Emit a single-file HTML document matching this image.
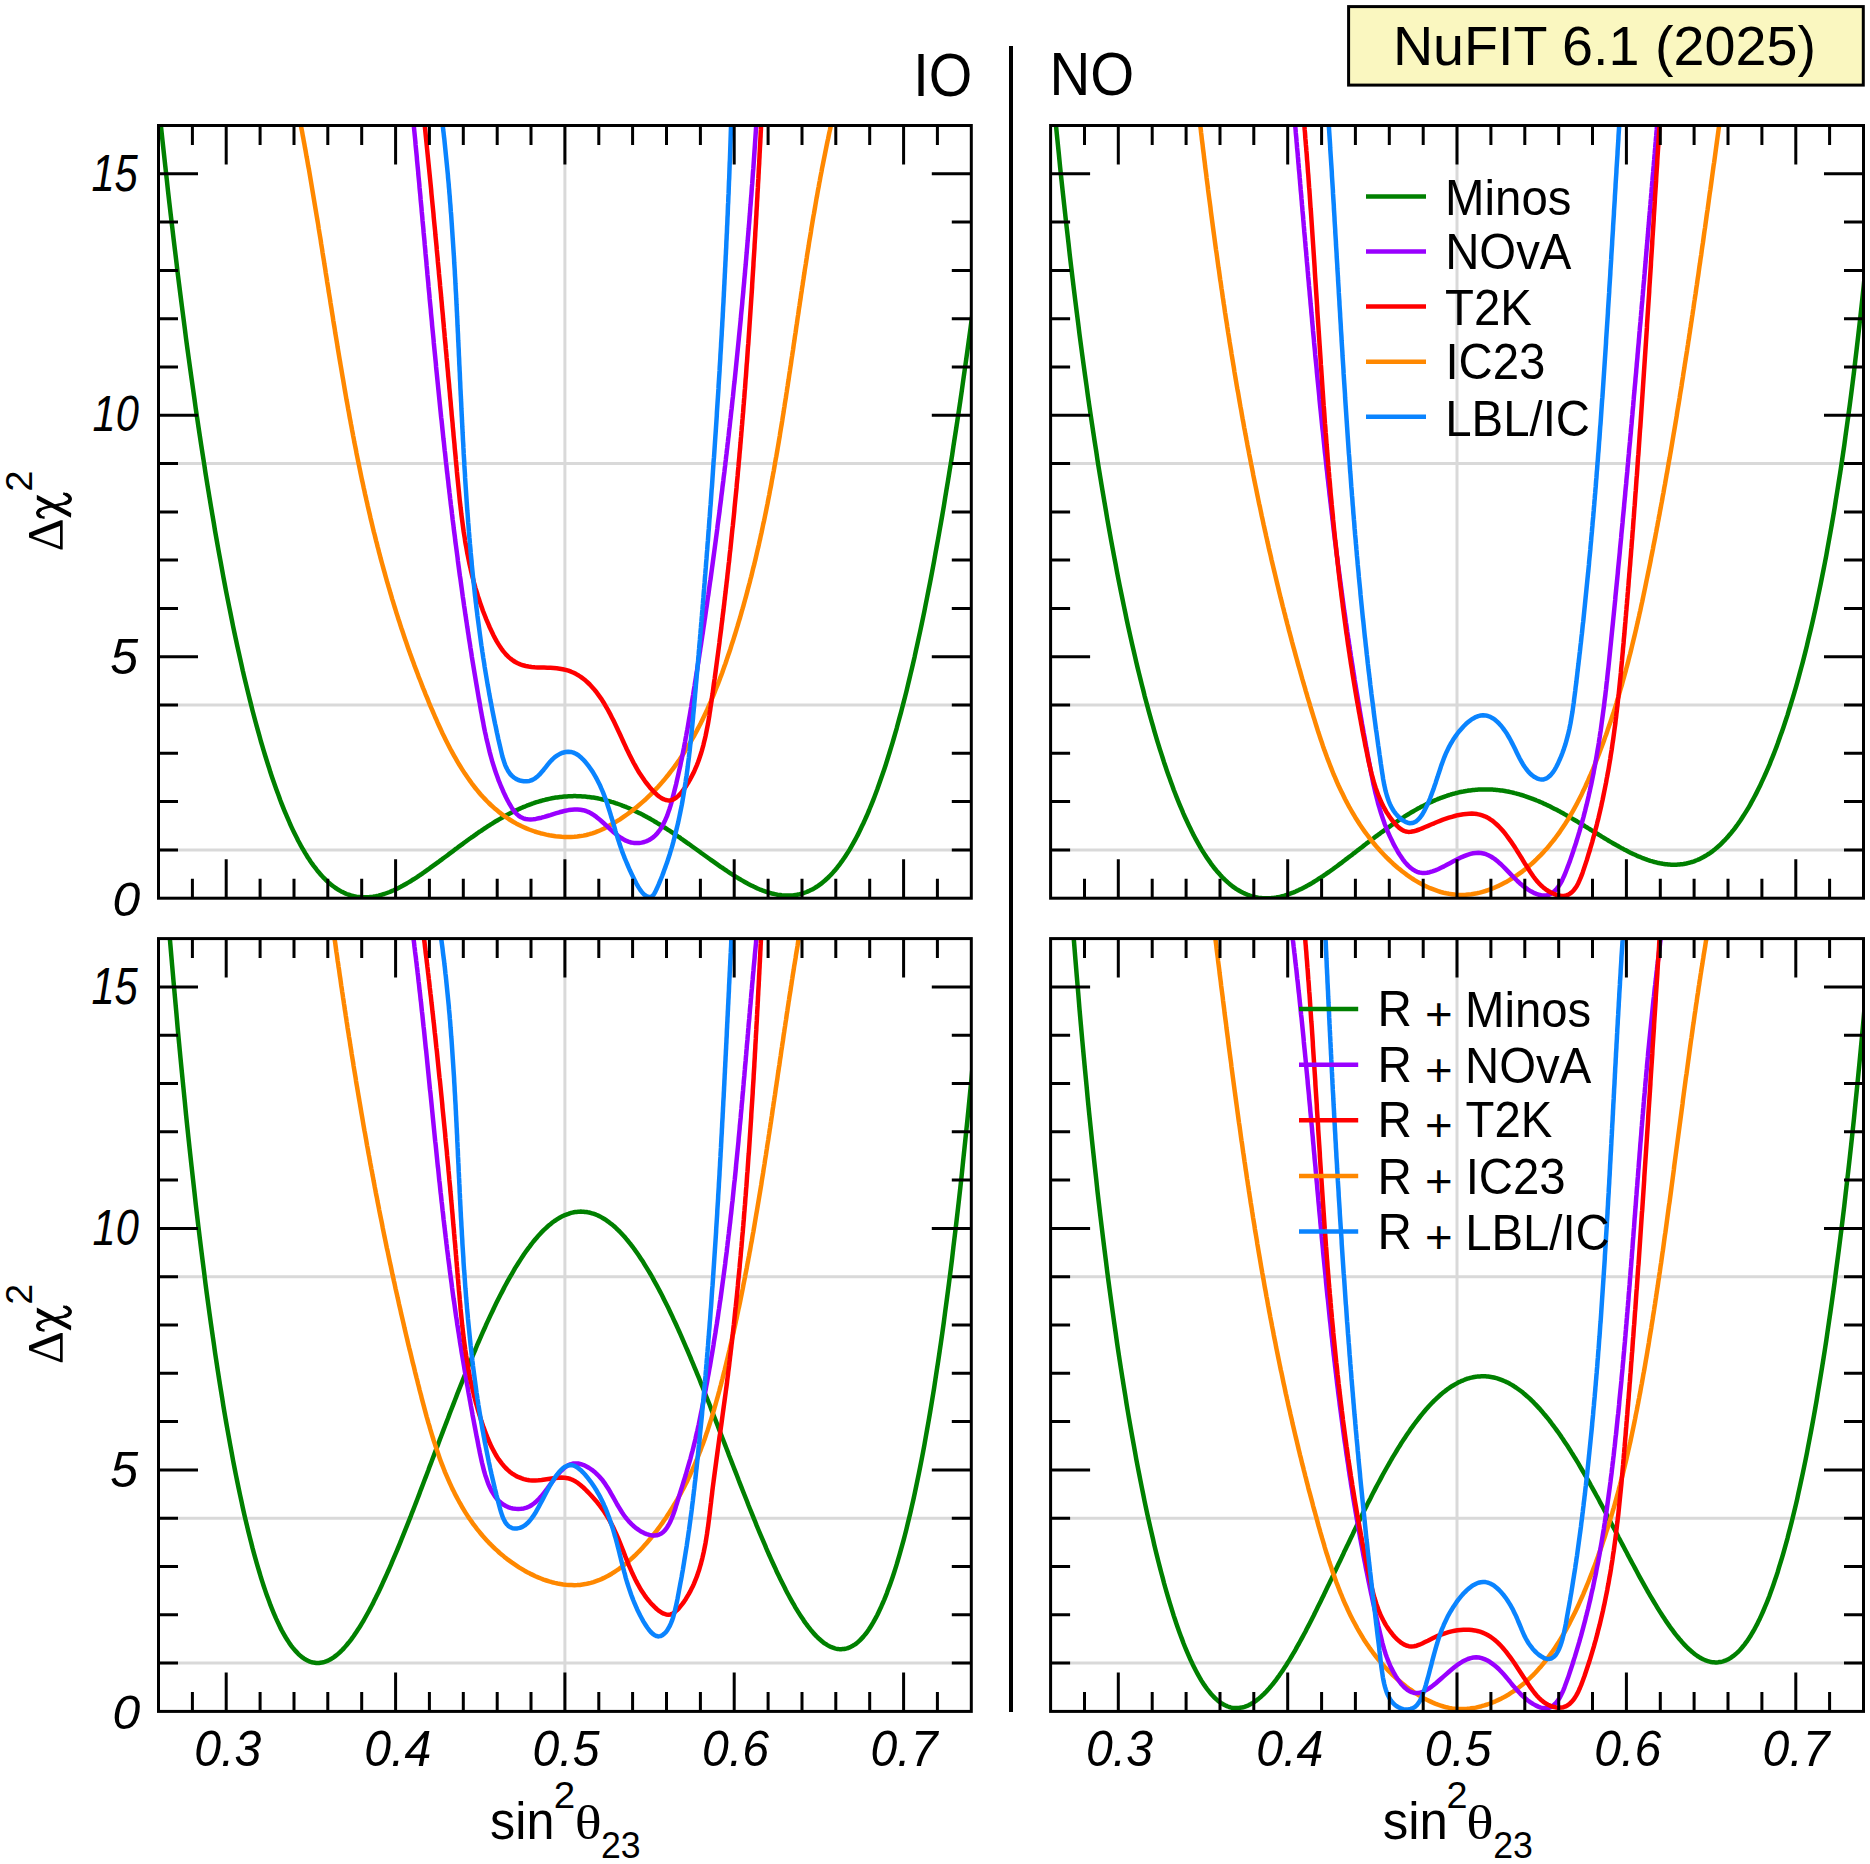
<!DOCTYPE html><html><head><meta charset="utf-8"><style>html,body{margin:0;padding:0;background:#fff;width:1870px;height:1864px;overflow:hidden}svg{display:block}</style></head><body>
<svg xmlns="http://www.w3.org/2000/svg" width="1870" height="1864" viewBox="0 0 1870 1864">
<rect width="1870" height="1864" fill="#fff"/>
<clipPath id="cTL"><rect x="158.5" y="125.5" width="812.8" height="772.7"/></clipPath>
<path d="M158.5 849.9H971.3 M158.5 705.0H971.3 M158.5 463.6H971.3 M564.9 125.5V898.2" stroke="#d9d9d9" stroke-width="3" fill="none"/>
<clipPath id="cBL"><rect x="158.5" y="938.6" width="812.8" height="772.8000000000001"/></clipPath>
<path d="M158.5 1663.1H971.3 M158.5 1518.2H971.3 M158.5 1276.7H971.3 M564.9 938.6V1711.4" stroke="#d9d9d9" stroke-width="3" fill="none"/>
<clipPath id="cTR"><rect x="1050.6" y="125.5" width="812.9000000000001" height="772.7"/></clipPath>
<path d="M1050.6 849.9H1863.5 M1050.6 705.0H1863.5 M1050.6 463.6H1863.5 M1457.0 125.5V898.2" stroke="#d9d9d9" stroke-width="3" fill="none"/>
<clipPath id="cBR"><rect x="1050.6" y="938.6" width="812.9000000000001" height="772.8000000000001"/></clipPath>
<path d="M1050.6 1663.1H1863.5 M1050.6 1518.2H1863.5 M1050.6 1276.7H1863.5 M1457.0 938.6V1711.4" stroke="#d9d9d9" stroke-width="3" fill="none"/>
<g clip-path="url(#cTL)" fill="none" stroke-width="4.5" stroke-linejoin="round" stroke-linecap="round">
<path d="M154.2 60.4 L155.6 74.2 L157.0 87.9 L158.3 101.4 L159.7 114.7 L161.1 127.8 L162.5 140.8 L163.9 153.6 L165.3 166.2 L166.7 178.7 L168.0 191.0 L169.4 203.2 L170.8 215.2 L172.2 227.1 L173.6 238.9 L175.0 250.4 L176.4 261.9 L177.7 273.2 L179.1 284.4 L180.5 295.4 L181.9 306.3 L183.3 317.0 L184.7 327.7 L186.0 338.2 L187.4 348.6 L188.8 358.8 L190.2 368.9 L191.6 378.9 L193.0 388.8 L194.4 398.6 L195.7 408.2 L197.1 417.7 L198.5 427.1 L199.9 436.4 L201.3 445.6 L202.7 454.6 L204.1 463.5 L205.4 472.4 L206.8 481.1 L208.2 489.7 L209.6 498.2 L211.0 506.6 L212.4 514.8 L213.8 523.0 L215.1 531.1 L216.5 539.0 L217.9 546.9 L219.3 554.6 L220.7 562.2 L222.1 569.8 L223.4 577.2 L224.8 584.5 L226.2 591.8 L227.6 598.9 L229.0 605.9 L230.4 612.8 L231.8 619.7 L233.1 626.4 L234.5 633.0 L235.9 639.5 L237.3 646.0 L238.7 652.3 L240.1 658.6 L241.5 664.7 L242.8 670.8 L244.2 676.7 L245.6 682.6 L247.0 688.3 L248.4 694.0 L249.8 699.6 L251.2 705.1 L252.5 710.5 L253.9 715.8 L255.3 721.0 L256.7 726.1 L258.1 731.2 L259.5 736.1 L260.8 741.0 L262.2 745.7 L263.6 750.4 L265.0 755.0 L266.4 759.5 L267.8 764.0 L269.2 768.3 L270.5 772.6 L271.9 776.7 L273.3 780.8 L274.7 784.8 L276.1 788.7 L277.5 792.6 L278.9 796.3 L280.2 800.0 L281.6 803.6 L283.0 807.1 L284.4 810.6 L285.8 813.9 L287.2 817.2 L288.6 820.4 L289.9 823.5 L291.3 826.6 L292.7 829.6 L294.1 832.5 L295.5 835.3 L296.9 838.0 L298.2 840.7 L299.6 843.3 L301.0 845.9 L302.4 848.3 L303.8 850.7 L305.2 853.1 L306.6 855.3 L307.9 857.5 L309.3 859.6 L310.7 861.7 L312.1 863.7 L313.5 865.6 L314.9 867.4 L316.3 869.2 L317.6 871.0 L319.0 872.6 L320.4 874.2 L321.8 875.8 L323.2 877.3 L324.6 878.7 L326.0 880.1 L327.3 881.4 L328.7 882.6 L330.1 883.8 L331.5 884.9 L332.9 886.0 L334.3 887.0 L335.6 888.0 L337.0 888.9 L338.4 889.8 L339.8 890.6 L341.2 891.4 L342.6 892.1 L344.0 892.8 L345.3 893.4 L346.7 894.0 L348.1 894.5 L349.5 894.9 L350.9 895.4 L352.3 895.8 L353.7 896.1 L355.0 896.4 L356.4 896.7 L357.8 896.9 L359.2 897.0 L360.6 897.2 L362.0 897.3 L363.4 897.3 L364.7 897.3 L366.1 897.3 L367.5 897.3 L368.9 897.2 L370.3 897.0 L371.7 896.9 L373.1 896.7 L374.4 896.4 L375.8 896.2 L377.2 895.9 L378.6 895.6 L380.0 895.2 L381.4 894.8 L382.7 894.4 L384.1 894.0 L385.5 893.5 L386.9 893.0 L388.3 892.5 L389.7 892.0 L391.1 891.4 L392.4 890.8 L393.8 890.2 L395.2 889.5 L396.6 888.9 L398.0 888.2 L399.4 887.5 L400.8 886.8 L402.1 886.1 L403.5 885.3 L404.9 884.5 L406.3 883.7 L407.7 882.9 L409.1 882.1 L410.5 881.3 L411.8 880.4 L413.2 879.5 L414.6 878.7 L416.0 877.8 L417.4 876.9 L418.8 875.9 L420.1 875.0 L421.5 874.1 L422.9 873.1 L424.3 872.2 L425.7 871.2 L427.1 870.2 L428.5 869.2 L429.8 868.2 L431.2 867.2 L432.6 866.2 L434.0 865.2 L435.4 864.2 L436.8 863.2 L438.2 862.2 L439.5 861.1 L440.9 860.1 L442.3 859.1 L443.7 858.0 L445.1 857.0 L446.5 856.0 L447.9 854.9 L449.2 853.9 L450.6 852.9 L452.0 851.8 L453.4 850.8 L454.8 849.7 L456.2 848.7 L457.5 847.7 L458.9 846.6 L460.3 845.6 L461.7 844.6 L463.1 843.6 L464.5 842.5 L465.9 841.5 L467.2 840.5 L468.6 839.5 L470.0 838.5 L471.4 837.5 L472.8 836.6 L474.2 835.6 L475.6 834.6 L476.9 833.6 L478.3 832.7 L479.7 831.7 L481.1 830.8 L482.5 829.8 L483.9 828.9 L485.3 828.0 L486.6 827.1 L488.0 826.2 L489.4 825.3 L490.8 824.4 L492.2 823.6 L493.6 822.7 L494.9 821.8 L496.3 821.0 L497.7 820.2 L499.1 819.4 L500.5 818.6 L501.9 817.8 L503.3 817.0 L504.6 816.2 L506.0 815.5 L507.4 814.7 L508.8 814.0 L510.2 813.3 L511.6 812.6 L513.0 811.9 L514.3 811.2 L515.7 810.5 L517.1 809.9 L518.5 809.2 L519.9 808.6 L521.3 808.0 L522.7 807.4 L524.0 806.8 L525.4 806.3 L526.8 805.7 L528.2 805.2 L529.6 804.6 L531.0 804.1 L532.3 803.6 L533.7 803.2 L535.1 802.7 L536.5 802.2 L537.9 801.8 L539.3 801.4 L540.7 801.0 L542.0 800.6 L543.4 800.2 L544.8 799.9 L546.2 799.5 L547.6 799.2 L549.0 798.9 L550.4 798.6 L551.7 798.3 L553.1 798.1 L554.5 797.8 L555.9 797.6 L557.3 797.4 L558.7 797.2 L560.1 797.0 L561.4 796.9 L562.8 796.7 L564.2 796.6 L565.6 796.5 L567.0 796.4 L568.4 796.3 L569.7 796.2 L571.1 796.2 L572.5 796.2 L573.9 796.1 L575.3 796.1 L576.7 796.2 L578.1 796.2 L579.4 796.2 L580.8 796.3 L582.2 796.4 L583.6 796.5 L585.0 796.6 L586.4 796.7 L587.8 796.9 L589.1 797.0 L590.5 797.2 L591.9 797.4 L593.3 797.6 L594.7 797.8 L596.1 798.1 L597.5 798.3 L598.8 798.6 L600.2 798.9 L601.6 799.2 L603.0 799.5 L604.4 799.9 L605.8 800.2 L607.1 800.6 L608.5 800.9 L609.9 801.3 L611.3 801.8 L612.7 802.2 L614.1 802.6 L615.5 803.1 L616.8 803.5 L618.2 804.0 L619.6 804.5 L621.0 805.0 L622.4 805.6 L623.8 806.1 L625.2 806.7 L626.5 807.2 L627.9 807.8 L629.3 808.4 L630.7 809.0 L632.1 809.6 L633.5 810.3 L634.9 810.9 L636.2 811.6 L637.6 812.2 L639.0 812.9 L640.4 813.6 L641.8 814.3 L643.2 815.0 L644.5 815.8 L645.9 816.5 L647.3 817.3 L648.7 818.0 L650.1 818.8 L651.5 819.6 L652.9 820.4 L654.2 821.2 L655.6 822.0 L657.0 822.9 L658.4 823.7 L659.8 824.5 L661.2 825.4 L662.6 826.3 L663.9 827.1 L665.3 828.0 L666.7 828.9 L668.1 829.8 L669.5 830.7 L670.9 831.6 L672.3 832.5 L673.6 833.5 L675.0 834.4 L676.4 835.3 L677.8 836.3 L679.2 837.2 L680.6 838.2 L681.9 839.2 L683.3 840.1 L684.7 841.1 L686.1 842.1 L687.5 843.1 L688.9 844.0 L690.3 845.0 L691.6 846.0 L693.0 847.0 L694.4 848.0 L695.8 849.0 L697.2 850.0 L698.6 851.0 L700.0 852.0 L701.3 853.0 L702.7 854.0 L704.1 855.0 L705.5 856.0 L706.9 857.0 L708.3 858.0 L709.7 859.0 L711.0 860.0 L712.4 860.9 L713.8 861.9 L715.2 862.9 L716.6 863.9 L718.0 864.9 L719.3 865.8 L720.7 866.8 L722.1 867.7 L723.5 868.7 L724.9 869.6 L726.3 870.5 L727.7 871.5 L729.0 872.4 L730.4 873.3 L731.8 874.2 L733.2 875.1 L734.6 875.9 L736.0 876.8 L737.4 877.7 L738.7 878.5 L740.1 879.3 L741.5 880.1 L742.9 880.9 L744.3 881.7 L745.7 882.5 L747.1 883.3 L748.4 884.0 L749.8 884.7 L751.2 885.4 L752.6 886.1 L754.0 886.8 L755.4 887.4 L756.7 888.1 L758.1 888.7 L759.5 889.3 L760.9 889.8 L762.3 890.4 L763.7 890.9 L765.1 891.4 L766.4 891.9 L767.8 892.3 L769.2 892.7 L770.6 893.1 L772.0 893.5 L773.4 893.8 L774.8 894.1 L776.1 894.4 L777.5 894.7 L778.9 894.9 L780.3 895.1 L781.7 895.3 L783.1 895.4 L784.5 895.5 L785.8 895.6 L787.2 895.6 L788.6 895.6 L790.0 895.5 L791.4 895.5 L792.8 895.4 L794.2 895.2 L795.5 895.0 L796.9 894.8 L798.3 894.5 L799.7 894.2 L801.1 893.8 L802.5 893.4 L803.8 893.0 L805.2 892.5 L806.6 892.0 L808.0 891.4 L809.4 890.8 L810.8 890.1 L812.2 889.4 L813.5 888.7 L814.9 887.9 L816.3 887.0 L817.7 886.1 L819.1 885.1 L820.5 884.1 L821.9 883.1 L823.2 881.9 L824.6 880.8 L826.0 879.5 L827.4 878.3 L828.8 876.9 L830.2 875.5 L831.6 874.1 L832.9 872.6 L834.3 871.0 L835.7 869.4 L837.1 867.7 L838.5 865.9 L839.9 864.1 L841.2 862.2 L842.6 860.3 L844.0 858.3 L845.4 856.2 L846.8 854.1 L848.2 851.9 L849.6 849.6 L850.9 847.3 L852.3 844.9 L853.7 842.4 L855.1 839.9 L856.5 837.3 L857.9 834.6 L859.3 831.8 L860.6 829.0 L862.0 826.1 L863.4 823.2 L864.8 820.1 L866.2 817.0 L867.6 813.8 L869.0 810.5 L870.3 807.2 L871.7 803.8 L873.1 800.3 L874.5 796.7 L875.9 793.0 L877.3 789.3 L878.6 785.5 L880.0 781.6 L881.4 777.6 L882.8 773.5 L884.2 769.4 L885.6 765.2 L887.0 760.8 L888.3 756.5 L889.7 752.0 L891.1 747.4 L892.5 742.8 L893.9 738.0 L895.3 733.2 L896.7 728.3 L898.0 723.3 L899.4 718.2 L900.8 713.1 L902.2 707.8 L903.6 702.4 L905.0 697.0 L906.4 691.5 L907.7 685.9 L909.1 680.1 L910.5 674.3 L911.9 668.4 L913.3 662.4 L914.7 656.4 L916.0 650.2 L917.4 643.9 L918.8 637.6 L920.2 631.1 L921.6 624.5 L923.0 617.9 L924.4 611.1 L925.7 604.3 L927.1 597.4 L928.5 590.3 L929.9 583.2 L931.3 576.0 L932.7 568.6 L934.1 561.2 L935.4 553.7 L936.8 546.0 L938.2 538.3 L939.6 530.4 L941.0 522.5 L942.4 514.5 L943.8 506.3 L945.1 498.1 L946.5 489.7 L947.9 481.3 L949.3 472.7 L950.7 464.0 L952.1 455.3 L953.4 446.4 L954.8 437.4 L956.2 428.3 L957.6 419.1 L959.0 409.8 L960.4 400.4 L961.8 390.8 L963.1 381.2 L964.5 371.4 L965.9 361.5 L967.3 351.5 L968.7 341.4 L970.1 331.2 L971.5 320.9 L972.8 310.4 L974.2 299.8 L975.6 289.1 L977.0 278.3 L978.4 267.3 L979.8 256.3" stroke="#008000"/>
<path d="M300.6 123.8 L301.1 126.8 L301.7 129.8 L302.3 132.8 L302.8 135.8 L303.4 138.8 L303.9 141.8 L304.5 144.8 L305.0 147.8 L305.6 150.8 L306.1 153.8 L306.6 156.8 L307.2 159.8 L307.7 162.8 L308.2 165.8 L308.8 168.7 L309.3 171.7 L309.8 174.7 L310.3 177.7 L310.8 180.7 L311.3 183.7 L311.8 186.7 L312.3 189.7 L312.8 192.7 L313.3 195.7 L313.8 198.7 L314.3 201.6 L314.8 204.6 L315.3 207.6 L315.8 210.6 L316.3 213.6 L316.8 216.6 L317.3 219.5 L317.8 222.5 L318.3 225.5 L318.7 228.5 L319.2 231.5 L319.7 234.5 L320.2 237.4 L320.7 240.4 L321.1 243.4 L321.6 246.4 L322.1 249.3 L322.5 252.3 L323.0 255.3 L323.5 258.3 L324.0 261.3 L324.4 264.2 L324.9 267.2 L325.4 270.2 L325.8 273.1 L326.3 276.1 L326.8 279.1 L327.2 282.1 L327.7 285.0 L328.2 288.0 L328.6 291.0 L329.1 293.9 L329.6 296.9 L330.1 299.9 L330.5 302.8 L331.0 305.8 L331.5 308.8 L331.9 311.7 L332.4 314.7 L332.9 317.7 L333.3 320.6 L333.8 323.6 L334.3 326.5 L334.8 329.5 L335.2 332.5 L335.7 335.4 L336.2 338.4 L336.7 341.3 L337.2 344.3 L337.6 347.2 L338.1 350.2 L338.6 353.2 L339.1 356.1 L339.6 359.1 L340.1 362.0 L340.6 365.0 L341.1 367.9 L341.6 370.9 L342.1 373.8 L342.6 376.8 L343.1 379.7 L343.6 382.7 L344.1 385.6 L344.6 388.6 L345.1 391.5 L345.6 394.4 L346.1 397.4 L346.6 400.3 L347.2 403.3 L347.7 406.2 L348.2 409.2 L348.8 412.1 L349.3 415.0 L349.8 418.0 L350.4 420.9 L350.9 423.9 L351.5 426.8 L352.0 429.7 L352.6 432.7 L353.1 435.6 L353.7 438.5 L354.2 441.5 L354.8 444.4 L355.4 447.3 L356.0 450.3 L356.5 453.2 L357.1 456.1 L357.7 459.1 L358.3 462.0 L358.9 464.9 L359.5 467.9 L360.1 470.8 L360.7 473.7 L361.3 476.6 L361.9 479.6 L362.6 482.5 L363.2 485.4 L363.8 488.3 L364.5 491.2 L365.1 494.2 L365.8 497.1 L366.4 500.0 L367.1 502.9 L367.7 505.8 L368.4 508.8 L369.1 511.7 L369.8 514.6 L370.4 517.5 L371.1 520.4 L371.8 523.3 L372.5 526.2 L373.2 529.2 L373.9 532.1 L374.7 535.0 L375.4 537.9 L376.1 540.8 L376.9 543.7 L377.6 546.6 L378.4 549.5 L379.1 552.4 L379.9 555.3 L380.6 558.2 L381.4 561.1 L382.2 564.0 L383.0 566.9 L383.8 569.8 L384.6 572.7 L385.4 575.6 L386.2 578.5 L387.0 581.4 L387.9 584.3 L388.7 587.2 L389.6 590.1 L390.4 593.0 L391.3 595.9 L392.1 598.8 L393.0 601.7 L393.9 604.6 L394.8 607.5 L395.7 610.4 L396.6 613.3 L397.5 616.1 L398.4 619.0 L399.4 621.9 L400.3 624.8 L401.2 627.7 L402.2 630.6 L403.2 633.5 L404.1 636.3 L405.1 639.2 L406.1 642.1 L407.1 645.0 L408.1 647.9 L409.1 650.7 L410.1 653.6 L411.2 656.5 L412.2 659.4 L413.3 662.2 L414.3 665.1 L415.4 668.0 L416.5 670.9 L417.6 673.7 L418.6 676.6 L419.8 679.5 L420.9 682.3 L422.0 685.2 L423.1 688.1 L424.3 690.9 L425.4 693.8 L426.6 696.7 L427.8 699.5 L428.9 702.4 L430.1 705.3 L431.3 708.1 L432.6 711.0 L433.8 713.8 L435.0 716.7 L436.3 719.5 L437.5 722.4 L438.8 725.2 L440.1 728.0 L441.4 730.9 L442.7 733.7 L444.1 736.5 L445.4 739.2 L446.8 742.0 L448.2 744.7 L449.6 747.5 L451.0 750.2 L452.5 752.9 L454.0 755.6 L455.5 758.2 L457.0 760.9 L458.5 763.5 L460.1 766.0 L461.7 768.6 L463.3 771.1 L464.9 773.6 L466.6 776.1 L468.3 778.5 L470.0 780.9 L471.7 783.3 L473.5 785.7 L475.3 788.0 L477.1 790.2 L479.0 792.5 L480.9 794.7 L482.8 796.8 L484.8 798.9 L486.8 801.0 L488.8 803.0 L490.9 805.0 L493.0 806.9 L495.1 808.8 L497.3 810.6 L499.5 812.4 L501.7 814.1 L504.0 815.8 L506.4 817.4 L508.7 819.0 L511.1 820.5 L513.6 822.0 L516.1 823.4 L518.6 824.7 L521.2 826.0 L523.8 827.2 L526.4 828.4 L529.1 829.5 L531.9 830.5 L534.7 831.5 L537.5 832.3 L540.4 833.2 L543.4 833.9 L546.3 834.6 L549.4 835.2 L552.4 835.7 L555.5 836.2 L558.6 836.5 L561.7 836.8 L564.8 836.9 L567.9 837.0 L571.0 836.9 L574.2 836.8 L577.3 836.5 L580.3 836.1 L583.4 835.6 L586.4 835.0 L589.4 834.2 L592.3 833.3 L595.2 832.3 L598.1 831.2 L600.9 830.0 L603.7 828.7 L606.4 827.3 L609.1 825.8 L611.8 824.3 L614.4 822.8 L617.0 821.2 L619.6 819.6 L622.1 817.9 L624.6 816.2 L627.0 814.5 L629.5 812.7 L631.8 810.9 L634.2 809.1 L636.5 807.2 L638.8 805.3 L641.0 803.4 L643.3 801.4 L645.5 799.5 L647.6 797.4 L649.7 795.4 L651.8 793.3 L653.9 791.2 L655.9 789.1 L657.9 787.0 L659.9 784.8 L661.8 782.6 L663.8 780.3 L665.6 778.1 L667.5 775.8 L669.3 773.5 L671.1 771.2 L672.9 768.8 L674.7 766.4 L676.4 764.0 L678.1 761.6 L679.8 759.2 L681.4 756.7 L683.1 754.2 L684.7 751.7 L686.2 749.2 L687.8 746.7 L689.3 744.1 L690.8 741.6 L692.3 739.0 L693.8 736.4 L695.2 733.7 L696.6 731.1 L698.0 728.4 L699.4 725.7 L700.8 723.1 L702.1 720.4 L703.4 717.6 L704.7 714.9 L706.0 712.2 L707.3 709.4 L708.5 706.6 L709.7 703.9 L711.0 701.1 L712.1 698.3 L713.3 695.5 L714.5 692.6 L715.6 689.8 L716.7 687.0 L717.9 684.1 L719.0 681.3 L720.0 678.4 L721.1 675.6 L722.2 672.7 L723.2 669.8 L724.2 666.9 L725.3 664.0 L726.3 661.1 L727.2 658.2 L728.2 655.3 L729.2 652.4 L730.2 649.5 L731.1 646.6 L732.0 643.7 L733.0 640.8 L733.9 637.9 L734.8 635.0 L735.7 632.1 L736.6 629.1 L737.5 626.2 L738.3 623.3 L739.2 620.4 L740.1 617.5 L740.9 614.6 L741.7 611.7 L742.6 608.7 L743.4 605.8 L744.2 602.9 L745.0 600.0 L745.8 597.1 L746.6 594.1 L747.4 591.2 L748.1 588.3 L748.9 585.4 L749.7 582.5 L750.4 579.5 L751.2 576.6 L751.9 573.7 L752.6 570.8 L753.3 567.8 L754.1 564.9 L754.8 562.0 L755.5 559.1 L756.2 556.1 L756.8 553.2 L757.5 550.3 L758.2 547.4 L758.9 544.4 L759.5 541.5 L760.2 538.6 L760.8 535.6 L761.5 532.7 L762.1 529.8 L762.7 526.9 L763.3 523.9 L764.0 521.0 L764.6 518.1 L765.2 515.1 L765.8 512.2 L766.4 509.3 L767.0 506.3 L767.6 503.4 L768.1 500.5 L768.7 497.5 L769.3 494.6 L769.8 491.6 L770.4 488.7 L771.0 485.8 L771.5 482.8 L772.0 479.9 L772.6 477.0 L773.1 474.0 L773.7 471.1 L774.2 468.1 L774.7 465.2 L775.2 462.2 L775.7 459.3 L776.3 456.4 L776.8 453.4 L777.3 450.5 L777.8 447.5 L778.3 444.6 L778.8 441.6 L779.3 438.7 L779.8 435.8 L780.2 432.8 L780.7 429.9 L781.2 426.9 L781.7 424.0 L782.2 421.0 L782.6 418.1 L783.1 415.1 L783.6 412.2 L784.0 409.2 L784.5 406.3 L784.9 403.3 L785.4 400.4 L785.9 397.4 L786.3 394.5 L786.8 391.5 L787.2 388.5 L787.7 385.6 L788.1 382.6 L788.6 379.7 L789.0 376.7 L789.4 373.8 L789.9 370.8 L790.3 367.9 L790.8 364.9 L791.2 361.9 L791.6 359.0 L792.1 356.0 L792.5 353.1 L793.0 350.1 L793.4 347.1 L793.8 344.2 L794.3 341.2 L794.7 338.3 L795.1 335.3 L795.6 332.3 L796.0 329.4 L796.4 326.4 L796.9 323.4 L797.3 320.5 L797.7 317.5 L798.2 314.5 L798.6 311.6 L799.0 308.6 L799.5 305.6 L799.9 302.7 L800.4 299.7 L800.8 296.7 L801.2 293.8 L801.7 290.8 L802.1 287.8 L802.6 284.9 L803.0 281.9 L803.5 278.9 L803.9 275.9 L804.4 273.0 L804.8 270.0 L805.3 267.0 L805.8 264.0 L806.2 261.1 L806.7 258.1 L807.1 255.1 L807.6 252.1 L808.1 249.2 L808.6 246.2 L809.0 243.2 L809.5 240.2 L810.0 237.3 L810.5 234.3 L811.0 231.3 L811.4 228.3 L811.9 225.3 L812.4 222.4 L812.9 219.4 L813.4 216.4 L814.0 213.4 L814.5 210.4 L815.0 207.5 L815.5 204.5 L816.0 201.5 L816.5 198.5 L817.1 195.5 L817.6 192.5 L818.1 189.6 L818.7 186.6 L819.2 183.6 L819.8 180.6 L820.3 177.6 L820.9 174.6 L821.5 171.6 L822.0 168.6 L822.6 165.7 L823.2 162.7 L823.8 159.7 L824.4 156.7 L825.0 153.7 L825.6 150.7 L826.2 147.7 L826.8 144.7 L827.4 141.7 L828.1 138.7 L828.7 135.7 L829.3 132.7 L830.0 129.8 L830.6 126.8 L831.3 123.8" stroke="#ff8800"/>
<path d="M413.6 123.9 L413.9 126.9 L414.2 129.9 L414.5 132.9 L414.8 135.9 L415.1 138.9 L415.4 142.0 L415.6 145.0 L415.9 148.0 L416.2 151.0 L416.5 154.0 L416.8 157.0 L417.0 160.1 L417.3 163.1 L417.6 166.1 L417.9 169.1 L418.2 172.1 L418.4 175.1 L418.7 178.1 L419.0 181.1 L419.3 184.1 L419.5 187.2 L419.8 190.2 L420.1 193.2 L420.4 196.2 L420.6 199.2 L420.9 202.2 L421.2 205.2 L421.5 208.2 L421.7 211.2 L422.0 214.2 L422.3 217.2 L422.5 220.2 L422.8 223.2 L423.1 226.2 L423.4 229.2 L423.6 232.2 L423.9 235.2 L424.2 238.2 L424.5 241.2 L424.7 244.2 L425.0 247.2 L425.3 250.2 L425.5 253.2 L425.8 256.2 L426.1 259.2 L426.4 262.2 L426.6 265.2 L426.9 268.2 L427.2 271.2 L427.4 274.2 L427.7 277.2 L428.0 280.2 L428.3 283.2 L428.5 286.2 L428.8 289.2 L429.1 292.2 L429.4 295.2 L429.6 298.2 L429.9 301.2 L430.2 304.2 L430.5 307.2 L430.8 310.1 L431.0 313.1 L431.3 316.1 L431.6 319.1 L431.9 322.1 L432.1 325.1 L432.4 328.1 L432.7 331.1 L433.0 334.1 L433.3 337.1 L433.6 340.1 L433.8 343.0 L434.1 346.0 L434.4 349.0 L434.7 352.0 L435.0 355.0 L435.3 358.0 L435.6 361.0 L435.9 364.0 L436.1 367.0 L436.4 369.9 L436.7 372.9 L437.0 375.9 L437.3 378.9 L437.6 381.9 L437.9 384.9 L438.2 387.9 L438.5 390.8 L438.8 393.8 L439.1 396.8 L439.4 399.8 L439.7 402.8 L440.0 405.8 L440.3 408.8 L440.6 411.7 L440.9 414.7 L441.2 417.7 L441.6 420.7 L441.9 423.7 L442.2 426.7 L442.5 429.7 L442.8 432.6 L443.1 435.6 L443.4 438.6 L443.8 441.6 L444.1 444.6 L444.4 447.6 L444.7 450.5 L445.1 453.5 L445.4 456.5 L445.7 459.5 L446.0 462.5 L446.4 465.5 L446.7 468.5 L447.0 471.4 L447.4 474.4 L447.7 477.4 L448.1 480.4 L448.4 483.4 L448.7 486.4 L449.1 489.3 L449.4 492.3 L449.8 495.3 L450.1 498.3 L450.5 501.3 L450.8 504.3 L451.2 507.2 L451.6 510.2 L451.9 513.2 L452.3 516.2 L452.6 519.2 L453.0 522.2 L453.4 525.1 L453.7 528.1 L454.1 531.1 L454.5 534.1 L454.9 537.1 L455.2 540.1 L455.6 543.1 L456.0 546.0 L456.4 549.0 L456.8 552.0 L457.2 555.0 L457.6 558.0 L457.9 561.0 L458.3 564.0 L458.7 566.9 L459.1 569.9 L459.5 572.9 L459.9 575.9 L460.4 578.9 L460.8 581.9 L461.2 584.9 L461.6 587.8 L462.0 590.8 L462.4 593.8 L462.8 596.8 L463.3 599.8 L463.7 602.8 L464.1 605.8 L464.6 608.8 L465.0 611.7 L465.4 614.7 L465.9 617.7 L466.3 620.7 L466.8 623.7 L467.2 626.7 L467.7 629.7 L468.1 632.7 L468.6 635.7 L469.0 638.7 L469.5 641.6 L470.0 644.6 L470.4 647.6 L470.9 650.6 L471.4 653.6 L471.8 656.6 L472.3 659.6 L472.8 662.6 L473.3 665.6 L473.8 668.6 L474.3 671.6 L474.8 674.6 L475.3 677.6 L475.8 680.6 L476.3 683.6 L476.8 686.5 L477.3 689.5 L477.8 692.5 L478.3 695.5 L478.8 698.5 L479.4 701.5 L479.9 704.5 L480.4 707.5 L480.9 710.5 L481.5 713.5 L482.0 716.5 L482.6 719.5 L483.2 722.5 L483.7 725.5 L484.3 728.5 L484.9 731.4 L485.6 734.4 L486.2 737.4 L486.9 740.4 L487.6 743.3 L488.3 746.3 L489.0 749.2 L489.7 752.1 L490.5 755.1 L491.3 758.0 L492.1 760.9 L493.0 763.8 L493.9 766.7 L494.8 769.5 L495.8 772.4 L496.8 775.2 L497.8 778.1 L498.8 780.9 L500.0 783.7 L501.1 786.5 L502.3 789.2 L503.5 792.0 L504.8 794.7 L506.1 797.5 L507.5 800.2 L508.9 802.8 L510.4 805.4 L511.9 808.0 L513.6 810.3 L515.3 812.5 L517.1 814.4 L519.0 816.0 L521.1 817.3 L523.3 818.3 L525.6 819.0 L528.0 819.3 L530.5 819.4 L533.1 819.2 L535.8 818.9 L538.6 818.3 L541.5 817.7 L544.4 816.9 L547.3 816.0 L550.3 815.1 L553.3 814.1 L556.4 813.2 L559.4 812.3 L562.5 811.5 L565.5 810.7 L568.6 810.1 L571.6 809.7 L574.5 809.5 L577.5 809.4 L580.4 809.7 L583.2 810.2 L586.0 811.0 L588.6 812.1 L591.3 813.5 L593.9 815.1 L596.4 816.9 L598.9 818.9 L601.3 821.0 L603.8 823.2 L606.2 825.4 L608.6 827.6 L611.0 829.9 L613.4 832.0 L615.9 834.1 L618.3 836.0 L620.8 837.8 L623.3 839.3 L625.8 840.7 L628.4 841.7 L631.1 842.5 L633.7 842.9 L636.4 843.1 L639.1 843.0 L641.7 842.6 L644.3 842.0 L646.7 841.1 L649.1 840.0 L651.3 838.6 L653.4 837.1 L655.3 835.3 L657.2 833.4 L658.9 831.2 L660.5 829.0 L662.0 826.5 L663.4 823.9 L664.7 821.3 L666.0 818.4 L667.2 815.6 L668.2 812.6 L669.3 809.5 L670.3 806.4 L671.2 803.3 L672.1 800.1 L672.9 796.9 L673.7 793.7 L674.5 790.5 L675.3 787.4 L676.1 784.2 L676.8 781.1 L677.5 778.0 L678.2 774.9 L678.9 771.8 L679.6 768.7 L680.3 765.7 L680.9 762.6 L681.6 759.6 L682.2 756.5 L682.8 753.5 L683.4 750.5 L684.0 747.5 L684.5 744.6 L685.1 741.6 L685.6 738.6 L686.2 735.6 L686.7 732.7 L687.3 729.7 L687.8 726.8 L688.3 723.9 L688.8 720.9 L689.3 718.0 L689.8 715.1 L690.3 712.1 L690.8 709.2 L691.3 706.3 L691.7 703.4 L692.2 700.4 L692.7 697.5 L693.2 694.6 L693.6 691.6 L694.1 688.7 L694.6 685.8 L695.0 682.8 L695.5 679.9 L696.0 677.0 L696.4 674.0 L696.9 671.1 L697.4 668.2 L697.8 665.2 L698.3 662.3 L698.7 659.3 L699.2 656.4 L699.6 653.4 L700.1 650.5 L700.5 647.5 L701.0 644.6 L701.4 641.6 L701.9 638.7 L702.3 635.7 L702.8 632.8 L703.2 629.8 L703.6 626.9 L704.1 623.9 L704.5 621.0 L705.0 618.0 L705.4 615.0 L705.8 612.1 L706.2 609.1 L706.7 606.1 L707.1 603.2 L707.5 600.2 L707.9 597.2 L708.4 594.3 L708.8 591.3 L709.2 588.3 L709.6 585.4 L710.0 582.4 L710.5 579.4 L710.9 576.5 L711.3 573.5 L711.7 570.5 L712.1 567.5 L712.5 564.6 L712.9 561.6 L713.3 558.6 L713.7 555.6 L714.1 552.7 L714.5 549.7 L714.9 546.7 L715.3 543.7 L715.7 540.7 L716.1 537.7 L716.5 534.8 L716.9 531.8 L717.3 528.8 L717.6 525.8 L718.0 522.8 L718.4 519.8 L718.8 516.8 L719.2 513.9 L719.6 510.9 L719.9 507.9 L720.3 504.9 L720.7 501.9 L721.1 498.9 L721.4 495.9 L721.8 492.9 L722.2 489.9 L722.5 486.9 L722.9 483.9 L723.3 481.0 L723.6 478.0 L724.0 475.0 L724.4 472.0 L724.7 469.0 L725.1 466.0 L725.4 463.0 L725.8 460.0 L726.1 457.0 L726.5 454.0 L726.8 451.0 L727.2 448.0 L727.5 445.0 L727.9 442.0 L728.2 439.0 L728.6 436.0 L728.9 433.0 L729.2 430.0 L729.6 427.0 L729.9 424.0 L730.2 421.0 L730.6 418.0 L730.9 415.0 L731.2 412.0 L731.6 409.0 L731.9 406.0 L732.2 403.0 L732.5 400.0 L732.9 397.0 L733.2 393.9 L733.5 390.9 L733.8 387.9 L734.1 384.9 L734.5 381.9 L734.8 378.9 L735.1 375.9 L735.4 372.9 L735.7 369.9 L736.0 366.9 L736.3 363.9 L736.6 360.9 L736.9 357.9 L737.2 354.9 L737.5 351.9 L737.8 348.9 L738.1 345.9 L738.4 342.9 L738.7 339.9 L739.0 336.8 L739.3 333.8 L739.6 330.8 L739.9 327.8 L740.2 324.8 L740.5 321.8 L740.8 318.8 L741.0 315.8 L741.3 312.8 L741.6 309.8 L741.9 306.8 L742.2 303.8 L742.4 300.8 L742.7 297.8 L743.0 294.8 L743.3 291.8 L743.5 288.8 L743.8 285.8 L744.1 282.8 L744.3 279.8 L744.6 276.8 L744.9 273.8 L745.1 270.8 L745.4 267.8 L745.7 264.8 L745.9 261.8 L746.2 258.8 L746.4 255.8 L746.7 252.8 L746.9 249.8 L747.2 246.8 L747.4 243.8 L747.7 240.8 L747.9 237.8 L748.2 234.8 L748.4 231.8 L748.7 228.8 L748.9 225.8 L749.2 222.8 L749.4 219.8 L749.6 216.8 L749.9 213.8 L750.1 210.8 L750.3 207.8 L750.6 204.8 L750.8 201.8 L751.0 198.8 L751.3 195.8 L751.5 192.8 L751.7 189.9 L751.9 186.9 L752.2 183.9 L752.4 180.9 L752.6 177.9 L752.8 174.9 L753.0 171.9 L753.3 168.9 L753.5 166.0 L753.7 163.0 L753.9 160.0 L754.1 157.0 L754.3 154.0 L754.5 151.0 L754.7 148.1 L754.9 145.1 L755.1 142.1 L755.3 139.1 L755.5 136.1 L755.7 133.2 L755.9 130.2 L756.1 127.2 L756.3 124.2" stroke="#9900ff"/>
<path d="M424.6 124.0 L424.9 127.0 L425.2 130.0 L425.5 133.0 L425.8 136.0 L426.1 139.0 L426.4 142.1 L426.7 145.1 L427.0 148.1 L427.3 151.1 L427.6 154.1 L427.9 157.1 L428.2 160.1 L428.5 163.1 L428.8 166.1 L429.1 169.1 L429.4 172.1 L429.7 175.1 L430.0 178.1 L430.3 181.1 L430.6 184.1 L430.9 187.1 L431.2 190.1 L431.4 193.1 L431.7 196.1 L432.0 199.1 L432.3 202.1 L432.6 205.1 L432.9 208.1 L433.2 211.1 L433.5 214.1 L433.7 217.1 L434.0 220.1 L434.3 223.1 L434.6 226.1 L434.9 229.1 L435.2 232.1 L435.4 235.1 L435.7 238.0 L436.0 241.0 L436.3 244.0 L436.6 247.0 L436.8 250.0 L437.1 253.0 L437.4 256.0 L437.7 259.0 L437.9 262.0 L438.2 265.0 L438.5 268.0 L438.8 270.9 L439.0 273.9 L439.3 276.9 L439.6 279.9 L439.9 282.9 L440.1 285.9 L440.4 288.9 L440.7 291.9 L441.0 294.9 L441.2 297.8 L441.5 300.8 L441.8 303.8 L442.0 306.8 L442.3 309.8 L442.6 312.8 L442.9 315.8 L443.1 318.8 L443.4 321.8 L443.7 324.8 L443.9 327.7 L444.2 330.7 L444.5 333.7 L444.7 336.7 L445.0 339.7 L445.3 342.7 L445.6 345.7 L445.8 348.7 L446.1 351.7 L446.4 354.7 L446.6 357.7 L446.9 360.6 L447.2 363.6 L447.4 366.6 L447.7 369.6 L448.0 372.6 L448.2 375.6 L448.5 378.6 L448.8 381.6 L449.1 384.6 L449.3 387.6 L449.6 390.6 L449.9 393.6 L450.1 396.6 L450.4 399.6 L450.7 402.6 L450.9 405.6 L451.2 408.6 L451.5 411.6 L451.7 414.6 L452.0 417.6 L452.3 420.6 L452.6 423.6 L452.8 426.6 L453.1 429.6 L453.4 432.6 L453.6 435.6 L453.9 438.6 L454.2 441.6 L454.5 444.6 L454.7 447.6 L455.0 450.7 L455.3 453.7 L455.6 456.7 L455.8 459.7 L456.1 462.7 L456.4 465.7 L456.7 468.7 L456.9 471.7 L457.2 474.8 L457.5 477.8 L457.8 480.8 L458.1 483.8 L458.4 486.8 L458.7 489.8 L459.0 492.8 L459.3 495.9 L459.6 498.9 L459.9 501.9 L460.3 504.9 L460.6 507.9 L461.0 510.9 L461.3 513.9 L461.7 516.9 L462.1 519.9 L462.5 522.9 L462.9 525.9 L463.3 528.9 L463.7 531.9 L464.2 534.9 L464.7 537.8 L465.1 540.8 L465.6 543.8 L466.2 546.8 L466.7 549.7 L467.2 552.7 L467.8 555.6 L468.4 558.6 L469.0 561.5 L469.6 564.5 L470.3 567.4 L470.9 570.3 L471.6 573.3 L472.3 576.2 L473.1 579.1 L473.8 582.0 L474.6 584.9 L475.4 587.8 L476.3 590.7 L477.2 593.5 L478.0 596.4 L479.0 599.3 L479.9 602.1 L480.9 605.0 L481.9 607.8 L482.9 610.7 L484.0 613.5 L485.1 616.3 L486.2 619.1 L487.4 621.9 L488.6 624.7 L489.8 627.5 L491.1 630.2 L492.4 633.0 L493.7 635.7 L495.1 638.4 L496.6 641.1 L498.1 643.6 L499.7 646.1 L501.3 648.5 L503.0 650.9 L504.9 653.1 L506.7 655.2 L508.7 657.1 L510.8 658.9 L513.0 660.5 L515.3 662.0 L517.7 663.3 L520.3 664.4 L523.0 665.3 L525.7 666.0 L528.6 666.5 L531.6 666.9 L534.7 667.2 L537.8 667.4 L540.9 667.5 L544.1 667.6 L547.3 667.7 L550.5 667.8 L553.6 668.0 L556.7 668.3 L559.7 668.7 L562.7 669.2 L565.6 669.9 L568.4 670.7 L571.1 671.7 L573.7 672.8 L576.2 674.1 L578.7 675.5 L581.1 677.1 L583.3 678.8 L585.6 680.6 L587.7 682.5 L589.8 684.5 L591.8 686.7 L593.8 688.9 L595.7 691.2 L597.5 693.6 L599.3 696.1 L601.1 698.6 L602.8 701.2 L604.4 703.8 L606.0 706.6 L607.6 709.3 L609.1 712.1 L610.6 714.9 L612.0 717.8 L613.5 720.6 L614.9 723.5 L616.3 726.4 L617.6 729.2 L618.9 732.1 L620.3 735.0 L621.6 737.9 L622.9 740.7 L624.2 743.6 L625.5 746.4 L626.8 749.2 L628.2 752.0 L629.5 754.8 L630.9 757.6 L632.3 760.3 L633.7 763.0 L635.2 765.7 L636.7 768.3 L638.2 771.0 L639.8 773.6 L641.5 776.1 L643.2 778.6 L644.9 781.1 L646.8 783.5 L648.7 785.9 L650.6 788.3 L652.7 790.6 L654.8 792.7 L656.9 794.7 L659.1 796.5 L661.3 798.0 L663.5 799.2 L665.7 800.0 L667.9 800.4 L670.1 800.4 L672.2 799.9 L674.3 798.9 L676.3 797.6 L678.3 795.9 L680.3 793.9 L682.1 791.6 L683.9 789.2 L685.7 786.7 L687.3 784.1 L688.9 781.5 L690.4 778.8 L691.8 776.1 L693.2 773.4 L694.5 770.7 L695.7 767.9 L696.9 765.1 L698.0 762.3 L699.0 759.5 L700.0 756.6 L700.9 753.8 L701.8 750.9 L702.6 748.0 L703.4 745.1 L704.1 742.1 L704.8 739.2 L705.5 736.2 L706.1 733.3 L706.7 730.3 L707.3 727.3 L707.9 724.3 L708.4 721.3 L708.9 718.3 L709.4 715.3 L709.8 712.3 L710.3 709.3 L710.7 706.3 L711.2 703.2 L711.6 700.2 L712.0 697.2 L712.5 694.2 L712.9 691.2 L713.3 688.1 L713.7 685.1 L714.1 682.1 L714.6 679.1 L715.0 676.1 L715.4 673.1 L715.8 670.1 L716.2 667.0 L716.6 664.0 L717.0 661.0 L717.4 658.0 L717.8 655.0 L718.2 652.0 L718.6 649.0 L719.0 646.0 L719.4 643.0 L719.7 640.0 L720.1 637.0 L720.5 633.9 L720.9 630.9 L721.3 627.9 L721.6 624.9 L722.0 621.9 L722.4 618.9 L722.7 615.9 L723.1 612.9 L723.5 609.9 L723.8 606.9 L724.2 603.9 L724.5 600.9 L724.9 597.9 L725.2 594.9 L725.6 591.9 L725.9 588.9 L726.3 585.9 L726.6 582.9 L727.0 579.9 L727.3 576.9 L727.6 573.9 L728.0 570.9 L728.3 567.9 L728.6 564.9 L729.0 562.0 L729.3 559.0 L729.6 556.0 L729.9 553.0 L730.3 550.0 L730.6 547.0 L730.9 544.0 L731.2 541.0 L731.5 538.0 L731.8 535.0 L732.1 532.0 L732.4 529.0 L732.8 526.0 L733.1 523.0 L733.4 520.1 L733.7 517.1 L734.0 514.1 L734.3 511.1 L734.5 508.1 L734.8 505.1 L735.1 502.1 L735.4 499.1 L735.7 496.1 L736.0 493.1 L736.3 490.2 L736.6 487.2 L736.8 484.2 L737.1 481.2 L737.4 478.2 L737.7 475.2 L737.9 472.2 L738.2 469.2 L738.5 466.2 L738.7 463.3 L739.0 460.3 L739.3 457.3 L739.5 454.3 L739.8 451.3 L740.1 448.3 L740.3 445.3 L740.6 442.3 L740.8 439.4 L741.1 436.4 L741.3 433.4 L741.6 430.4 L741.8 427.4 L742.1 424.4 L742.3 421.4 L742.6 418.4 L742.8 415.5 L743.1 412.5 L743.3 409.5 L743.5 406.5 L743.8 403.5 L744.0 400.5 L744.3 397.5 L744.5 394.5 L744.7 391.5 L745.0 388.5 L745.2 385.6 L745.4 382.6 L745.6 379.6 L745.9 376.6 L746.1 373.6 L746.3 370.6 L746.5 367.6 L746.7 364.6 L747.0 361.6 L747.2 358.6 L747.4 355.7 L747.6 352.7 L747.8 349.7 L748.0 346.7 L748.3 343.7 L748.5 340.7 L748.7 337.7 L748.9 334.7 L749.1 331.7 L749.3 328.7 L749.5 325.7 L749.7 322.7 L749.9 319.7 L750.1 316.7 L750.3 313.7 L750.5 310.7 L750.7 307.7 L750.9 304.7 L751.1 301.7 L751.3 298.7 L751.5 295.8 L751.7 292.8 L751.9 289.8 L752.1 286.8 L752.2 283.8 L752.4 280.8 L752.6 277.7 L752.8 274.7 L753.0 271.7 L753.2 268.7 L753.4 265.7 L753.5 262.7 L753.7 259.7 L753.9 256.7 L754.1 253.7 L754.3 250.7 L754.5 247.7 L754.6 244.7 L754.8 241.7 L755.0 238.7 L755.2 235.7 L755.3 232.7 L755.5 229.7 L755.7 226.6 L755.9 223.6 L756.0 220.6 L756.2 217.6 L756.4 214.6 L756.5 211.6 L756.7 208.6 L756.9 205.6 L757.0 202.5 L757.2 199.5 L757.4 196.5 L757.5 193.5 L757.7 190.5 L757.9 187.4 L758.0 184.4 L758.2 181.4 L758.4 178.4 L758.5 175.4 L758.7 172.3 L758.8 169.3 L759.0 166.3 L759.2 163.3 L759.3 160.2 L759.5 157.2 L759.6 154.2 L759.8 151.1 L759.9 148.1 L760.1 145.1 L760.3 142.1 L760.4 139.0 L760.6 136.0 L760.7 133.0 L760.9 129.9 L761.0 126.9 L761.2 123.8" stroke="#ff0000"/>
<path d="M442.5 123.9 L442.9 126.9 L443.2 129.9 L443.6 132.9 L443.9 135.9 L444.3 138.9 L444.6 142.0 L444.9 145.0 L445.2 148.0 L445.5 151.0 L445.8 154.0 L446.1 157.0 L446.4 160.0 L446.7 163.0 L447.0 166.0 L447.3 169.1 L447.6 172.1 L447.9 175.1 L448.1 178.1 L448.4 181.1 L448.7 184.1 L448.9 187.1 L449.2 190.1 L449.4 193.1 L449.7 196.1 L449.9 199.1 L450.1 202.1 L450.4 205.1 L450.6 208.2 L450.8 211.2 L451.1 214.2 L451.3 217.2 L451.5 220.2 L451.7 223.2 L451.9 226.2 L452.1 229.2 L452.3 232.2 L452.5 235.2 L452.7 238.2 L452.9 241.2 L453.1 244.2 L453.3 247.2 L453.5 250.2 L453.7 253.2 L453.9 256.2 L454.1 259.2 L454.2 262.2 L454.4 265.2 L454.6 268.2 L454.8 271.2 L454.9 274.2 L455.1 277.2 L455.3 280.2 L455.4 283.2 L455.6 286.2 L455.7 289.2 L455.9 292.2 L456.1 295.2 L456.2 298.2 L456.4 301.2 L456.5 304.2 L456.7 307.2 L456.8 310.2 L457.0 313.2 L457.1 316.2 L457.3 319.2 L457.4 322.2 L457.5 325.2 L457.7 328.2 L457.8 331.2 L458.0 334.2 L458.1 337.2 L458.2 340.2 L458.4 343.2 L458.5 346.1 L458.7 349.1 L458.8 352.1 L458.9 355.1 L459.1 358.1 L459.2 361.1 L459.3 364.1 L459.5 367.1 L459.6 370.1 L459.8 373.1 L459.9 376.1 L460.0 379.1 L460.2 382.1 L460.3 385.1 L460.4 388.1 L460.6 391.1 L460.7 394.1 L460.9 397.1 L461.0 400.0 L461.2 403.0 L461.3 406.0 L461.4 409.0 L461.6 412.0 L461.7 415.0 L461.9 418.0 L462.0 421.0 L462.2 424.0 L462.3 427.0 L462.5 430.0 L462.6 433.0 L462.8 436.0 L462.9 439.0 L463.1 441.9 L463.3 444.9 L463.4 447.9 L463.6 450.9 L463.7 453.9 L463.9 456.9 L464.1 459.9 L464.3 462.9 L464.4 465.9 L464.6 468.9 L464.8 471.9 L465.0 474.9 L465.1 477.9 L465.3 480.8 L465.5 483.8 L465.7 486.8 L465.9 489.8 L466.1 492.8 L466.3 495.8 L466.5 498.8 L466.7 501.8 L466.9 504.8 L467.1 507.8 L467.3 510.8 L467.6 513.8 L467.8 516.8 L468.0 519.7 L468.2 522.7 L468.5 525.7 L468.7 528.7 L468.9 531.7 L469.2 534.7 L469.4 537.7 L469.7 540.7 L469.9 543.7 L470.2 546.7 L470.5 549.7 L470.7 552.7 L471.0 555.7 L471.3 558.7 L471.6 561.6 L471.8 564.6 L472.1 567.6 L472.4 570.6 L472.7 573.6 L473.0 576.6 L473.3 579.6 L473.6 582.6 L474.0 585.6 L474.3 588.6 L474.6 591.6 L474.9 594.6 L475.3 597.6 L475.6 600.6 L476.0 603.6 L476.3 606.6 L476.7 609.6 L477.1 612.6 L477.4 615.5 L477.8 618.5 L478.2 621.5 L478.6 624.5 L479.0 627.5 L479.4 630.5 L479.8 633.5 L480.2 636.5 L480.6 639.5 L481.0 642.5 L481.4 645.5 L481.9 648.5 L482.3 651.5 L482.8 654.5 L483.2 657.5 L483.7 660.5 L484.2 663.5 L484.6 666.5 L485.1 669.5 L485.6 672.5 L486.1 675.5 L486.6 678.5 L487.1 681.5 L487.6 684.5 L488.2 687.5 L488.7 690.5 L489.2 693.5 L489.8 696.5 L490.3 699.5 L490.9 702.5 L491.5 705.5 L492.0 708.5 L492.6 711.5 L493.2 714.5 L493.8 717.5 L494.4 720.5 L495.0 723.5 L495.7 726.5 L496.3 729.5 L496.9 732.5 L497.6 735.5 L498.2 738.5 L498.9 741.5 L499.6 744.5 L500.3 747.6 L501.0 750.6 L501.7 753.5 L502.4 756.5 L503.3 759.3 L504.2 762.1 L505.1 764.8 L506.2 767.4 L507.5 769.8 L508.8 772.0 L510.3 774.1 L512.0 775.9 L513.9 777.5 L516.0 778.9 L518.3 780.0 L520.9 780.8 L523.7 781.2 L526.6 781.3 L529.5 780.9 L532.2 780.0 L534.7 778.6 L537.1 776.8 L539.4 774.7 L541.5 772.3 L543.7 769.7 L545.8 767.1 L547.9 764.4 L550.1 761.8 L552.4 759.4 L554.8 757.2 L557.4 755.4 L560.0 753.8 L562.8 752.7 L565.5 752.0 L568.2 751.7 L570.9 751.9 L573.4 752.6 L575.9 753.8 L578.4 755.3 L580.7 757.2 L582.9 759.3 L585.1 761.6 L587.1 764.1 L589.1 766.7 L590.9 769.3 L592.7 771.9 L594.3 774.6 L595.9 777.4 L597.4 780.2 L598.8 783.0 L600.2 785.8 L601.4 788.7 L602.7 791.6 L603.8 794.4 L604.9 797.3 L606.0 800.2 L607.0 803.1 L607.9 806.0 L608.8 808.8 L609.7 811.7 L610.6 814.5 L611.4 817.3 L612.3 820.0 L613.1 822.7 L613.9 825.4 L614.7 828.1 L615.4 830.8 L616.2 833.4 L617.1 836.1 L617.9 838.8 L618.8 841.4 L619.6 844.1 L620.6 846.9 L621.5 849.6 L622.5 852.4 L623.6 855.2 L624.7 858.1 L625.9 861.0 L627.2 864.0 L628.5 867.1 L629.9 870.3 L631.4 873.5 L633.0 876.8 L634.7 880.2 L636.4 883.6 L638.3 886.9 L640.2 889.9 L642.2 892.5 L644.3 894.7 L646.4 896.2 L648.6 896.9 L650.6 896.9 L652.4 896.0 L654.0 894.2 L655.3 891.9 L656.5 889.3 L657.7 886.6 L658.9 883.9 L660.0 881.2 L661.1 878.5 L662.2 875.8 L663.2 873.1 L664.2 870.3 L665.2 867.6 L666.2 864.8 L667.2 862.1 L668.1 859.3 L669.0 856.5 L669.9 853.7 L670.7 850.9 L671.6 848.1 L672.4 845.3 L673.2 842.4 L673.9 839.6 L674.7 836.7 L675.4 833.9 L676.1 831.0 L676.8 828.1 L677.5 825.3 L678.2 822.4 L678.8 819.5 L679.4 816.6 L680.0 813.7 L680.6 810.8 L681.2 807.9 L681.8 804.9 L682.3 802.0 L682.8 799.1 L683.3 796.1 L683.8 793.2 L684.3 790.2 L684.8 787.3 L685.2 784.3 L685.7 781.3 L686.1 778.4 L686.6 775.4 L687.0 772.4 L687.4 769.4 L687.8 766.4 L688.1 763.5 L688.5 760.5 L688.9 757.5 L689.2 754.5 L689.6 751.5 L689.9 748.5 L690.2 745.5 L690.6 742.4 L690.9 739.4 L691.2 736.4 L691.5 733.4 L691.8 730.4 L692.1 727.4 L692.4 724.4 L692.7 721.3 L693.0 718.3 L693.2 715.3 L693.5 712.3 L693.8 709.3 L694.1 706.2 L694.3 703.2 L694.6 700.2 L694.9 697.2 L695.1 694.2 L695.4 691.2 L695.7 688.1 L695.9 685.1 L696.2 682.1 L696.5 679.1 L696.7 676.1 L697.0 673.1 L697.3 670.0 L697.5 667.0 L697.8 664.0 L698.1 661.0 L698.3 658.0 L698.6 655.0 L698.8 652.0 L699.1 649.0 L699.3 646.0 L699.6 643.0 L699.9 640.0 L700.1 636.9 L700.4 633.9 L700.6 630.9 L700.9 627.9 L701.1 624.9 L701.4 621.9 L701.6 618.9 L701.9 615.9 L702.1 612.9 L702.4 609.9 L702.6 606.9 L702.9 603.9 L703.1 600.9 L703.4 597.9 L703.6 594.9 L703.8 591.9 L704.1 588.9 L704.3 585.9 L704.6 582.9 L704.8 579.9 L705.0 576.9 L705.3 573.9 L705.5 570.9 L705.8 567.9 L706.0 564.9 L706.2 561.9 L706.5 558.9 L706.7 555.9 L706.9 552.9 L707.2 549.9 L707.4 546.9 L707.6 543.9 L707.9 540.9 L708.1 538.0 L708.3 535.0 L708.5 532.0 L708.8 529.0 L709.0 526.0 L709.2 523.0 L709.4 520.0 L709.7 517.0 L709.9 514.0 L710.1 511.0 L710.3 508.0 L710.6 505.0 L710.8 502.0 L711.0 499.0 L711.2 496.1 L711.4 493.1 L711.6 490.1 L711.9 487.1 L712.1 484.1 L712.3 481.1 L712.5 478.1 L712.7 475.1 L712.9 472.1 L713.1 469.1 L713.3 466.1 L713.5 463.2 L713.7 460.2 L714.0 457.2 L714.2 454.2 L714.4 451.2 L714.6 448.2 L714.8 445.2 L715.0 442.2 L715.2 439.2 L715.4 436.2 L715.6 433.3 L715.8 430.3 L716.0 427.3 L716.2 424.3 L716.4 421.3 L716.6 418.3 L716.8 415.3 L716.9 412.3 L717.1 409.3 L717.3 406.3 L717.5 403.4 L717.7 400.4 L717.9 397.4 L718.1 394.4 L718.3 391.4 L718.5 388.4 L718.6 385.4 L718.8 382.4 L719.0 379.4 L719.2 376.4 L719.4 373.4 L719.6 370.4 L719.7 367.5 L719.9 364.5 L720.1 361.5 L720.3 358.5 L720.4 355.5 L720.6 352.5 L720.8 349.5 L721.0 346.5 L721.1 343.5 L721.3 340.5 L721.5 337.5 L721.7 334.5 L721.8 331.5 L722.0 328.5 L722.2 325.5 L722.3 322.6 L722.5 319.6 L722.7 316.6 L722.8 313.6 L723.0 310.6 L723.1 307.6 L723.3 304.6 L723.5 301.6 L723.6 298.6 L723.8 295.6 L723.9 292.6 L724.1 289.6 L724.2 286.6 L724.4 283.6 L724.5 280.6 L724.7 277.6 L724.8 274.6 L725.0 271.6 L725.1 268.6 L725.3 265.6 L725.4 262.6 L725.6 259.6 L725.7 256.6 L725.9 253.6 L726.0 250.6 L726.2 247.5 L726.3 244.5 L726.4 241.5 L726.6 238.5 L726.7 235.5 L726.9 232.5 L727.0 229.5 L727.1 226.5 L727.3 223.5 L727.4 220.5 L727.5 217.5 L727.7 214.5 L727.8 211.4 L727.9 208.4 L728.0 205.4 L728.2 202.4 L728.3 199.4 L728.4 196.4 L728.6 193.4 L728.7 190.3 L728.8 187.3 L728.9 184.3 L729.0 181.3 L729.2 178.3 L729.3 175.3 L729.4 172.2 L729.5 169.2 L729.6 166.2 L729.7 163.2 L729.9 160.2 L730.0 157.1 L730.1 154.1 L730.2 151.1 L730.3 148.1 L730.4 145.0 L730.5 142.0 L730.6 139.0 L730.7 136.0 L730.8 132.9 L730.9 129.9 L731.0 126.9 L731.1 123.8" stroke="#0a84ff"/>
</g>
<g clip-path="url(#cBL)" fill="none" stroke-width="4.5" stroke-linejoin="round" stroke-linecap="round">
<path d="M165.3 881.8 L166.7 899.3 L168.0 916.4 L169.4 933.3 L170.8 949.8 L172.2 966.1 L173.6 982.1 L175.0 997.8 L176.4 1013.3 L177.7 1028.5 L179.1 1043.4 L180.5 1058.1 L181.9 1072.5 L183.3 1086.6 L184.7 1100.6 L186.0 1114.3 L187.4 1127.7 L188.8 1141.0 L190.2 1154.0 L191.6 1166.7 L193.0 1179.3 L194.4 1191.7 L195.7 1203.8 L197.1 1215.7 L198.5 1227.4 L199.9 1238.9 L201.3 1250.3 L202.7 1261.4 L204.1 1272.3 L205.4 1283.0 L206.8 1293.6 L208.2 1303.9 L209.6 1314.1 L211.0 1324.1 L212.4 1333.9 L213.8 1343.5 L215.1 1353.0 L216.5 1362.2 L217.9 1371.3 L219.3 1380.3 L220.7 1389.1 L222.1 1397.7 L223.4 1406.1 L224.8 1414.4 L226.2 1422.5 L227.6 1430.4 L229.0 1438.2 L230.4 1445.9 L231.8 1453.3 L233.1 1460.7 L234.5 1467.8 L235.9 1474.9 L237.3 1481.8 L238.7 1488.5 L240.1 1495.1 L241.5 1501.5 L242.8 1507.8 L244.2 1514.0 L245.6 1520.0 L247.0 1525.8 L248.4 1531.6 L249.8 1537.2 L251.2 1542.6 L252.5 1547.9 L253.9 1553.1 L255.3 1558.2 L256.7 1563.1 L258.1 1567.9 L259.5 1572.5 L260.8 1577.0 L262.2 1581.4 L263.6 1585.7 L265.0 1589.9 L266.4 1593.9 L267.8 1597.8 L269.2 1601.5 L270.5 1605.2 L271.9 1608.7 L273.3 1612.1 L274.7 1615.4 L276.1 1618.6 L277.5 1621.6 L278.9 1624.5 L280.2 1627.4 L281.6 1630.1 L283.0 1632.6 L284.4 1635.1 L285.8 1637.5 L287.2 1639.7 L288.6 1641.9 L289.9 1643.9 L291.3 1645.8 L292.7 1647.6 L294.1 1649.3 L295.5 1650.9 L296.9 1652.4 L298.2 1653.8 L299.6 1655.1 L301.0 1656.3 L302.4 1657.4 L303.8 1658.4 L305.2 1659.3 L306.6 1660.1 L307.9 1660.8 L309.3 1661.4 L310.7 1661.9 L312.1 1662.3 L313.5 1662.6 L314.9 1662.8 L316.3 1663.0 L317.6 1663.0 L319.0 1663.0 L320.4 1662.8 L321.8 1662.6 L323.2 1662.3 L324.6 1661.9 L326.0 1661.4 L327.3 1660.9 L328.7 1660.2 L330.1 1659.5 L331.5 1658.7 L332.9 1657.8 L334.3 1656.9 L335.6 1655.9 L337.0 1654.8 L338.4 1653.6 L339.8 1652.3 L341.2 1651.0 L342.6 1649.6 L344.0 1648.1 L345.3 1646.6 L346.7 1645.0 L348.1 1643.3 L349.5 1641.6 L350.9 1639.8 L352.3 1637.9 L353.7 1636.0 L355.0 1634.0 L356.4 1631.9 L357.8 1629.8 L359.2 1627.7 L360.6 1625.5 L362.0 1623.2 L363.4 1620.8 L364.7 1618.5 L366.1 1616.0 L367.5 1613.5 L368.9 1611.0 L370.3 1608.4 L371.7 1605.8 L373.1 1603.1 L374.4 1600.3 L375.8 1597.6 L377.2 1594.7 L378.6 1591.9 L380.0 1589.0 L381.4 1586.0 L382.7 1583.1 L384.1 1580.0 L385.5 1577.0 L386.9 1573.9 L388.3 1570.8 L389.7 1567.6 L391.1 1564.4 L392.4 1561.2 L393.8 1557.9 L395.2 1554.6 L396.6 1551.3 L398.0 1548.0 L399.4 1544.6 L400.8 1541.2 L402.1 1537.8 L403.5 1534.4 L404.9 1530.9 L406.3 1527.4 L407.7 1523.9 L409.1 1520.4 L410.5 1516.9 L411.8 1513.3 L413.2 1509.8 L414.6 1506.2 L416.0 1502.6 L417.4 1499.0 L418.8 1495.4 L420.1 1491.7 L421.5 1488.1 L422.9 1484.5 L424.3 1480.8 L425.7 1477.1 L427.1 1473.5 L428.5 1469.8 L429.8 1466.1 L431.2 1462.5 L432.6 1458.8 L434.0 1455.1 L435.4 1451.4 L436.8 1447.8 L438.2 1444.1 L439.5 1440.4 L440.9 1436.7 L442.3 1433.1 L443.7 1429.4 L445.1 1425.8 L446.5 1422.1 L447.9 1418.5 L449.2 1414.9 L450.6 1411.3 L452.0 1407.7 L453.4 1404.1 L454.8 1400.5 L456.2 1396.9 L457.5 1393.4 L458.9 1389.9 L460.3 1386.4 L461.7 1382.9 L463.1 1379.4 L464.5 1375.9 L465.9 1372.5 L467.2 1369.0 L468.6 1365.6 L470.0 1362.3 L471.4 1358.9 L472.8 1355.6 L474.2 1352.3 L475.6 1349.0 L476.9 1345.7 L478.3 1342.5 L479.7 1339.3 L481.1 1336.1 L482.5 1332.9 L483.9 1329.8 L485.3 1326.7 L486.6 1323.6 L488.0 1320.6 L489.4 1317.6 L490.8 1314.6 L492.2 1311.7 L493.6 1308.8 L494.9 1305.9 L496.3 1303.1 L497.7 1300.3 L499.1 1297.5 L500.5 1294.8 L501.9 1292.1 L503.3 1289.4 L504.6 1286.8 L506.0 1284.2 L507.4 1281.7 L508.8 1279.2 L510.2 1276.7 L511.6 1274.3 L513.0 1271.9 L514.3 1269.5 L515.7 1267.2 L517.1 1265.0 L518.5 1262.8 L519.9 1260.6 L521.3 1258.4 L522.7 1256.3 L524.0 1254.3 L525.4 1252.3 L526.8 1250.3 L528.2 1248.4 L529.6 1246.6 L531.0 1244.7 L532.3 1243.0 L533.7 1241.2 L535.1 1239.5 L536.5 1237.9 L537.9 1236.3 L539.3 1234.8 L540.7 1233.3 L542.0 1231.8 L543.4 1230.4 L544.8 1229.1 L546.2 1227.8 L547.6 1226.5 L549.0 1225.3 L550.4 1224.2 L551.7 1223.1 L553.1 1222.0 L554.5 1221.0 L555.9 1220.1 L557.3 1219.2 L558.7 1218.3 L560.1 1217.5 L561.4 1216.8 L562.8 1216.1 L564.2 1215.4 L565.6 1214.8 L567.0 1214.3 L568.4 1213.8 L569.7 1213.3 L571.1 1212.9 L572.5 1212.6 L573.9 1212.3 L575.3 1212.1 L576.7 1211.9 L578.1 1211.8 L579.4 1211.7 L580.8 1211.6 L582.2 1211.7 L583.6 1211.7 L585.0 1211.9 L586.4 1212.0 L587.8 1212.3 L589.1 1212.5 L590.5 1212.9 L591.9 1213.3 L593.3 1213.7 L594.7 1214.2 L596.1 1214.7 L597.5 1215.3 L598.8 1215.9 L600.2 1216.6 L601.6 1217.4 L603.0 1218.2 L604.4 1219.0 L605.8 1219.9 L607.1 1220.8 L608.5 1221.8 L609.9 1222.9 L611.3 1224.0 L612.7 1225.1 L614.1 1226.3 L615.5 1227.5 L616.8 1228.8 L618.2 1230.2 L619.6 1231.5 L621.0 1233.0 L622.4 1234.5 L623.8 1236.0 L625.2 1237.6 L626.5 1239.2 L627.9 1240.8 L629.3 1242.6 L630.7 1244.3 L632.1 1246.1 L633.5 1248.0 L634.9 1249.9 L636.2 1251.8 L637.6 1253.8 L639.0 1255.8 L640.4 1257.9 L641.8 1260.0 L643.2 1262.1 L644.5 1264.3 L645.9 1266.6 L647.3 1268.9 L648.7 1271.2 L650.1 1273.5 L651.5 1275.9 L652.9 1278.4 L654.2 1280.9 L655.6 1283.4 L657.0 1285.9 L658.4 1288.5 L659.8 1291.1 L661.2 1293.8 L662.6 1296.5 L663.9 1299.2 L665.3 1302.0 L666.7 1304.8 L668.1 1307.6 L669.5 1310.5 L670.9 1313.4 L672.3 1316.4 L673.6 1319.3 L675.0 1322.3 L676.4 1325.3 L677.8 1328.4 L679.2 1331.5 L680.6 1334.6 L681.9 1337.7 L683.3 1340.9 L684.7 1344.1 L686.1 1347.3 L687.5 1350.5 L688.9 1353.8 L690.3 1357.1 L691.6 1360.4 L693.0 1363.7 L694.4 1367.1 L695.8 1370.4 L697.2 1373.8 L698.6 1377.2 L700.0 1380.6 L701.3 1384.1 L702.7 1387.5 L704.1 1391.0 L705.5 1394.5 L706.9 1398.0 L708.3 1401.5 L709.7 1405.0 L711.0 1408.6 L712.4 1412.1 L713.8 1415.7 L715.2 1419.3 L716.6 1422.8 L718.0 1426.4 L719.3 1430.0 L720.7 1433.6 L722.1 1437.2 L723.5 1440.8 L724.9 1444.4 L726.3 1448.0 L727.7 1451.6 L729.0 1455.2 L730.4 1458.8 L731.8 1462.4 L733.2 1466.0 L734.6 1469.6 L736.0 1473.1 L737.4 1476.7 L738.7 1480.3 L740.1 1483.9 L741.5 1487.4 L742.9 1491.0 L744.3 1494.5 L745.7 1498.0 L747.1 1501.5 L748.4 1505.0 L749.8 1508.5 L751.2 1511.9 L752.6 1515.4 L754.0 1518.8 L755.4 1522.2 L756.7 1525.6 L758.1 1529.0 L759.5 1532.3 L760.9 1535.6 L762.3 1538.9 L763.7 1542.2 L765.1 1545.4 L766.4 1548.6 L767.8 1551.8 L769.2 1555.0 L770.6 1558.1 L772.0 1561.2 L773.4 1564.2 L774.8 1567.2 L776.1 1570.2 L777.5 1573.2 L778.9 1576.1 L780.3 1578.9 L781.7 1581.8 L783.1 1584.6 L784.5 1587.3 L785.8 1590.0 L787.2 1592.7 L788.6 1595.3 L790.0 1597.8 L791.4 1600.3 L792.8 1602.8 L794.2 1605.2 L795.5 1607.6 L796.9 1609.9 L798.3 1612.2 L799.7 1614.4 L801.1 1616.5 L802.5 1618.6 L803.8 1620.6 L805.2 1622.6 L806.6 1624.5 L808.0 1626.3 L809.4 1628.1 L810.8 1629.9 L812.2 1631.5 L813.5 1633.1 L814.9 1634.6 L816.3 1636.1 L817.7 1637.5 L819.1 1638.8 L820.5 1640.0 L821.9 1641.2 L823.2 1642.3 L824.6 1643.3 L826.0 1644.2 L827.4 1645.1 L828.8 1645.9 L830.2 1646.6 L831.6 1647.2 L832.9 1647.7 L834.3 1648.2 L835.7 1648.6 L837.1 1648.9 L838.5 1649.1 L839.9 1649.2 L841.2 1649.2 L842.6 1649.1 L844.0 1649.0 L845.4 1648.7 L846.8 1648.4 L848.2 1648.0 L849.6 1647.4 L850.9 1646.8 L852.3 1646.1 L853.7 1645.2 L855.1 1644.3 L856.5 1643.3 L857.9 1642.2 L859.3 1640.9 L860.6 1639.6 L862.0 1638.1 L863.4 1636.6 L864.8 1634.9 L866.2 1633.2 L867.6 1631.3 L869.0 1629.3 L870.3 1627.2 L871.7 1625.0 L873.1 1622.7 L874.5 1620.2 L875.9 1617.6 L877.3 1615.0 L878.6 1612.2 L880.0 1609.2 L881.4 1606.2 L882.8 1603.0 L884.2 1599.8 L885.6 1596.3 L887.0 1592.8 L888.3 1589.1 L889.7 1585.4 L891.1 1581.4 L892.5 1577.4 L893.9 1573.2 L895.3 1568.9 L896.7 1564.4 L898.0 1559.8 L899.4 1555.1 L900.8 1550.2 L902.2 1545.2 L903.6 1540.1 L905.0 1534.8 L906.4 1529.3 L907.7 1523.8 L909.1 1518.0 L910.5 1512.2 L911.9 1506.1 L913.3 1500.0 L914.7 1493.6 L916.0 1487.2 L917.4 1480.5 L918.8 1473.7 L920.2 1466.8 L921.6 1459.6 L923.0 1452.4 L924.4 1444.9 L925.7 1437.3 L927.1 1429.5 L928.5 1421.6 L929.9 1413.5 L931.3 1405.2 L932.7 1396.7 L934.1 1388.1 L935.4 1379.3 L936.8 1370.2 L938.2 1361.1 L939.6 1351.7 L941.0 1342.1 L942.4 1332.4 L943.8 1322.4 L945.1 1312.3 L946.5 1301.9 L947.9 1291.4 L949.3 1280.6 L950.7 1269.7 L952.1 1258.5 L953.4 1247.1 L954.8 1235.5 L956.2 1223.7 L957.6 1211.7 L959.0 1199.4 L960.4 1186.9 L961.8 1174.2 L963.1 1161.3 L964.5 1148.1 L965.9 1134.6 L967.3 1120.9 L968.7 1107.0 L970.1 1092.8 L971.5 1078.4 L972.8 1063.6 L974.2 1048.7 L975.6 1033.4 L977.0 1017.8 L978.4 1002.0 L979.8 985.9" stroke="#008000"/>
<path d="M334.3 936.7 L334.7 939.8 L335.2 942.8 L335.6 945.9 L336.0 948.9 L336.4 952.0 L336.9 955.0 L337.3 958.0 L337.7 961.1 L338.2 964.1 L338.6 967.1 L339.1 970.2 L339.5 973.2 L339.9 976.2 L340.4 979.2 L340.8 982.3 L341.2 985.3 L341.7 988.3 L342.1 991.3 L342.6 994.3 L343.0 997.3 L343.5 1000.3 L343.9 1003.3 L344.4 1006.3 L344.8 1009.4 L345.3 1012.3 L345.7 1015.3 L346.2 1018.3 L346.6 1021.3 L347.1 1024.3 L347.5 1027.3 L348.0 1030.3 L348.5 1033.3 L348.9 1036.3 L349.4 1039.2 L349.9 1042.2 L350.3 1045.2 L350.8 1048.2 L351.3 1051.2 L351.7 1054.1 L352.2 1057.1 L352.7 1060.1 L353.2 1063.0 L353.6 1066.0 L354.1 1069.0 L354.6 1071.9 L355.1 1074.9 L355.6 1077.8 L356.0 1080.8 L356.5 1083.8 L357.0 1086.7 L357.5 1089.7 L358.0 1092.6 L358.5 1095.6 L359.0 1098.5 L359.5 1101.5 L360.0 1104.4 L360.5 1107.4 L361.0 1110.3 L361.5 1113.3 L362.0 1116.2 L362.5 1119.2 L363.0 1122.1 L363.5 1125.1 L364.0 1128.0 L364.5 1130.9 L365.1 1133.9 L365.6 1136.8 L366.1 1139.7 L366.6 1142.7 L367.1 1145.6 L367.7 1148.6 L368.2 1151.5 L368.7 1154.4 L369.3 1157.4 L369.8 1160.3 L370.3 1163.2 L370.9 1166.2 L371.4 1169.1 L372.0 1172.0 L372.5 1175.0 L373.1 1177.9 L373.6 1180.8 L374.2 1183.8 L374.7 1186.7 L375.3 1189.6 L375.8 1192.5 L376.4 1195.5 L377.0 1198.4 L377.5 1201.3 L378.1 1204.3 L378.7 1207.2 L379.2 1210.1 L379.8 1213.0 L380.4 1216.0 L381.0 1218.9 L381.6 1221.8 L382.2 1224.8 L382.7 1227.7 L383.3 1230.6 L383.9 1233.6 L384.5 1236.5 L385.1 1239.4 L385.7 1242.3 L386.3 1245.3 L386.9 1248.2 L387.6 1251.1 L388.2 1254.1 L388.8 1257.0 L389.4 1259.9 L390.0 1262.9 L390.7 1265.8 L391.3 1268.7 L391.9 1271.7 L392.5 1274.6 L393.2 1277.5 L393.8 1280.5 L394.5 1283.4 L395.1 1286.4 L395.7 1289.3 L396.4 1292.2 L397.1 1295.2 L397.7 1298.1 L398.4 1301.1 L399.0 1304.0 L399.7 1307.0 L400.4 1309.9 L401.0 1312.9 L401.7 1315.8 L402.4 1318.8 L403.1 1321.7 L403.8 1324.7 L404.4 1327.6 L405.1 1330.6 L405.8 1333.5 L406.5 1336.5 L407.2 1339.4 L407.9 1342.4 L408.6 1345.4 L409.3 1348.3 L410.1 1351.3 L410.8 1354.3 L411.5 1357.2 L412.2 1360.2 L412.9 1363.2 L413.7 1366.1 L414.4 1369.1 L415.1 1372.1 L415.9 1375.1 L416.6 1378.0 L417.4 1381.0 L418.1 1384.0 L418.9 1387.0 L419.6 1390.0 L420.4 1393.0 L421.2 1395.9 L421.9 1398.9 L422.7 1401.9 L423.5 1404.9 L424.3 1407.9 L425.1 1410.9 L425.9 1413.9 L426.7 1416.8 L427.6 1419.8 L428.4 1422.8 L429.3 1425.7 L430.1 1428.7 L431.0 1431.7 L431.9 1434.6 L432.8 1437.5 L433.7 1440.5 L434.7 1443.4 L435.6 1446.3 L436.6 1449.2 L437.6 1452.1 L438.6 1455.0 L439.6 1457.9 L440.6 1460.7 L441.7 1463.6 L442.8 1466.4 L443.9 1469.2 L445.0 1472.1 L446.2 1474.9 L447.4 1477.6 L448.6 1480.4 L449.8 1483.1 L451.1 1485.9 L452.3 1488.6 L453.7 1491.3 L455.0 1493.9 L456.4 1496.6 L457.8 1499.2 L459.2 1501.8 L460.7 1504.4 L462.1 1507.0 L463.7 1509.6 L465.2 1512.1 L466.8 1514.6 L468.4 1517.1 L470.1 1519.5 L471.8 1521.9 L473.5 1524.4 L475.3 1526.7 L477.1 1529.1 L479.0 1531.4 L480.9 1533.7 L482.8 1536.0 L484.8 1538.2 L486.8 1540.4 L488.8 1542.6 L490.9 1544.7 L493.1 1546.8 L495.2 1548.9 L497.5 1550.9 L499.7 1553.0 L502.1 1554.9 L504.4 1556.9 L506.8 1558.8 L509.3 1560.6 L511.7 1562.4 L514.3 1564.2 L516.8 1565.9 L519.4 1567.6 L522.0 1569.1 L524.6 1570.7 L527.3 1572.2 L530.0 1573.6 L532.7 1574.9 L535.4 1576.2 L538.1 1577.4 L540.9 1578.5 L543.6 1579.6 L546.4 1580.5 L549.2 1581.4 L552.0 1582.2 L554.8 1582.9 L557.6 1583.5 L560.4 1584.0 L563.2 1584.5 L566.0 1584.8 L568.8 1585.0 L571.6 1585.1 L574.4 1585.2 L577.1 1585.1 L579.9 1584.9 L582.6 1584.5 L585.4 1584.1 L588.1 1583.5 L590.8 1582.9 L593.5 1582.1 L596.1 1581.2 L598.8 1580.2 L601.4 1579.1 L604.0 1577.9 L606.6 1576.6 L609.1 1575.2 L611.7 1573.7 L614.2 1572.1 L616.6 1570.5 L619.1 1568.8 L621.5 1567.0 L624.0 1565.1 L626.3 1563.2 L628.7 1561.2 L631.0 1559.1 L633.3 1557.0 L635.6 1554.8 L637.9 1552.5 L640.1 1550.3 L642.3 1547.9 L644.4 1545.6 L646.5 1543.2 L648.6 1540.7 L650.7 1538.3 L652.7 1535.7 L654.7 1533.2 L656.7 1530.7 L658.6 1528.1 L660.5 1525.5 L662.4 1522.9 L664.2 1520.3 L666.0 1517.7 L667.7 1515.1 L669.4 1512.5 L671.1 1509.8 L672.7 1507.2 L674.3 1504.5 L675.9 1501.9 L677.5 1499.2 L679.0 1496.5 L680.5 1493.9 L681.9 1491.2 L683.4 1488.5 L684.8 1485.8 L686.1 1483.1 L687.5 1480.4 L688.8 1477.6 L690.1 1474.9 L691.3 1472.2 L692.6 1469.4 L693.8 1466.7 L695.0 1463.9 L696.1 1461.2 L697.3 1458.4 L698.4 1455.6 L699.5 1452.8 L700.6 1450.1 L701.6 1447.3 L702.7 1444.5 L703.7 1441.7 L704.7 1438.9 L705.7 1436.1 L706.6 1433.2 L707.6 1430.4 L708.5 1427.6 L709.4 1424.8 L710.3 1421.9 L711.2 1419.1 L712.1 1416.3 L712.9 1413.4 L713.8 1410.6 L714.6 1407.7 L715.4 1404.8 L716.2 1402.0 L717.0 1399.1 L717.8 1396.3 L718.6 1393.4 L719.4 1390.5 L720.1 1387.6 L720.9 1384.8 L721.6 1381.9 L722.4 1379.0 L723.1 1376.1 L723.8 1373.2 L724.6 1370.3 L725.3 1367.4 L726.0 1364.5 L726.7 1361.6 L727.4 1358.7 L728.1 1355.8 L728.8 1352.9 L729.5 1350.0 L730.1 1347.1 L730.8 1344.2 L731.5 1341.3 L732.1 1338.3 L732.8 1335.4 L733.5 1332.5 L734.1 1329.6 L734.8 1326.6 L735.4 1323.7 L736.0 1320.8 L736.7 1317.9 L737.3 1314.9 L737.9 1312.0 L738.5 1309.0 L739.2 1306.1 L739.8 1303.2 L740.4 1300.2 L741.0 1297.3 L741.6 1294.3 L742.2 1291.4 L742.8 1288.4 L743.3 1285.5 L743.9 1282.5 L744.5 1279.6 L745.1 1276.6 L745.6 1273.7 L746.2 1270.7 L746.8 1267.7 L747.3 1264.8 L747.9 1261.8 L748.4 1258.9 L749.0 1255.9 L749.5 1252.9 L750.1 1250.0 L750.6 1247.0 L751.1 1244.0 L751.7 1241.0 L752.2 1238.1 L752.7 1235.1 L753.3 1232.1 L753.8 1229.1 L754.3 1226.2 L754.8 1223.2 L755.3 1220.2 L755.8 1217.2 L756.3 1214.2 L756.8 1211.3 L757.3 1208.3 L757.8 1205.3 L758.3 1202.3 L758.8 1199.3 L759.3 1196.3 L759.8 1193.4 L760.3 1190.4 L760.8 1187.4 L761.3 1184.4 L761.7 1181.4 L762.2 1178.4 L762.7 1175.4 L763.2 1172.4 L763.6 1169.5 L764.1 1166.5 L764.6 1163.5 L765.0 1160.5 L765.5 1157.5 L766.0 1154.5 L766.4 1151.5 L766.9 1148.5 L767.3 1145.5 L767.8 1142.5 L768.3 1139.5 L768.7 1136.5 L769.2 1133.5 L769.6 1130.6 L770.1 1127.6 L770.5 1124.6 L771.0 1121.6 L771.4 1118.6 L771.9 1115.6 L772.3 1112.6 L772.7 1109.6 L773.2 1106.6 L773.6 1103.6 L774.1 1100.6 L774.5 1097.6 L775.0 1094.6 L775.4 1091.7 L775.8 1088.7 L776.3 1085.7 L776.7 1082.7 L777.2 1079.7 L777.6 1076.7 L778.0 1073.7 L778.5 1070.7 L778.9 1067.7 L779.4 1064.8 L779.8 1061.8 L780.2 1058.8 L780.7 1055.8 L781.1 1052.8 L781.5 1049.8 L782.0 1046.8 L782.4 1043.9 L782.9 1040.9 L783.3 1037.9 L783.7 1034.9 L784.2 1031.9 L784.6 1029.0 L785.1 1026.0 L785.5 1023.0 L786.0 1020.0 L786.4 1017.1 L786.8 1014.1 L787.3 1011.1 L787.7 1008.2 L788.2 1005.2 L788.6 1002.2 L789.1 999.3 L789.5 996.3 L790.0 993.3 L790.5 990.4 L790.9 987.4 L791.4 984.4 L791.8 981.5 L792.3 978.5 L792.7 975.6 L793.2 972.6 L793.7 969.7 L794.1 966.7 L794.6 963.8 L795.1 960.8 L795.6 957.9 L796.0 954.9 L796.5 952.0 L797.0 949.0 L797.5 946.1 L797.9 943.2 L798.4 940.2 L798.9 937.3" stroke="#ff8800"/>
<path d="M413.3 937.4 L413.7 940.3 L414.1 943.3 L414.4 946.2 L414.8 949.1 L415.1 952.0 L415.5 955.0 L415.9 957.9 L416.2 960.8 L416.6 963.8 L416.9 966.7 L417.3 969.7 L417.6 972.6 L418.0 975.6 L418.3 978.6 L418.6 981.5 L419.0 984.5 L419.3 987.5 L419.6 990.4 L420.0 993.4 L420.3 996.4 L420.6 999.4 L421.0 1002.3 L421.3 1005.3 L421.6 1008.3 L421.9 1011.3 L422.3 1014.3 L422.6 1017.3 L422.9 1020.3 L423.2 1023.3 L423.5 1026.3 L423.9 1029.3 L424.2 1032.3 L424.5 1035.3 L424.8 1038.3 L425.1 1041.3 L425.4 1044.3 L425.7 1047.4 L426.1 1050.4 L426.4 1053.4 L426.7 1056.4 L427.0 1059.4 L427.3 1062.5 L427.6 1065.5 L427.9 1068.5 L428.2 1071.5 L428.5 1074.5 L428.8 1077.6 L429.1 1080.6 L429.4 1083.6 L429.7 1086.7 L430.0 1089.7 L430.4 1092.7 L430.7 1095.7 L431.0 1098.8 L431.3 1101.8 L431.6 1104.8 L431.9 1107.9 L432.2 1110.9 L432.5 1113.9 L432.8 1117.0 L433.1 1120.0 L433.4 1123.0 L433.7 1126.1 L434.0 1129.1 L434.3 1132.1 L434.6 1135.1 L434.9 1138.2 L435.2 1141.2 L435.6 1144.2 L435.9 1147.3 L436.2 1150.3 L436.5 1153.3 L436.8 1156.3 L437.1 1159.3 L437.4 1162.4 L437.7 1165.4 L438.1 1168.4 L438.4 1171.4 L438.7 1174.4 L439.0 1177.5 L439.3 1180.5 L439.7 1183.5 L440.0 1186.5 L440.3 1189.5 L440.6 1192.5 L441.0 1195.5 L441.3 1198.5 L441.6 1201.5 L442.0 1204.5 L442.3 1207.5 L442.6 1210.5 L443.0 1213.5 L443.3 1216.5 L443.6 1219.5 L444.0 1222.5 L444.3 1225.4 L444.7 1228.4 L445.0 1231.4 L445.4 1234.4 L445.7 1237.3 L446.1 1240.3 L446.4 1243.3 L446.8 1246.2 L447.1 1249.2 L447.5 1252.1 L447.9 1255.1 L448.2 1258.0 L448.6 1261.0 L449.0 1263.9 L449.4 1266.9 L449.7 1269.8 L450.1 1272.7 L450.5 1275.7 L450.9 1278.6 L451.3 1281.5 L451.7 1284.4 L452.0 1287.3 L452.4 1290.2 L452.8 1293.2 L453.2 1296.1 L453.6 1299.0 L454.1 1301.9 L454.5 1304.8 L454.9 1307.7 L455.3 1310.6 L455.7 1313.5 L456.1 1316.4 L456.6 1319.3 L457.0 1322.2 L457.4 1325.1 L457.9 1328.0 L458.3 1330.9 L458.8 1333.8 L459.2 1336.7 L459.7 1339.6 L460.1 1342.6 L460.6 1345.5 L461.1 1348.4 L461.5 1351.4 L462.0 1354.3 L462.5 1357.2 L463.0 1360.2 L463.5 1363.2 L464.0 1366.1 L464.5 1369.1 L465.0 1372.1 L465.5 1375.0 L466.0 1378.0 L466.5 1381.0 L467.0 1384.0 L467.6 1387.1 L468.1 1390.1 L468.6 1393.1 L469.2 1396.2 L469.7 1399.2 L470.3 1402.3 L470.8 1405.4 L471.4 1408.5 L472.0 1411.6 L472.5 1414.7 L473.1 1417.8 L473.7 1420.9 L474.3 1424.1 L474.9 1427.2 L475.5 1430.4 L476.1 1433.6 L476.7 1436.8 L477.4 1440.0 L478.0 1443.3 L478.6 1446.5 L479.3 1449.8 L479.9 1453.0 L480.6 1456.3 L481.3 1459.5 L482.0 1462.8 L482.8 1465.9 L483.6 1469.1 L484.4 1472.2 L485.3 1475.2 L486.3 1478.1 L487.3 1481.0 L488.3 1483.8 L489.5 1486.5 L490.7 1489.1 L492.0 1491.6 L493.4 1493.9 L494.8 1496.1 L496.4 1498.2 L498.0 1500.1 L499.8 1501.8 L501.7 1503.4 L503.7 1504.8 L505.8 1506.0 L508.0 1507.1 L510.3 1507.9 L512.8 1508.5 L515.5 1508.8 L518.2 1508.9 L521.0 1508.8 L523.8 1508.4 L526.6 1507.6 L529.3 1506.5 L531.8 1505.0 L534.2 1503.2 L536.6 1501.2 L538.8 1499.0 L541.0 1496.6 L543.2 1494.0 L545.2 1491.3 L547.3 1488.6 L549.3 1485.8 L551.3 1483.0 L553.3 1480.3 L555.3 1477.6 L557.3 1475.1 L559.4 1472.7 L561.5 1470.5 L563.6 1468.5 L565.8 1466.8 L568.1 1465.4 L570.4 1464.3 L572.9 1463.6 L575.5 1463.4 L578.1 1463.5 L580.9 1464.2 L583.7 1465.1 L586.5 1466.5 L589.2 1468.0 L591.9 1469.8 L594.3 1471.7 L596.6 1473.8 L598.8 1476.0 L600.8 1478.3 L602.8 1480.6 L604.6 1483.1 L606.3 1485.7 L608.0 1488.3 L609.6 1490.9 L611.1 1493.6 L612.7 1496.3 L614.2 1499.0 L615.7 1501.8 L617.2 1504.5 L618.8 1507.2 L620.4 1509.8 L622.1 1512.5 L623.8 1515.0 L625.6 1517.5 L627.6 1519.9 L629.6 1522.2 L631.8 1524.4 L634.1 1526.5 L636.5 1528.4 L639.0 1530.2 L641.5 1531.8 L644.1 1533.1 L646.7 1534.1 L649.3 1534.9 L651.9 1535.4 L654.4 1535.5 L656.8 1535.3 L659.1 1534.6 L661.3 1533.5 L663.3 1532.0 L665.1 1530.1 L666.8 1527.9 L668.4 1525.3 L669.9 1522.5 L671.3 1519.4 L672.6 1516.2 L673.8 1512.9 L675.0 1509.5 L676.0 1506.1 L677.1 1502.7 L678.1 1499.3 L679.1 1496.1 L680.1 1492.9 L681.1 1489.8 L682.0 1486.8 L682.9 1483.9 L683.8 1481.0 L684.7 1478.1 L685.6 1475.3 L686.4 1472.5 L687.2 1469.7 L688.0 1467.0 L688.8 1464.2 L689.6 1461.5 L690.4 1458.8 L691.1 1456.0 L691.8 1453.3 L692.6 1450.5 L693.3 1447.7 L694.0 1444.9 L694.7 1442.0 L695.4 1439.2 L696.0 1436.3 L696.7 1433.4 L697.4 1430.5 L698.0 1427.6 L698.7 1424.7 L699.3 1421.7 L699.9 1418.8 L700.5 1415.8 L701.1 1412.8 L701.7 1409.9 L702.3 1406.9 L702.9 1403.9 L703.5 1400.9 L704.1 1398.0 L704.6 1395.0 L705.2 1392.0 L705.8 1389.0 L706.3 1386.0 L706.9 1383.1 L707.4 1380.1 L707.9 1377.1 L708.5 1374.1 L709.0 1371.1 L709.5 1368.2 L710.1 1365.2 L710.6 1362.2 L711.1 1359.2 L711.6 1356.2 L712.1 1353.3 L712.6 1350.3 L713.1 1347.3 L713.6 1344.3 L714.0 1341.3 L714.5 1338.3 L715.0 1335.4 L715.5 1332.4 L715.9 1329.4 L716.4 1326.4 L716.9 1323.4 L717.3 1320.4 L717.8 1317.5 L718.2 1314.5 L718.6 1311.5 L719.1 1308.5 L719.5 1305.5 L719.9 1302.5 L720.4 1299.6 L720.8 1296.6 L721.2 1293.6 L721.6 1290.6 L722.0 1287.6 L722.4 1284.6 L722.8 1281.6 L723.2 1278.7 L723.6 1275.7 L724.0 1272.7 L724.4 1269.7 L724.8 1266.7 L725.2 1263.7 L725.5 1260.7 L725.9 1257.7 L726.3 1254.8 L726.7 1251.8 L727.0 1248.8 L727.4 1245.8 L727.7 1242.8 L728.1 1239.8 L728.4 1236.8 L728.8 1233.8 L729.1 1230.9 L729.5 1227.9 L729.8 1224.9 L730.2 1221.9 L730.5 1218.9 L730.8 1215.9 L731.2 1212.9 L731.5 1209.9 L731.8 1206.9 L732.1 1204.0 L732.5 1201.0 L732.8 1198.0 L733.1 1195.0 L733.4 1192.0 L733.7 1189.0 L734.0 1186.0 L734.3 1183.0 L734.7 1180.0 L735.0 1177.0 L735.3 1174.0 L735.6 1171.0 L735.9 1168.1 L736.1 1165.1 L736.4 1162.1 L736.7 1159.1 L737.0 1156.1 L737.3 1153.1 L737.6 1150.1 L737.9 1147.1 L738.2 1144.1 L738.5 1141.1 L738.7 1138.1 L739.0 1135.1 L739.3 1132.1 L739.6 1129.1 L739.8 1126.1 L740.1 1123.2 L740.4 1120.2 L740.7 1117.2 L740.9 1114.2 L741.2 1111.2 L741.5 1108.2 L741.7 1105.2 L742.0 1102.2 L742.3 1099.2 L742.5 1096.2 L742.8 1093.2 L743.1 1090.2 L743.3 1087.2 L743.6 1084.2 L743.8 1081.2 L744.1 1078.2 L744.4 1075.2 L744.6 1072.2 L744.9 1069.2 L745.1 1066.2 L745.4 1063.2 L745.7 1060.2 L745.9 1057.2 L746.2 1054.2 L746.4 1051.2 L746.7 1048.2 L746.9 1045.2 L747.2 1042.2 L747.5 1039.2 L747.7 1036.2 L748.0 1033.2 L748.2 1030.2 L748.5 1027.2 L748.7 1024.2 L749.0 1021.2 L749.3 1018.2 L749.5 1015.2 L749.8 1012.2 L750.0 1009.2 L750.3 1006.2 L750.6 1003.2 L750.8 1000.2 L751.1 997.2 L751.3 994.2 L751.6 991.2 L751.9 988.2 L752.1 985.2 L752.4 982.2 L752.7 979.2 L752.9 976.2 L753.2 973.2 L753.5 970.2 L753.7 967.2 L754.0 964.2 L754.3 961.2 L754.6 958.1 L754.8 955.1 L755.1 952.1 L755.4 949.1 L755.7 946.1 L756.0 943.1 L756.2 940.1 L756.5 937.1" stroke="#9900ff"/>
<path d="M423.8 937.2 L424.2 940.1 L424.6 943.1 L424.9 946.1 L425.3 949.1 L425.6 952.1 L426.0 955.1 L426.4 958.1 L426.7 961.1 L427.1 964.1 L427.4 967.0 L427.8 970.0 L428.1 973.0 L428.5 976.0 L428.8 979.0 L429.2 982.0 L429.5 985.0 L429.8 988.0 L430.2 991.0 L430.5 994.0 L430.9 996.9 L431.2 999.9 L431.5 1002.9 L431.9 1005.9 L432.2 1008.9 L432.5 1011.9 L432.9 1014.9 L433.2 1017.9 L433.5 1020.9 L433.9 1023.8 L434.2 1026.8 L434.5 1029.8 L434.8 1032.8 L435.2 1035.8 L435.5 1038.8 L435.8 1041.8 L436.1 1044.8 L436.4 1047.8 L436.8 1050.8 L437.1 1053.7 L437.4 1056.7 L437.7 1059.7 L438.0 1062.7 L438.3 1065.7 L438.6 1068.7 L438.9 1071.7 L439.2 1074.7 L439.5 1077.7 L439.9 1080.6 L440.2 1083.6 L440.5 1086.6 L440.8 1089.6 L441.1 1092.6 L441.4 1095.6 L441.7 1098.6 L442.0 1101.6 L442.3 1104.6 L442.5 1107.6 L442.8 1110.6 L443.1 1113.5 L443.4 1116.5 L443.7 1119.5 L444.0 1122.5 L444.3 1125.5 L444.6 1128.5 L444.9 1131.5 L445.2 1134.5 L445.4 1137.5 L445.7 1140.5 L446.0 1143.5 L446.3 1146.4 L446.6 1149.4 L446.9 1152.4 L447.1 1155.4 L447.4 1158.4 L447.7 1161.4 L448.0 1164.4 L448.3 1167.4 L448.5 1170.4 L448.8 1173.4 L449.1 1176.4 L449.3 1179.4 L449.6 1182.4 L449.9 1185.3 L450.2 1188.3 L450.4 1191.3 L450.7 1194.3 L451.0 1197.3 L451.2 1200.3 L451.5 1203.3 L451.8 1206.3 L452.0 1209.3 L452.3 1212.3 L452.6 1215.3 L452.8 1218.3 L453.1 1221.3 L453.3 1224.3 L453.6 1227.3 L453.9 1230.3 L454.1 1233.2 L454.4 1236.2 L454.6 1239.2 L454.9 1242.2 L455.2 1245.2 L455.4 1248.2 L455.7 1251.2 L455.9 1254.2 L456.2 1257.2 L456.4 1260.2 L456.7 1263.2 L456.9 1266.2 L457.2 1269.2 L457.4 1272.2 L457.7 1275.2 L457.9 1278.2 L458.2 1281.2 L458.4 1284.2 L458.7 1287.2 L458.9 1290.2 L459.2 1293.2 L459.5 1296.2 L459.7 1299.2 L460.0 1302.2 L460.3 1305.2 L460.5 1308.2 L460.8 1311.2 L461.1 1314.1 L461.4 1317.1 L461.7 1320.1 L462.0 1323.1 L462.3 1326.1 L462.7 1329.1 L463.0 1332.1 L463.4 1335.1 L463.7 1338.1 L464.1 1341.0 L464.5 1344.0 L464.9 1347.0 L465.3 1350.0 L465.8 1353.0 L466.2 1355.9 L466.7 1358.9 L467.2 1361.9 L467.7 1364.9 L468.2 1367.8 L468.7 1370.8 L469.3 1373.8 L469.8 1376.7 L470.4 1379.7 L471.1 1382.6 L471.7 1385.6 L472.4 1388.5 L473.1 1391.5 L473.8 1394.4 L474.5 1397.4 L475.3 1400.3 L476.0 1403.2 L476.9 1406.2 L477.7 1409.1 L478.6 1412.0 L479.5 1415.0 L480.4 1417.9 L481.3 1420.8 L482.3 1423.7 L483.3 1426.6 L484.4 1429.5 L485.4 1432.4 L486.6 1435.3 L487.7 1438.2 L488.9 1441.0 L490.1 1443.8 L491.4 1446.6 L492.8 1449.3 L494.2 1451.9 L495.6 1454.5 L497.1 1457.0 L498.7 1459.4 L500.4 1461.7 L502.1 1463.9 L503.9 1466.0 L505.7 1468.0 L507.7 1469.9 L509.7 1471.7 L511.8 1473.3 L514.0 1474.7 L516.3 1476.1 L518.7 1477.2 L521.2 1478.2 L523.8 1479.1 L526.5 1479.7 L529.3 1480.2 L532.2 1480.4 L535.2 1480.5 L538.4 1480.3 L541.6 1480.0 L544.9 1479.5 L548.3 1479.0 L551.7 1478.5 L555.0 1478.0 L558.3 1477.7 L561.5 1477.6 L564.7 1477.7 L567.6 1478.2 L570.4 1479.0 L573.1 1480.1 L575.6 1481.5 L578.1 1483.2 L580.4 1485.0 L582.7 1486.9 L584.9 1489.0 L587.0 1491.1 L589.1 1493.3 L591.2 1495.5 L593.2 1497.7 L595.2 1500.0 L597.2 1502.3 L599.0 1504.7 L600.9 1507.1 L602.6 1509.5 L604.4 1512.0 L606.0 1514.5 L607.6 1517.1 L609.1 1519.7 L610.6 1522.4 L612.0 1525.1 L613.4 1527.8 L614.7 1530.6 L616.0 1533.4 L617.2 1536.2 L618.4 1539.0 L619.6 1541.9 L620.8 1544.8 L621.9 1547.7 L623.1 1550.6 L624.2 1553.5 L625.3 1556.4 L626.5 1559.3 L627.7 1562.2 L628.8 1565.1 L630.0 1567.9 L631.3 1570.8 L632.5 1573.6 L633.9 1576.4 L635.2 1579.2 L636.6 1581.9 L638.1 1584.7 L639.6 1587.3 L641.1 1590.0 L642.8 1592.6 L644.5 1595.1 L646.3 1597.6 L648.2 1600.0 L650.2 1602.4 L652.3 1604.7 L654.5 1606.9 L656.7 1609.0 L659.1 1610.9 L661.4 1612.5 L663.7 1613.7 L666.1 1614.4 L668.4 1614.7 L670.6 1614.4 L672.8 1613.5 L674.8 1612.1 L676.8 1610.4 L678.8 1608.4 L680.6 1606.2 L682.4 1603.9 L684.1 1601.6 L685.7 1599.2 L687.2 1596.7 L688.7 1594.2 L690.1 1591.7 L691.4 1589.1 L692.7 1586.5 L693.9 1583.8 L695.0 1581.1 L696.1 1578.4 L697.2 1575.6 L698.1 1572.8 L699.1 1570.0 L699.9 1567.1 L700.8 1564.2 L701.5 1561.3 L702.3 1558.3 L703.0 1555.3 L703.7 1552.3 L704.3 1549.3 L704.9 1546.3 L705.5 1543.2 L706.0 1540.1 L706.5 1537.0 L707.0 1533.9 L707.4 1530.8 L707.9 1527.7 L708.3 1524.6 L708.7 1521.5 L709.1 1518.4 L709.5 1515.2 L709.9 1512.1 L710.2 1509.0 L710.6 1505.8 L711.0 1502.7 L711.3 1499.6 L711.7 1496.5 L712.1 1493.4 L712.4 1490.4 L712.8 1487.3 L713.2 1484.2 L713.6 1481.2 L714.0 1478.1 L714.4 1475.1 L714.8 1472.1 L715.2 1469.1 L715.6 1466.1 L716.0 1463.1 L716.4 1460.1 L716.8 1457.1 L717.2 1454.1 L717.6 1451.1 L718.0 1448.2 L718.4 1445.2 L718.8 1442.2 L719.2 1439.3 L719.6 1436.3 L720.1 1433.4 L720.5 1430.4 L720.9 1427.5 L721.3 1424.6 L721.7 1421.6 L722.1 1418.7 L722.5 1415.7 L722.9 1412.8 L723.3 1409.9 L723.7 1406.9 L724.1 1404.0 L724.5 1401.1 L724.9 1398.1 L725.3 1395.2 L725.7 1392.2 L726.1 1389.3 L726.5 1386.4 L726.9 1383.4 L727.2 1380.5 L727.6 1377.5 L728.0 1374.6 L728.3 1371.6 L728.7 1368.7 L729.1 1365.7 L729.4 1362.7 L729.8 1359.8 L730.1 1356.8 L730.5 1353.9 L730.8 1350.9 L731.2 1347.9 L731.5 1345.0 L731.9 1342.0 L732.2 1339.0 L732.5 1336.1 L732.9 1333.1 L733.2 1330.1 L733.5 1327.2 L733.9 1324.2 L734.2 1321.2 L734.5 1318.2 L734.8 1315.3 L735.1 1312.3 L735.4 1309.3 L735.8 1306.3 L736.1 1303.3 L736.4 1300.3 L736.7 1297.4 L737.0 1294.4 L737.3 1291.4 L737.6 1288.4 L737.9 1285.4 L738.1 1282.4 L738.4 1279.4 L738.7 1276.5 L739.0 1273.5 L739.3 1270.5 L739.6 1267.5 L739.8 1264.5 L740.1 1261.5 L740.4 1258.5 L740.7 1255.5 L740.9 1252.5 L741.2 1249.5 L741.5 1246.5 L741.7 1243.5 L742.0 1240.5 L742.2 1237.5 L742.5 1234.5 L742.8 1231.5 L743.0 1228.5 L743.3 1225.5 L743.5 1222.5 L743.8 1219.5 L744.0 1216.5 L744.2 1213.5 L744.5 1210.5 L744.7 1207.5 L745.0 1204.5 L745.2 1201.5 L745.4 1198.4 L745.7 1195.4 L745.9 1192.4 L746.1 1189.4 L746.4 1186.4 L746.6 1183.4 L746.8 1180.4 L747.0 1177.4 L747.2 1174.4 L747.5 1171.4 L747.7 1168.4 L747.9 1165.3 L748.1 1162.3 L748.3 1159.3 L748.5 1156.3 L748.8 1153.3 L749.0 1150.3 L749.2 1147.3 L749.4 1144.3 L749.6 1141.3 L749.8 1138.2 L750.0 1135.2 L750.2 1132.2 L750.4 1129.2 L750.6 1126.2 L750.8 1123.2 L751.0 1120.2 L751.2 1117.2 L751.3 1114.1 L751.5 1111.1 L751.7 1108.1 L751.9 1105.1 L752.1 1102.1 L752.3 1099.1 L752.5 1096.1 L752.7 1093.1 L752.8 1090.1 L753.0 1087.1 L753.2 1084.0 L753.4 1081.0 L753.6 1078.0 L753.7 1075.0 L753.9 1072.0 L754.1 1069.0 L754.3 1066.0 L754.4 1063.0 L754.6 1060.0 L754.8 1057.0 L754.9 1054.0 L755.1 1051.0 L755.3 1048.0 L755.4 1044.9 L755.6 1041.9 L755.8 1038.9 L755.9 1035.9 L756.1 1032.9 L756.3 1029.9 L756.4 1026.9 L756.6 1023.9 L756.8 1020.9 L756.9 1017.9 L757.1 1014.9 L757.2 1011.9 L757.4 1008.9 L757.6 1005.9 L757.7 1003.0 L757.9 1000.0 L758.0 997.0 L758.2 994.0 L758.3 991.0 L758.5 988.0 L758.7 985.0 L758.8 982.0 L759.0 979.0 L759.1 976.0 L759.3 973.0 L759.4 970.1 L759.6 967.1 L759.7 964.1 L759.9 961.1 L760.0 958.1 L760.2 955.1 L760.3 952.2 L760.5 949.2 L760.6 946.2 L760.8 943.2 L760.9 940.3 L761.1 937.3" stroke="#ff0000"/>
<path d="M441.0 937.1 L441.4 940.1 L441.8 943.1 L442.2 946.1 L442.6 949.1 L442.9 952.1 L443.3 955.1 L443.7 958.1 L444.1 961.1 L444.4 964.1 L444.8 967.1 L445.1 970.2 L445.4 973.2 L445.8 976.2 L446.1 979.2 L446.4 982.2 L446.7 985.2 L447.0 988.2 L447.3 991.2 L447.6 994.2 L447.9 997.2 L448.2 1000.2 L448.5 1003.2 L448.8 1006.2 L449.0 1009.2 L449.3 1012.2 L449.6 1015.2 L449.8 1018.2 L450.1 1021.2 L450.3 1024.2 L450.5 1027.3 L450.8 1030.3 L451.0 1033.3 L451.2 1036.3 L451.5 1039.3 L451.7 1042.3 L451.9 1045.3 L452.1 1048.3 L452.3 1051.3 L452.5 1054.3 L452.7 1057.3 L452.9 1060.3 L453.1 1063.3 L453.3 1066.3 L453.5 1069.3 L453.7 1072.3 L453.9 1075.3 L454.1 1078.3 L454.2 1081.3 L454.4 1084.3 L454.6 1087.3 L454.7 1090.3 L454.9 1093.3 L455.1 1096.3 L455.2 1099.3 L455.4 1102.3 L455.6 1105.3 L455.7 1108.3 L455.9 1111.3 L456.0 1114.3 L456.2 1117.3 L456.3 1120.3 L456.5 1123.3 L456.6 1126.3 L456.8 1129.3 L456.9 1132.3 L457.1 1135.3 L457.2 1138.4 L457.3 1141.4 L457.5 1144.4 L457.6 1147.4 L457.8 1150.4 L457.9 1153.4 L458.0 1156.4 L458.2 1159.4 L458.3 1162.4 L458.5 1165.4 L458.6 1168.4 L458.7 1171.4 L458.9 1174.4 L459.0 1177.4 L459.2 1180.4 L459.3 1183.4 L459.5 1186.4 L459.6 1189.4 L459.7 1192.4 L459.9 1195.4 L460.0 1198.4 L460.2 1201.4 L460.3 1204.3 L460.5 1207.3 L460.6 1210.3 L460.8 1213.3 L460.9 1216.3 L461.1 1219.3 L461.3 1222.3 L461.4 1225.3 L461.6 1228.3 L461.8 1231.3 L461.9 1234.3 L462.1 1237.3 L462.3 1240.3 L462.4 1243.3 L462.6 1246.3 L462.8 1249.3 L463.0 1252.3 L463.2 1255.3 L463.4 1258.3 L463.5 1261.3 L463.7 1264.3 L463.9 1267.3 L464.1 1270.3 L464.4 1273.3 L464.6 1276.3 L464.8 1279.3 L465.0 1282.3 L465.2 1285.3 L465.4 1288.3 L465.7 1291.3 L465.9 1294.3 L466.1 1297.3 L466.4 1300.3 L466.6 1303.3 L466.9 1306.3 L467.1 1309.3 L467.4 1312.2 L467.7 1315.2 L467.9 1318.2 L468.2 1321.2 L468.5 1324.2 L468.8 1327.2 L469.1 1330.2 L469.4 1333.2 L469.7 1336.2 L470.0 1339.2 L470.3 1342.2 L470.6 1345.2 L471.0 1348.2 L471.3 1351.2 L471.6 1354.2 L472.0 1357.2 L472.3 1360.2 L472.7 1363.2 L473.0 1366.1 L473.4 1369.1 L473.8 1372.1 L474.2 1375.1 L474.6 1378.1 L475.0 1381.1 L475.4 1384.1 L475.8 1387.1 L476.2 1390.1 L476.6 1393.1 L477.1 1396.1 L477.5 1399.1 L478.0 1402.1 L478.4 1405.1 L478.9 1408.0 L479.4 1411.0 L479.9 1414.0 L480.4 1417.0 L480.9 1420.0 L481.4 1423.0 L481.9 1426.0 L482.4 1429.0 L483.0 1432.0 L483.5 1435.0 L484.1 1438.0 L484.6 1441.0 L485.2 1443.9 L485.8 1446.9 L486.4 1449.9 L487.0 1452.9 L487.6 1455.9 L488.2 1458.9 L488.8 1461.9 L489.5 1464.9 L490.1 1467.9 L490.8 1470.9 L491.4 1473.8 L492.1 1476.8 L492.8 1479.8 L493.5 1482.8 L494.2 1485.8 L494.9 1488.8 L495.7 1491.8 L496.4 1494.8 L497.2 1497.8 L497.9 1500.7 L498.7 1503.7 L499.5 1506.7 L500.3 1509.7 L501.2 1512.6 L502.1 1515.4 L503.1 1518.0 L504.3 1520.4 L505.5 1522.6 L507.0 1524.5 L508.6 1526.1 L510.5 1527.3 L512.5 1528.2 L514.8 1528.5 L517.4 1528.4 L519.9 1527.9 L522.4 1526.9 L524.8 1525.4 L527.0 1523.6 L529.2 1521.4 L531.2 1518.9 L533.2 1516.2 L535.1 1513.3 L536.9 1510.1 L538.7 1506.9 L540.5 1503.5 L542.3 1500.1 L544.1 1496.7 L545.9 1493.3 L547.6 1490.0 L549.4 1486.7 L551.2 1483.6 L553.0 1480.6 L554.8 1477.8 L556.7 1475.1 L558.5 1472.8 L560.4 1470.6 L562.3 1468.8 L564.2 1467.3 L566.2 1466.2 L568.1 1465.4 L570.2 1465.1 L572.2 1465.2 L574.3 1465.8 L576.5 1466.9 L578.6 1468.4 L580.8 1470.2 L582.9 1472.3 L585.0 1474.6 L587.0 1476.9 L588.9 1479.3 L590.8 1481.8 L592.5 1484.3 L594.2 1486.8 L595.9 1489.4 L597.4 1492.1 L598.9 1494.7 L600.4 1497.4 L601.8 1500.2 L603.1 1502.9 L604.3 1505.7 L605.6 1508.5 L606.7 1511.3 L607.8 1514.2 L608.9 1517.1 L609.9 1520.0 L610.9 1522.9 L611.9 1525.8 L612.8 1528.7 L613.7 1531.6 L614.5 1534.5 L615.4 1537.5 L616.2 1540.4 L617.0 1543.3 L617.7 1546.2 L618.5 1549.1 L619.2 1552.0 L619.9 1554.9 L620.6 1557.8 L621.3 1560.6 L622.0 1563.4 L622.7 1566.3 L623.5 1569.1 L624.2 1571.9 L625.0 1574.7 L625.7 1577.6 L626.5 1580.4 L627.4 1583.2 L628.3 1586.1 L629.2 1588.9 L630.2 1591.8 L631.2 1594.7 L632.3 1597.6 L633.4 1600.5 L634.6 1603.4 L635.9 1606.4 L637.2 1609.4 L638.7 1612.4 L640.2 1615.5 L641.8 1618.5 L643.5 1621.6 L645.3 1624.5 L647.1 1627.3 L648.9 1629.8 L650.8 1632.0 L652.8 1633.9 L654.7 1635.3 L656.6 1636.1 L658.6 1636.4 L660.4 1636.1 L662.3 1635.2 L664.0 1633.9 L665.7 1632.3 L667.2 1630.4 L668.5 1628.2 L669.8 1625.9 L670.9 1623.4 L672.0 1620.7 L673.0 1617.8 L673.8 1614.8 L674.7 1611.8 L675.4 1608.6 L676.1 1605.4 L676.8 1602.2 L677.5 1598.9 L678.1 1595.6 L678.7 1592.4 L679.3 1589.2 L679.9 1585.9 L680.5 1582.7 L681.1 1579.6 L681.7 1576.4 L682.2 1573.2 L682.8 1570.1 L683.3 1566.9 L683.8 1563.8 L684.3 1560.7 L684.8 1557.6 L685.3 1554.5 L685.8 1551.4 L686.3 1548.4 L686.8 1545.3 L687.2 1542.2 L687.7 1539.2 L688.1 1536.2 L688.5 1533.2 L689.0 1530.1 L689.4 1527.1 L689.8 1524.1 L690.2 1521.1 L690.6 1518.1 L691.0 1515.1 L691.4 1512.2 L691.8 1509.2 L692.1 1506.2 L692.5 1503.3 L692.9 1500.3 L693.2 1497.3 L693.6 1494.4 L693.9 1491.4 L694.3 1488.5 L694.6 1485.5 L694.9 1482.6 L695.3 1479.6 L695.6 1476.7 L695.9 1473.8 L696.2 1470.8 L696.6 1467.9 L696.9 1464.9 L697.2 1462.0 L697.5 1459.0 L697.8 1456.1 L698.1 1453.1 L698.4 1450.2 L698.7 1447.2 L699.1 1444.3 L699.4 1441.3 L699.7 1438.3 L699.9 1435.4 L700.2 1432.4 L700.5 1429.4 L700.8 1426.5 L701.1 1423.5 L701.4 1420.6 L701.7 1417.6 L702.0 1414.6 L702.2 1411.6 L702.5 1408.7 L702.8 1405.7 L703.1 1402.7 L703.4 1399.8 L703.6 1396.8 L703.9 1393.8 L704.2 1390.8 L704.4 1387.8 L704.7 1384.9 L705.0 1381.9 L705.2 1378.9 L705.5 1375.9 L705.7 1372.9 L706.0 1370.0 L706.2 1367.0 L706.5 1364.0 L706.7 1361.0 L707.0 1358.0 L707.2 1355.0 L707.5 1352.0 L707.7 1349.0 L708.0 1346.0 L708.2 1343.0 L708.4 1340.0 L708.7 1337.1 L708.9 1334.1 L709.1 1331.1 L709.4 1328.1 L709.6 1325.1 L709.8 1322.1 L710.1 1319.1 L710.3 1316.1 L710.5 1313.1 L710.7 1310.1 L711.0 1307.1 L711.2 1304.1 L711.4 1301.1 L711.6 1298.1 L711.8 1295.0 L712.0 1292.0 L712.2 1289.0 L712.5 1286.0 L712.7 1283.0 L712.9 1280.0 L713.1 1277.0 L713.3 1274.0 L713.5 1271.0 L713.7 1268.0 L713.9 1265.0 L714.1 1262.0 L714.3 1258.9 L714.5 1255.9 L714.7 1252.9 L714.9 1249.9 L715.1 1246.9 L715.3 1243.9 L715.5 1240.9 L715.7 1237.9 L715.9 1234.8 L716.1 1231.8 L716.2 1228.8 L716.4 1225.8 L716.6 1222.8 L716.8 1219.8 L717.0 1216.8 L717.2 1213.7 L717.3 1210.7 L717.5 1207.7 L717.7 1204.7 L717.9 1201.7 L718.1 1198.7 L718.2 1195.6 L718.4 1192.6 L718.6 1189.6 L718.8 1186.6 L718.9 1183.6 L719.1 1180.6 L719.3 1177.5 L719.5 1174.5 L719.6 1171.5 L719.8 1168.5 L720.0 1165.5 L720.1 1162.5 L720.3 1159.4 L720.5 1156.4 L720.6 1153.4 L720.8 1150.4 L721.0 1147.4 L721.1 1144.4 L721.3 1141.3 L721.4 1138.3 L721.6 1135.3 L721.8 1132.3 L721.9 1129.3 L722.1 1126.3 L722.2 1123.2 L722.4 1120.2 L722.6 1117.2 L722.7 1114.2 L722.9 1111.2 L723.0 1108.2 L723.2 1105.2 L723.3 1102.1 L723.5 1099.1 L723.7 1096.1 L723.8 1093.1 L724.0 1090.1 L724.1 1087.1 L724.3 1084.1 L724.4 1081.1 L724.6 1078.0 L724.7 1075.0 L724.9 1072.0 L725.0 1069.0 L725.2 1066.0 L725.3 1063.0 L725.5 1060.0 L725.6 1057.0 L725.8 1054.0 L725.9 1051.0 L726.1 1048.0 L726.2 1045.0 L726.4 1042.0 L726.5 1039.0 L726.7 1036.0 L726.8 1033.0 L726.9 1030.0 L727.1 1027.0 L727.2 1024.0 L727.4 1021.0 L727.5 1018.0 L727.7 1015.0 L727.8 1012.0 L728.0 1009.0 L728.1 1006.0 L728.3 1003.0 L728.4 1000.0 L728.6 997.0 L728.7 994.0 L728.9 991.0 L729.0 988.0 L729.1 985.0 L729.3 982.1 L729.4 979.1 L729.6 976.1 L729.7 973.1 L729.9 970.1 L730.0 967.1 L730.2 964.1 L730.3 961.2 L730.5 958.2 L730.6 955.2 L730.8 952.2 L730.9 949.3 L731.1 946.3 L731.2 943.3 L731.3 940.3 L731.5 937.4" stroke="#0a84ff"/>
</g>
<g clip-path="url(#cTR)" fill="none" stroke-width="4.5" stroke-linejoin="round" stroke-linecap="round">
<path d="M1050.4 67.3 L1051.8 82.3 L1053.2 97.0 L1054.6 111.5 L1056.0 125.7 L1057.4 139.7 L1058.8 153.5 L1060.1 167.0 L1061.5 180.2 L1062.9 193.3 L1064.3 206.1 L1065.7 218.7 L1067.1 231.1 L1068.5 243.3 L1069.8 255.3 L1071.2 267.1 L1072.6 278.8 L1074.0 290.2 L1075.4 301.5 L1076.8 312.6 L1078.2 323.5 L1079.5 334.2 L1080.9 344.8 L1082.3 355.2 L1083.7 365.5 L1085.1 375.6 L1086.5 385.5 L1087.8 395.3 L1089.2 405.0 L1090.6 414.5 L1092.0 423.9 L1093.4 433.1 L1094.8 442.3 L1096.2 451.2 L1097.5 460.1 L1098.9 468.8 L1100.3 477.4 L1101.7 485.9 L1103.1 494.2 L1104.5 502.4 L1105.9 510.5 L1107.2 518.5 L1108.6 526.4 L1110.0 534.2 L1111.4 541.9 L1112.8 549.4 L1114.2 556.9 L1115.6 564.2 L1116.9 571.4 L1118.3 578.6 L1119.7 585.6 L1121.1 592.5 L1122.5 599.3 L1123.9 606.1 L1125.3 612.7 L1126.6 619.2 L1128.0 625.7 L1129.4 632.0 L1130.8 638.2 L1132.2 644.4 L1133.6 650.5 L1135.0 656.4 L1136.3 662.3 L1137.7 668.1 L1139.1 673.8 L1140.5 679.4 L1141.9 685.0 L1143.3 690.4 L1144.6 695.8 L1146.0 701.0 L1147.4 706.2 L1148.8 711.3 L1150.2 716.4 L1151.6 721.3 L1153.0 726.2 L1154.3 730.9 L1155.7 735.6 L1157.1 740.3 L1158.5 744.8 L1159.9 749.3 L1161.3 753.6 L1162.7 758.0 L1164.0 762.2 L1165.4 766.3 L1166.8 770.4 L1168.2 774.4 L1169.6 778.3 L1171.0 782.2 L1172.4 786.0 L1173.7 789.7 L1175.1 793.3 L1176.5 796.9 L1177.9 800.3 L1179.3 803.8 L1180.7 807.1 L1182.1 810.4 L1183.4 813.6 L1184.8 816.7 L1186.2 819.8 L1187.6 822.8 L1189.0 825.7 L1190.4 828.6 L1191.8 831.4 L1193.1 834.1 L1194.5 836.8 L1195.9 839.4 L1197.3 841.9 L1198.7 844.4 L1200.1 846.8 L1201.4 849.1 L1202.8 851.4 L1204.2 853.6 L1205.6 855.8 L1207.0 857.9 L1208.4 859.9 L1209.8 861.9 L1211.1 863.8 L1212.5 865.7 L1213.9 867.5 L1215.3 869.2 L1216.7 870.9 L1218.1 872.5 L1219.5 874.1 L1220.8 875.6 L1222.2 877.1 L1223.6 878.5 L1225.0 879.8 L1226.4 881.1 L1227.8 882.4 L1229.2 883.6 L1230.5 884.7 L1231.9 885.8 L1233.3 886.8 L1234.7 887.8 L1236.1 888.8 L1237.5 889.7 L1238.9 890.5 L1240.2 891.3 L1241.6 892.1 L1243.0 892.8 L1244.4 893.4 L1245.8 894.0 L1247.2 894.6 L1248.6 895.1 L1249.9 895.6 L1251.3 896.1 L1252.7 896.5 L1254.1 896.8 L1255.5 897.1 L1256.9 897.4 L1258.2 897.7 L1259.6 897.9 L1261.0 898.0 L1262.4 898.2 L1263.8 898.2 L1265.2 898.3 L1266.6 898.3 L1267.9 898.3 L1269.3 898.2 L1270.7 898.2 L1272.1 898.0 L1273.5 897.9 L1274.9 897.7 L1276.3 897.5 L1277.6 897.2 L1279.0 897.0 L1280.4 896.7 L1281.8 896.3 L1283.2 896.0 L1284.6 895.6 L1286.0 895.1 L1287.3 894.7 L1288.7 894.2 L1290.1 893.7 L1291.5 893.2 L1292.9 892.7 L1294.3 892.1 L1295.7 891.5 L1297.0 890.9 L1298.4 890.3 L1299.8 889.6 L1301.2 888.9 L1302.6 888.2 L1304.0 887.5 L1305.4 886.8 L1306.7 886.0 L1308.1 885.3 L1309.5 884.5 L1310.9 883.7 L1312.3 882.9 L1313.7 882.0 L1315.0 881.2 L1316.4 880.3 L1317.8 879.4 L1319.2 878.5 L1320.6 877.6 L1322.0 876.7 L1323.4 875.8 L1324.7 874.8 L1326.1 873.9 L1327.5 872.9 L1328.9 872.0 L1330.3 871.0 L1331.7 870.0 L1333.1 869.0 L1334.4 868.0 L1335.8 867.0 L1337.2 866.0 L1338.6 864.9 L1340.0 863.9 L1341.4 862.9 L1342.8 861.8 L1344.1 860.8 L1345.5 859.7 L1346.9 858.7 L1348.3 857.6 L1349.7 856.5 L1351.1 855.5 L1352.5 854.4 L1353.8 853.3 L1355.2 852.3 L1356.6 851.2 L1358.0 850.1 L1359.4 849.1 L1360.8 848.0 L1362.2 846.9 L1363.5 845.9 L1364.9 844.8 L1366.3 843.7 L1367.7 842.7 L1369.1 841.6 L1370.5 840.6 L1371.8 839.5 L1373.2 838.5 L1374.6 837.4 L1376.0 836.4 L1377.4 835.4 L1378.8 834.3 L1380.2 833.3 L1381.5 832.3 L1382.9 831.3 L1384.3 830.3 L1385.7 829.3 L1387.1 828.3 L1388.5 827.3 L1389.9 826.3 L1391.2 825.4 L1392.6 824.4 L1394.0 823.5 L1395.4 822.5 L1396.8 821.6 L1398.2 820.7 L1399.6 819.7 L1400.9 818.8 L1402.3 817.9 L1403.7 817.1 L1405.1 816.2 L1406.5 815.3 L1407.9 814.5 L1409.3 813.6 L1410.6 812.8 L1412.0 812.0 L1413.4 811.2 L1414.8 810.4 L1416.2 809.6 L1417.6 808.8 L1419.0 808.1 L1420.3 807.3 L1421.7 806.6 L1423.1 805.9 L1424.5 805.2 L1425.9 804.5 L1427.3 803.8 L1428.6 803.1 L1430.0 802.5 L1431.4 801.9 L1432.8 801.2 L1434.2 800.6 L1435.6 800.0 L1437.0 799.5 L1438.3 798.9 L1439.7 798.4 L1441.1 797.8 L1442.5 797.3 L1443.9 796.8 L1445.3 796.3 L1446.7 795.9 L1448.0 795.4 L1449.4 795.0 L1450.8 794.5 L1452.2 794.1 L1453.6 793.7 L1455.0 793.4 L1456.4 793.0 L1457.7 792.7 L1459.1 792.3 L1460.5 792.0 L1461.9 791.7 L1463.3 791.5 L1464.7 791.2 L1466.1 791.0 L1467.4 790.8 L1468.8 790.5 L1470.2 790.4 L1471.6 790.2 L1473.0 790.0 L1474.4 789.9 L1475.8 789.8 L1477.1 789.7 L1478.5 789.6 L1479.9 789.5 L1481.3 789.4 L1482.7 789.4 L1484.1 789.4 L1485.5 789.4 L1486.8 789.4 L1488.2 789.4 L1489.6 789.5 L1491.0 789.5 L1492.4 789.6 L1493.8 789.7 L1495.1 789.8 L1496.5 789.9 L1497.9 790.1 L1499.3 790.2 L1500.7 790.4 L1502.1 790.6 L1503.5 790.8 L1504.8 791.0 L1506.2 791.3 L1507.6 791.5 L1509.0 791.8 L1510.4 792.1 L1511.8 792.4 L1513.2 792.7 L1514.5 793.1 L1515.9 793.4 L1517.3 793.8 L1518.7 794.2 L1520.1 794.6 L1521.5 795.0 L1522.9 795.4 L1524.2 795.9 L1525.6 796.3 L1527.0 796.8 L1528.4 797.3 L1529.8 797.8 L1531.2 798.3 L1532.6 798.8 L1533.9 799.4 L1535.3 799.9 L1536.7 800.5 L1538.1 801.0 L1539.5 801.6 L1540.9 802.2 L1542.3 802.8 L1543.6 803.5 L1545.0 804.1 L1546.4 804.8 L1547.8 805.4 L1549.2 806.1 L1550.6 806.8 L1551.9 807.5 L1553.3 808.2 L1554.7 808.9 L1556.1 809.6 L1557.5 810.3 L1558.9 811.1 L1560.3 811.8 L1561.6 812.6 L1563.0 813.3 L1564.4 814.1 L1565.8 814.9 L1567.2 815.7 L1568.6 816.5 L1570.0 817.3 L1571.3 818.1 L1572.7 818.9 L1574.1 819.7 L1575.5 820.5 L1576.9 821.3 L1578.3 822.2 L1579.7 823.0 L1581.0 823.8 L1582.4 824.7 L1583.8 825.5 L1585.2 826.4 L1586.6 827.2 L1588.0 828.1 L1589.4 828.9 L1590.7 829.8 L1592.1 830.6 L1593.5 831.5 L1594.9 832.3 L1596.3 833.2 L1597.7 834.0 L1599.1 834.9 L1600.4 835.7 L1601.8 836.6 L1603.2 837.4 L1604.6 838.3 L1606.0 839.1 L1607.4 839.9 L1608.7 840.8 L1610.1 841.6 L1611.5 842.4 L1612.9 843.2 L1614.3 844.0 L1615.7 844.8 L1617.1 845.6 L1618.4 846.3 L1619.8 847.1 L1621.2 847.9 L1622.6 848.6 L1624.0 849.4 L1625.4 850.1 L1626.8 850.8 L1628.1 851.5 L1629.5 852.2 L1630.9 852.9 L1632.3 853.6 L1633.7 854.2 L1635.1 854.8 L1636.5 855.5 L1637.8 856.1 L1639.2 856.7 L1640.6 857.2 L1642.0 857.8 L1643.4 858.3 L1644.8 858.9 L1646.2 859.4 L1647.5 859.9 L1648.9 860.3 L1650.3 860.8 L1651.7 861.2 L1653.1 861.6 L1654.5 862.0 L1655.9 862.3 L1657.2 862.7 L1658.6 863.0 L1660.0 863.3 L1661.4 863.5 L1662.8 863.8 L1664.2 864.0 L1665.5 864.2 L1666.9 864.3 L1668.3 864.5 L1669.7 864.6 L1671.1 864.7 L1672.5 864.7 L1673.9 864.7 L1675.2 864.7 L1676.6 864.7 L1678.0 864.6 L1679.4 864.5 L1680.8 864.3 L1682.2 864.2 L1683.6 864.0 L1684.9 863.7 L1686.3 863.5 L1687.7 863.1 L1689.1 862.8 L1690.5 862.4 L1691.9 862.0 L1693.3 861.6 L1694.6 861.1 L1696.0 860.5 L1697.4 860.0 L1698.8 859.4 L1700.2 858.7 L1701.6 858.0 L1703.0 857.3 L1704.3 856.5 L1705.7 855.7 L1707.1 854.9 L1708.5 854.0 L1709.9 853.1 L1711.3 852.1 L1712.7 851.1 L1714.0 850.0 L1715.4 848.9 L1716.8 847.7 L1718.2 846.5 L1719.6 845.3 L1721.0 844.0 L1722.3 842.6 L1723.7 841.2 L1725.1 839.8 L1726.5 838.3 L1727.9 836.7 L1729.3 835.1 L1730.7 833.5 L1732.0 831.8 L1733.4 830.1 L1734.8 828.3 L1736.2 826.4 L1737.6 824.5 L1739.0 822.5 L1740.4 820.5 L1741.7 818.5 L1743.1 816.3 L1744.5 814.1 L1745.9 811.9 L1747.3 809.6 L1748.7 807.3 L1750.1 804.9 L1751.4 802.4 L1752.8 799.9 L1754.2 797.3 L1755.6 794.6 L1757.0 791.9 L1758.4 789.1 L1759.8 786.3 L1761.1 783.4 L1762.5 780.4 L1763.9 777.4 L1765.3 774.3 L1766.7 771.1 L1768.1 767.9 L1769.5 764.6 L1770.8 761.2 L1772.2 757.8 L1773.6 754.3 L1775.0 750.7 L1776.4 747.1 L1777.8 743.3 L1779.1 739.5 L1780.5 735.6 L1781.9 731.7 L1783.3 727.7 L1784.7 723.5 L1786.1 719.3 L1787.5 715.1 L1788.8 710.7 L1790.2 706.3 L1791.6 701.7 L1793.0 697.1 L1794.4 692.4 L1795.8 687.6 L1797.2 682.7 L1798.5 677.8 L1799.9 672.7 L1801.3 667.5 L1802.7 662.3 L1804.1 656.9 L1805.5 651.4 L1806.9 645.8 L1808.2 640.1 L1809.6 634.3 L1811.0 628.4 L1812.4 622.4 L1813.8 616.3 L1815.2 610.0 L1816.6 603.6 L1817.9 597.1 L1819.3 590.5 L1820.7 583.7 L1822.1 576.8 L1823.5 569.8 L1824.9 562.6 L1826.3 555.3 L1827.6 547.8 L1829.0 540.2 L1830.4 532.4 L1831.8 524.5 L1833.2 516.4 L1834.6 508.1 L1835.9 499.7 L1837.3 491.0 L1838.7 482.2 L1840.1 473.3 L1841.5 464.1 L1842.9 454.7 L1844.3 445.1 L1845.6 435.3 L1847.0 425.3 L1848.4 415.1 L1849.8 404.7 L1851.2 394.0 L1852.6 383.0 L1854.0 371.9 L1855.3 360.4 L1856.7 348.7 L1858.1 336.8 L1859.5 324.5 L1860.9 312.0 L1862.3 299.2 L1863.7 286.1 L1865.0 272.6 L1866.4 258.9 L1867.8 244.8 L1869.2 230.3 L1870.6 215.6 L1872.0 200.4" stroke="#008000"/>
<path d="M1200.1 123.8 L1200.4 126.8 L1200.8 129.8 L1201.1 132.8 L1201.5 135.9 L1201.8 138.9 L1202.2 141.9 L1202.6 144.9 L1202.9 147.9 L1203.3 150.9 L1203.7 153.9 L1204.0 156.9 L1204.4 159.9 L1204.8 162.9 L1205.1 165.9 L1205.5 169.0 L1205.9 172.0 L1206.3 175.0 L1206.6 178.0 L1207.0 181.0 L1207.4 184.0 L1207.8 187.0 L1208.1 190.0 L1208.5 193.0 L1208.9 196.0 L1209.3 199.0 L1209.7 201.9 L1210.1 204.9 L1210.5 207.9 L1210.8 210.9 L1211.2 213.9 L1211.6 216.9 L1212.0 219.9 L1212.4 222.9 L1212.8 225.9 L1213.2 228.9 L1213.6 231.9 L1214.0 234.8 L1214.4 237.8 L1214.8 240.8 L1215.2 243.8 L1215.6 246.8 L1216.0 249.8 L1216.5 252.8 L1216.9 255.7 L1217.3 258.7 L1217.7 261.7 L1218.1 264.7 L1218.5 267.7 L1219.0 270.6 L1219.4 273.6 L1219.8 276.6 L1220.2 279.6 L1220.7 282.5 L1221.1 285.5 L1221.5 288.5 L1222.0 291.5 L1222.4 294.4 L1222.8 297.4 L1223.3 300.4 L1223.7 303.4 L1224.2 306.3 L1224.6 309.3 L1225.0 312.3 L1225.5 315.2 L1225.9 318.2 L1226.4 321.2 L1226.9 324.1 L1227.3 327.1 L1227.8 330.1 L1228.2 333.0 L1228.7 336.0 L1229.2 339.0 L1229.6 341.9 L1230.1 344.9 L1230.6 347.8 L1231.1 350.8 L1231.5 353.8 L1232.0 356.7 L1232.5 359.7 L1233.0 362.6 L1233.5 365.6 L1234.0 368.6 L1234.4 371.5 L1234.9 374.5 L1235.4 377.4 L1235.9 380.4 L1236.4 383.3 L1236.9 386.3 L1237.4 389.2 L1238.0 392.2 L1238.5 395.1 L1239.0 398.1 L1239.5 401.0 L1240.0 404.0 L1240.5 406.9 L1241.1 409.9 L1241.6 412.8 L1242.1 415.8 L1242.6 418.7 L1243.2 421.7 L1243.7 424.6 L1244.2 427.6 L1244.8 430.5 L1245.3 433.5 L1245.9 436.4 L1246.4 439.4 L1247.0 442.3 L1247.5 445.2 L1248.1 448.2 L1248.7 451.1 L1249.2 454.1 L1249.8 457.0 L1250.4 460.0 L1250.9 462.9 L1251.5 465.8 L1252.1 468.8 L1252.7 471.7 L1253.2 474.7 L1253.8 477.6 L1254.4 480.5 L1255.0 483.5 L1255.6 486.4 L1256.2 489.3 L1256.8 492.3 L1257.4 495.2 L1258.0 498.1 L1258.6 501.1 L1259.2 504.0 L1259.9 506.9 L1260.5 509.9 L1261.1 512.8 L1261.7 515.7 L1262.4 518.7 L1263.0 521.6 L1263.6 524.5 L1264.3 527.5 L1264.9 530.4 L1265.6 533.3 L1266.2 536.3 L1266.9 539.2 L1267.5 542.1 L1268.2 545.0 L1268.8 548.0 L1269.5 550.9 L1270.2 553.8 L1270.9 556.8 L1271.5 559.7 L1272.2 562.6 L1272.9 565.5 L1273.6 568.5 L1274.3 571.4 L1275.0 574.3 L1275.7 577.2 L1276.4 580.2 L1277.1 583.1 L1277.8 586.0 L1278.5 588.9 L1279.2 591.9 L1279.9 594.8 L1280.6 597.7 L1281.4 600.6 L1282.1 603.5 L1282.8 606.5 L1283.6 609.4 L1284.3 612.3 L1285.1 615.2 L1285.8 618.1 L1286.6 621.1 L1287.3 624.0 L1288.1 626.9 L1288.8 629.8 L1289.6 632.7 L1290.4 635.7 L1291.2 638.6 L1291.9 641.5 L1292.7 644.4 L1293.5 647.3 L1294.3 650.2 L1295.1 653.2 L1295.9 656.1 L1296.7 659.0 L1297.5 661.9 L1298.3 664.8 L1299.1 667.7 L1300.0 670.7 L1300.8 673.6 L1301.6 676.5 L1302.4 679.4 L1303.3 682.3 L1304.1 685.2 L1305.0 688.2 L1305.8 691.1 L1306.7 694.0 L1307.5 696.9 L1308.4 699.8 L1309.3 702.7 L1310.1 705.6 L1311.0 708.5 L1311.9 711.5 L1312.8 714.4 L1313.7 717.3 L1314.6 720.2 L1315.5 723.1 L1316.4 726.0 L1317.3 728.9 L1318.2 731.8 L1319.2 734.7 L1320.1 737.6 L1321.1 740.5 L1322.1 743.3 L1323.0 746.2 L1324.0 749.1 L1325.1 751.9 L1326.1 754.8 L1327.1 757.6 L1328.2 760.4 L1329.3 763.3 L1330.4 766.1 L1331.5 768.9 L1332.6 771.7 L1333.7 774.5 L1334.9 777.2 L1336.1 780.0 L1337.3 782.8 L1338.5 785.5 L1339.8 788.2 L1341.1 790.9 L1342.4 793.6 L1343.7 796.3 L1345.0 799.0 L1346.4 801.6 L1347.8 804.3 L1349.2 806.9 L1350.7 809.5 L1352.2 812.1 L1353.7 814.7 L1355.2 817.2 L1356.8 819.7 L1358.4 822.3 L1360.0 824.8 L1361.7 827.2 L1363.4 829.7 L1365.1 832.1 L1366.9 834.5 L1368.7 836.9 L1370.5 839.3 L1372.4 841.6 L1374.3 844.0 L1376.2 846.3 L1378.2 848.5 L1380.2 850.8 L1382.3 853.0 L1384.4 855.2 L1386.5 857.4 L1388.7 859.5 L1390.9 861.6 L1393.1 863.7 L1395.4 865.7 L1397.7 867.7 L1400.0 869.6 L1402.4 871.5 L1404.8 873.3 L1407.2 875.1 L1409.7 876.8 L1412.1 878.5 L1414.6 880.1 L1417.2 881.6 L1419.7 883.1 L1422.3 884.5 L1424.9 885.8 L1427.5 887.0 L1430.1 888.2 L1432.8 889.2 L1435.5 890.2 L1438.1 891.1 L1440.8 892.0 L1443.6 892.7 L1446.3 893.3 L1449.0 893.8 L1451.8 894.2 L1454.6 894.6 L1457.3 894.8 L1460.1 894.9 L1462.9 894.9 L1465.7 894.8 L1468.5 894.5 L1471.3 894.2 L1474.2 893.7 L1477.0 893.2 L1479.8 892.6 L1482.6 891.8 L1485.4 891.0 L1488.1 890.1 L1490.9 889.1 L1493.7 888.0 L1496.4 886.8 L1499.1 885.6 L1501.8 884.2 L1504.5 882.8 L1507.2 881.4 L1509.8 879.8 L1512.4 878.3 L1515.0 876.6 L1517.5 874.9 L1520.0 873.1 L1522.5 871.3 L1524.9 869.4 L1527.3 867.5 L1529.6 865.5 L1532.0 863.5 L1534.2 861.5 L1536.4 859.4 L1538.6 857.2 L1540.7 855.1 L1542.8 852.9 L1544.9 850.6 L1546.9 848.4 L1548.9 846.1 L1550.8 843.7 L1552.7 841.4 L1554.6 839.0 L1556.4 836.5 L1558.2 834.1 L1560.0 831.6 L1561.7 829.1 L1563.4 826.5 L1565.1 824.0 L1566.7 821.4 L1568.4 818.8 L1569.9 816.1 L1571.5 813.5 L1573.0 810.8 L1574.5 808.1 L1576.0 805.4 L1577.4 802.7 L1578.8 799.9 L1580.2 797.2 L1581.6 794.4 L1582.9 791.6 L1584.3 788.8 L1585.6 786.0 L1586.8 783.2 L1588.1 780.4 L1589.3 777.5 L1590.6 774.7 L1591.8 771.9 L1593.0 769.0 L1594.1 766.2 L1595.3 763.3 L1596.4 760.4 L1597.5 757.6 L1598.7 754.7 L1599.8 751.8 L1600.8 749.0 L1601.9 746.1 L1603.0 743.3 L1604.0 740.4 L1605.0 737.5 L1606.1 734.7 L1607.1 731.8 L1608.0 728.9 L1609.0 726.1 L1610.0 723.2 L1611.0 720.3 L1611.9 717.4 L1612.8 714.6 L1613.8 711.7 L1614.7 708.8 L1615.6 705.9 L1616.5 703.1 L1617.3 700.2 L1618.2 697.3 L1619.1 694.4 L1619.9 691.5 L1620.7 688.7 L1621.6 685.8 L1622.4 682.9 L1623.2 680.0 L1624.0 677.1 L1624.8 674.2 L1625.6 671.4 L1626.3 668.5 L1627.1 665.6 L1627.9 662.7 L1628.6 659.8 L1629.3 656.9 L1630.1 654.0 L1630.8 651.1 L1631.5 648.2 L1632.2 645.3 L1632.9 642.4 L1633.6 639.5 L1634.3 636.6 L1635.0 633.7 L1635.7 630.8 L1636.4 627.9 L1637.0 625.0 L1637.7 622.1 L1638.3 619.2 L1639.0 616.3 L1639.6 613.4 L1640.3 610.5 L1640.9 607.6 L1641.5 604.7 L1642.2 601.8 L1642.8 598.8 L1643.4 595.9 L1644.0 593.0 L1644.6 590.1 L1645.2 587.2 L1645.8 584.2 L1646.4 581.3 L1647.0 578.4 L1647.6 575.5 L1648.2 572.5 L1648.8 569.6 L1649.4 566.7 L1650.0 563.8 L1650.6 560.8 L1651.1 557.9 L1651.7 555.0 L1652.3 552.0 L1652.9 549.1 L1653.4 546.1 L1654.0 543.2 L1654.6 540.3 L1655.2 537.3 L1655.7 534.4 L1656.3 531.4 L1656.8 528.5 L1657.4 525.5 L1657.9 522.6 L1658.5 519.6 L1659.0 516.7 L1659.6 513.7 L1660.1 510.8 L1660.7 507.8 L1661.2 504.9 L1661.8 501.9 L1662.3 499.0 L1662.8 496.0 L1663.4 493.1 L1663.9 490.1 L1664.4 487.1 L1665.0 484.2 L1665.5 481.2 L1666.0 478.3 L1666.5 475.3 L1667.1 472.3 L1667.6 469.4 L1668.1 466.4 L1668.6 463.4 L1669.1 460.5 L1669.7 457.5 L1670.2 454.5 L1670.7 451.6 L1671.2 448.6 L1671.7 445.6 L1672.2 442.6 L1672.7 439.7 L1673.2 436.7 L1673.7 433.7 L1674.2 430.8 L1674.7 427.8 L1675.2 424.8 L1675.7 421.8 L1676.2 418.9 L1676.7 415.9 L1677.1 412.9 L1677.6 409.9 L1678.1 406.9 L1678.6 404.0 L1679.1 401.0 L1679.6 398.0 L1680.0 395.0 L1680.5 392.0 L1681.0 389.1 L1681.5 386.1 L1681.9 383.1 L1682.4 380.1 L1682.9 377.1 L1683.3 374.2 L1683.8 371.2 L1684.3 368.2 L1684.7 365.2 L1685.2 362.2 L1685.7 359.2 L1686.1 356.3 L1686.6 353.3 L1687.1 350.3 L1687.5 347.3 L1688.0 344.3 L1688.4 341.3 L1688.9 338.4 L1689.3 335.4 L1689.8 332.4 L1690.2 329.4 L1690.7 326.4 L1691.1 323.4 L1691.6 320.4 L1692.0 317.5 L1692.5 314.5 L1692.9 311.5 L1693.4 308.5 L1693.8 305.5 L1694.2 302.5 L1694.7 299.5 L1695.1 296.6 L1695.6 293.6 L1696.0 290.6 L1696.4 287.6 L1696.9 284.6 L1697.3 281.6 L1697.7 278.7 L1698.2 275.7 L1698.6 272.7 L1699.0 269.7 L1699.4 266.7 L1699.9 263.7 L1700.3 260.8 L1700.7 257.8 L1701.2 254.8 L1701.6 251.8 L1702.0 248.8 L1702.4 245.9 L1702.9 242.9 L1703.3 239.9 L1703.7 236.9 L1704.1 233.9 L1704.5 231.0 L1705.0 228.0 L1705.4 225.0 L1705.8 222.0 L1706.2 219.1 L1706.6 216.1 L1707.0 213.1 L1707.5 210.1 L1707.9 207.2 L1708.3 204.2 L1708.7 201.2 L1709.1 198.2 L1709.5 195.3 L1709.9 192.3 L1710.4 189.3 L1710.8 186.4 L1711.2 183.4 L1711.6 180.4 L1712.0 177.5 L1712.4 174.5 L1712.8 171.5 L1713.2 168.6 L1713.6 165.6 L1714.1 162.6 L1714.5 159.7 L1714.9 156.7 L1715.3 153.8 L1715.7 150.8 L1716.1 147.8 L1716.5 144.9 L1716.9 141.9 L1717.3 139.0 L1717.7 136.0 L1718.1 133.1 L1718.5 130.1 L1718.9 127.2 L1719.3 124.2" stroke="#ff8800"/>
<path d="M1295.0 123.9 L1295.3 126.9 L1295.6 129.9 L1295.8 132.9 L1296.1 136.0 L1296.4 139.0 L1296.6 142.0 L1296.9 145.0 L1297.1 148.0 L1297.4 151.0 L1297.7 154.0 L1297.9 157.0 L1298.2 160.0 L1298.4 163.0 L1298.7 166.0 L1298.9 169.0 L1299.2 172.0 L1299.5 175.0 L1299.7 178.0 L1300.0 181.0 L1300.2 184.0 L1300.5 187.0 L1300.7 190.0 L1301.0 193.0 L1301.3 196.0 L1301.5 199.0 L1301.8 202.0 L1302.0 205.0 L1302.3 208.0 L1302.5 211.0 L1302.8 214.0 L1303.1 217.0 L1303.3 220.0 L1303.6 223.0 L1303.8 226.0 L1304.1 229.0 L1304.3 232.0 L1304.6 235.0 L1304.9 237.9 L1305.1 240.9 L1305.4 243.9 L1305.6 246.9 L1305.9 249.9 L1306.2 252.9 L1306.4 255.9 L1306.7 258.9 L1306.9 261.9 L1307.2 264.9 L1307.5 267.9 L1307.7 270.9 L1308.0 273.9 L1308.2 276.9 L1308.5 279.9 L1308.8 282.9 L1309.0 285.9 L1309.3 288.9 L1309.6 291.9 L1309.8 294.8 L1310.1 297.8 L1310.4 300.8 L1310.6 303.8 L1310.9 306.8 L1311.2 309.8 L1311.4 312.8 L1311.7 315.8 L1312.0 318.8 L1312.2 321.8 L1312.5 324.8 L1312.8 327.8 L1313.0 330.7 L1313.3 333.7 L1313.6 336.7 L1313.9 339.7 L1314.1 342.7 L1314.4 345.7 L1314.7 348.7 L1315.0 351.7 L1315.2 354.7 L1315.5 357.7 L1315.8 360.6 L1316.1 363.6 L1316.4 366.6 L1316.7 369.6 L1316.9 372.6 L1317.2 375.6 L1317.5 378.6 L1317.8 381.6 L1318.1 384.5 L1318.4 387.5 L1318.7 390.5 L1319.0 393.5 L1319.3 396.5 L1319.5 399.5 L1319.8 402.5 L1320.1 405.5 L1320.4 408.4 L1320.7 411.4 L1321.0 414.4 L1321.3 417.4 L1321.6 420.4 L1321.9 423.4 L1322.2 426.4 L1322.5 429.3 L1322.9 432.3 L1323.2 435.3 L1323.5 438.3 L1323.8 441.3 L1324.1 444.3 L1324.4 447.2 L1324.7 450.2 L1325.0 453.2 L1325.4 456.2 L1325.7 459.2 L1326.0 462.2 L1326.3 465.1 L1326.6 468.1 L1327.0 471.1 L1327.3 474.1 L1327.6 477.1 L1328.0 480.1 L1328.3 483.0 L1328.6 486.0 L1329.0 489.0 L1329.3 492.0 L1329.6 495.0 L1330.0 498.0 L1330.3 500.9 L1330.7 503.9 L1331.0 506.9 L1331.4 509.9 L1331.7 512.9 L1332.1 515.8 L1332.4 518.8 L1332.8 521.8 L1333.1 524.8 L1333.5 527.8 L1333.8 530.7 L1334.2 533.7 L1334.6 536.7 L1334.9 539.7 L1335.3 542.7 L1335.7 545.6 L1336.0 548.6 L1336.4 551.6 L1336.8 554.6 L1337.2 557.6 L1337.6 560.5 L1337.9 563.5 L1338.3 566.5 L1338.7 569.5 L1339.1 572.4 L1339.5 575.4 L1339.9 578.4 L1340.3 581.4 L1340.7 584.4 L1341.1 587.3 L1341.5 590.3 L1341.9 593.3 L1342.3 596.3 L1342.7 599.2 L1343.1 602.2 L1343.5 605.2 L1343.9 608.2 L1344.3 611.2 L1344.8 614.1 L1345.2 617.1 L1345.6 620.1 L1346.0 623.1 L1346.5 626.0 L1346.9 629.0 L1347.3 632.0 L1347.8 635.0 L1348.2 637.9 L1348.7 640.9 L1349.1 643.9 L1349.6 646.9 L1350.0 649.8 L1350.5 652.8 L1350.9 655.8 L1351.4 658.8 L1351.8 661.7 L1352.3 664.7 L1352.8 667.7 L1353.2 670.7 L1353.7 673.6 L1354.2 676.6 L1354.6 679.6 L1355.1 682.6 L1355.6 685.5 L1356.1 688.5 L1356.6 691.5 L1357.1 694.4 L1357.6 697.4 L1358.1 700.4 L1358.6 703.4 L1359.1 706.3 L1359.6 709.3 L1360.1 712.3 L1360.6 715.3 L1361.1 718.2 L1361.6 721.2 L1362.1 724.2 L1362.7 727.1 L1363.2 730.1 L1363.7 733.1 L1364.3 736.1 L1364.8 739.0 L1365.3 742.0 L1365.9 745.0 L1366.4 748.0 L1367.0 750.9 L1367.5 753.9 L1368.1 756.9 L1368.6 759.8 L1369.2 762.8 L1369.8 765.8 L1370.3 768.7 L1370.9 771.7 L1371.5 774.7 L1372.1 777.6 L1372.7 780.6 L1373.3 783.6 L1374.0 786.5 L1374.7 789.5 L1375.3 792.4 L1376.1 795.3 L1376.8 798.2 L1377.6 801.2 L1378.3 804.1 L1379.2 807.0 L1380.0 809.9 L1380.9 812.7 L1381.8 815.6 L1382.8 818.5 L1383.8 821.3 L1384.8 824.2 L1385.9 827.0 L1387.0 829.8 L1388.2 832.6 L1389.4 835.3 L1390.7 838.1 L1392.0 840.8 L1393.3 843.6 L1394.8 846.3 L1396.3 849.0 L1397.8 851.7 L1399.4 854.3 L1401.1 856.8 L1402.8 859.3 L1404.6 861.7 L1406.5 863.9 L1408.4 865.9 L1410.5 867.7 L1412.6 869.3 L1414.8 870.7 L1417.0 871.8 L1419.4 872.5 L1421.8 872.9 L1424.4 873.0 L1427.0 872.8 L1429.7 872.2 L1432.4 871.4 L1435.3 870.4 L1438.1 869.2 L1441.0 867.8 L1444.0 866.4 L1446.9 864.8 L1449.9 863.2 L1452.9 861.6 L1455.9 860.1 L1458.8 858.6 L1461.8 857.1 L1464.7 855.9 L1467.5 854.8 L1470.4 853.9 L1473.1 853.2 L1475.8 852.9 L1478.4 852.8 L1481.0 853.0 L1483.5 853.5 L1486.0 854.2 L1488.4 855.3 L1490.8 856.5 L1493.2 858.0 L1495.6 859.7 L1497.9 861.6 L1500.3 863.7 L1502.7 866.0 L1505.1 868.4 L1507.5 870.9 L1509.9 873.4 L1512.4 876.0 L1514.9 878.5 L1517.4 881.0 L1520.0 883.4 L1522.7 885.6 L1525.4 887.7 L1528.1 889.6 L1530.9 891.3 L1533.7 892.8 L1536.4 893.9 L1539.1 894.8 L1541.6 895.4 L1544.1 895.6 L1546.4 895.4 L1548.6 894.9 L1550.6 894.0 L1552.5 892.8 L1554.3 891.4 L1556.0 889.7 L1557.6 887.8 L1559.1 885.6 L1560.5 883.3 L1561.9 880.9 L1563.1 878.2 L1564.3 875.5 L1565.5 872.7 L1566.6 869.8 L1567.7 866.9 L1568.8 864.0 L1569.9 861.1 L1570.9 858.1 L1571.9 855.2 L1572.9 852.3 L1573.9 849.3 L1574.8 846.4 L1575.8 843.5 L1576.7 840.5 L1577.6 837.6 L1578.5 834.7 L1579.4 831.7 L1580.2 828.8 L1581.0 825.8 L1581.9 822.9 L1582.7 819.9 L1583.5 817.0 L1584.2 814.1 L1585.0 811.1 L1585.7 808.2 L1586.5 805.2 L1587.2 802.3 L1587.9 799.3 L1588.6 796.3 L1589.2 793.4 L1589.9 790.4 L1590.5 787.5 L1591.2 784.5 L1591.8 781.6 L1592.4 778.6 L1593.0 775.6 L1593.6 772.7 L1594.1 769.7 L1594.7 766.8 L1595.2 763.8 L1595.8 760.8 L1596.3 757.9 L1596.8 754.9 L1597.3 751.9 L1597.8 749.0 L1598.3 746.0 L1598.8 743.0 L1599.2 740.1 L1599.7 737.1 L1600.1 734.1 L1600.6 731.1 L1601.0 728.2 L1601.4 725.2 L1601.8 722.2 L1602.2 719.3 L1602.6 716.3 L1603.0 713.3 L1603.4 710.3 L1603.8 707.4 L1604.2 704.4 L1604.5 701.4 L1604.9 698.4 L1605.3 695.4 L1605.6 692.5 L1606.0 689.5 L1606.3 686.5 L1606.6 683.5 L1607.0 680.5 L1607.3 677.6 L1607.6 674.6 L1607.9 671.6 L1608.3 668.6 L1608.6 665.6 L1608.9 662.7 L1609.2 659.7 L1609.5 656.7 L1609.8 653.7 L1610.1 650.7 L1610.4 647.7 L1610.7 644.7 L1611.0 641.8 L1611.3 638.8 L1611.6 635.8 L1611.9 632.8 L1612.2 629.8 L1612.5 626.8 L1612.8 623.9 L1613.1 620.9 L1613.4 617.9 L1613.7 614.9 L1614.0 611.9 L1614.3 608.9 L1614.6 605.9 L1614.9 602.9 L1615.2 600.0 L1615.4 597.0 L1615.7 594.0 L1616.0 591.0 L1616.3 588.0 L1616.6 585.0 L1616.9 582.0 L1617.2 579.0 L1617.5 576.1 L1617.8 573.1 L1618.0 570.1 L1618.3 567.1 L1618.6 564.1 L1618.9 561.1 L1619.2 558.1 L1619.5 555.1 L1619.8 552.1 L1620.0 549.2 L1620.3 546.2 L1620.6 543.2 L1620.9 540.2 L1621.2 537.2 L1621.4 534.2 L1621.7 531.2 L1622.0 528.2 L1622.3 525.2 L1622.6 522.2 L1622.8 519.3 L1623.1 516.3 L1623.4 513.3 L1623.7 510.3 L1624.0 507.3 L1624.2 504.3 L1624.5 501.3 L1624.8 498.3 L1625.1 495.3 L1625.3 492.3 L1625.6 489.3 L1625.9 486.3 L1626.2 483.4 L1626.4 480.4 L1626.7 477.4 L1627.0 474.4 L1627.3 471.4 L1627.5 468.4 L1627.8 465.4 L1628.1 462.4 L1628.3 459.4 L1628.6 456.4 L1628.9 453.4 L1629.1 450.4 L1629.4 447.4 L1629.7 444.4 L1630.0 441.5 L1630.2 438.5 L1630.5 435.5 L1630.8 432.5 L1631.0 429.5 L1631.3 426.5 L1631.6 423.5 L1631.8 420.5 L1632.1 417.5 L1632.4 414.5 L1632.6 411.5 L1632.9 408.5 L1633.2 405.5 L1633.4 402.5 L1633.7 399.5 L1633.9 396.5 L1634.2 393.5 L1634.5 390.6 L1634.7 387.6 L1635.0 384.6 L1635.3 381.6 L1635.5 378.6 L1635.8 375.6 L1636.1 372.6 L1636.3 369.6 L1636.6 366.6 L1636.8 363.6 L1637.1 360.6 L1637.4 357.6 L1637.6 354.6 L1637.9 351.6 L1638.1 348.6 L1638.4 345.6 L1638.7 342.6 L1638.9 339.6 L1639.2 336.6 L1639.4 333.6 L1639.7 330.7 L1639.9 327.7 L1640.2 324.7 L1640.5 321.7 L1640.7 318.7 L1641.0 315.7 L1641.2 312.7 L1641.5 309.7 L1641.7 306.7 L1642.0 303.7 L1642.3 300.7 L1642.5 297.7 L1642.8 294.7 L1643.0 291.7 L1643.3 288.7 L1643.5 285.7 L1643.8 282.7 L1644.1 279.7 L1644.3 276.7 L1644.6 273.7 L1644.8 270.7 L1645.1 267.8 L1645.3 264.8 L1645.6 261.8 L1645.8 258.8 L1646.1 255.8 L1646.3 252.8 L1646.6 249.8 L1646.8 246.8 L1647.1 243.8 L1647.4 240.8 L1647.6 237.8 L1647.9 234.8 L1648.1 231.8 L1648.4 228.8 L1648.6 225.8 L1648.9 222.8 L1649.1 219.8 L1649.4 216.8 L1649.6 213.8 L1649.9 210.9 L1650.1 207.9 L1650.4 204.9 L1650.6 201.9 L1650.9 198.9 L1651.1 195.9 L1651.4 192.9 L1651.6 189.9 L1651.9 186.9 L1652.1 183.9 L1652.4 180.9 L1652.6 177.9 L1652.9 174.9 L1653.2 171.9 L1653.4 168.9 L1653.7 165.9 L1653.9 163.0 L1654.2 160.0 L1654.4 157.0 L1654.7 154.0 L1654.9 151.0 L1655.2 148.0 L1655.4 145.0 L1655.7 142.0 L1655.9 139.0 L1656.2 136.0 L1656.4 133.0 L1656.7 130.0 L1656.9 127.0 L1657.2 124.1" stroke="#9900ff"/>
<path d="M1304.2 123.9 L1304.5 126.9 L1304.7 129.9 L1305.0 132.9 L1305.2 136.0 L1305.4 139.0 L1305.7 142.0 L1305.9 145.0 L1306.2 148.0 L1306.4 151.0 L1306.7 154.1 L1306.9 157.1 L1307.1 160.1 L1307.4 163.1 L1307.6 166.1 L1307.8 169.1 L1308.0 172.1 L1308.3 175.2 L1308.5 178.2 L1308.7 181.2 L1308.9 184.2 L1309.1 187.2 L1309.4 190.2 L1309.6 193.2 L1309.8 196.2 L1310.0 199.2 L1310.2 202.2 L1310.4 205.3 L1310.6 208.3 L1310.9 211.3 L1311.1 214.3 L1311.3 217.3 L1311.5 220.3 L1311.7 223.3 L1311.9 226.3 L1312.1 229.3 L1312.3 232.3 L1312.5 235.3 L1312.7 238.3 L1312.9 241.3 L1313.1 244.3 L1313.3 247.3 L1313.5 250.3 L1313.7 253.3 L1313.9 256.3 L1314.1 259.3 L1314.3 262.3 L1314.5 265.3 L1314.7 268.3 L1314.8 271.3 L1315.0 274.3 L1315.2 277.3 L1315.4 280.3 L1315.6 283.3 L1315.8 286.3 L1316.0 289.3 L1316.2 292.3 L1316.4 295.3 L1316.6 298.3 L1316.8 301.3 L1317.0 304.3 L1317.2 307.3 L1317.3 310.3 L1317.5 313.3 L1317.7 316.3 L1317.9 319.3 L1318.1 322.3 L1318.3 325.3 L1318.5 328.2 L1318.7 331.2 L1318.9 334.2 L1319.1 337.2 L1319.3 340.2 L1319.5 343.2 L1319.7 346.2 L1319.9 349.2 L1320.1 352.2 L1320.3 355.2 L1320.5 358.2 L1320.7 361.2 L1320.8 364.2 L1321.1 367.1 L1321.3 370.1 L1321.5 373.1 L1321.7 376.1 L1321.9 379.1 L1322.1 382.1 L1322.3 385.1 L1322.5 388.1 L1322.7 391.1 L1322.9 394.0 L1323.1 397.0 L1323.3 400.0 L1323.5 403.0 L1323.7 406.0 L1324.0 409.0 L1324.2 412.0 L1324.4 415.0 L1324.6 417.9 L1324.8 420.9 L1325.0 423.9 L1325.3 426.9 L1325.5 429.9 L1325.7 432.9 L1326.0 435.9 L1326.2 438.9 L1326.4 441.8 L1326.6 444.8 L1326.9 447.8 L1327.1 450.8 L1327.4 453.8 L1327.6 456.8 L1327.8 459.8 L1328.1 462.7 L1328.3 465.7 L1328.6 468.7 L1328.8 471.7 L1329.1 474.7 L1329.3 477.7 L1329.6 480.7 L1329.9 483.6 L1330.1 486.6 L1330.4 489.6 L1330.6 492.6 L1330.9 495.6 L1331.2 498.6 L1331.5 501.6 L1331.7 504.5 L1332.0 507.5 L1332.3 510.5 L1332.6 513.5 L1332.9 516.5 L1333.1 519.5 L1333.4 522.5 L1333.7 525.4 L1334.0 528.4 L1334.3 531.4 L1334.6 534.4 L1334.9 537.4 L1335.2 540.4 L1335.6 543.4 L1335.9 546.3 L1336.2 549.3 L1336.5 552.3 L1336.8 555.3 L1337.2 558.3 L1337.5 561.3 L1337.8 564.3 L1338.2 567.2 L1338.5 570.2 L1338.8 573.2 L1339.2 576.2 L1339.5 579.2 L1339.9 582.2 L1340.2 585.2 L1340.6 588.1 L1341.0 591.1 L1341.3 594.1 L1341.7 597.1 L1342.1 600.1 L1342.5 603.1 L1342.8 606.1 L1343.2 609.0 L1343.6 612.0 L1344.0 615.0 L1344.4 618.0 L1344.8 621.0 L1345.2 624.0 L1345.6 627.0 L1346.0 630.0 L1346.4 633.0 L1346.9 635.9 L1347.3 638.9 L1347.7 641.9 L1348.1 644.9 L1348.6 647.9 L1349.0 650.9 L1349.5 653.9 L1349.9 656.9 L1350.4 659.9 L1350.8 662.8 L1351.3 665.8 L1351.8 668.8 L1352.2 671.8 L1352.7 674.8 L1353.2 677.8 L1353.7 680.8 L1354.2 683.8 L1354.7 686.8 L1355.2 689.8 L1355.7 692.8 L1356.2 695.8 L1356.7 698.8 L1357.2 701.7 L1357.8 704.7 L1358.3 707.7 L1358.8 710.7 L1359.4 713.7 L1359.9 716.7 L1360.5 719.7 L1361.0 722.7 L1361.6 725.7 L1362.1 728.7 L1362.7 731.7 L1363.3 734.7 L1363.9 737.7 L1364.5 740.7 L1365.0 743.7 L1365.6 746.7 L1366.3 749.7 L1366.9 752.7 L1367.5 755.7 L1368.1 758.7 L1368.7 761.7 L1369.4 764.6 L1370.1 767.6 L1370.8 770.6 L1371.5 773.5 L1372.3 776.4 L1373.1 779.3 L1373.9 782.2 L1374.8 785.1 L1375.7 787.9 L1376.7 790.7 L1377.7 793.5 L1378.7 796.2 L1379.9 798.9 L1381.0 801.6 L1382.3 804.2 L1383.6 806.8 L1385.0 809.4 L1386.4 811.9 L1388.0 814.3 L1389.6 816.7 L1391.2 819.0 L1393.0 821.3 L1394.9 823.5 L1396.8 825.7 L1398.9 827.6 L1401.1 829.3 L1403.3 830.6 L1405.7 831.5 L1408.2 831.9 L1410.9 831.8 L1413.6 831.3 L1416.4 830.5 L1419.3 829.5 L1422.2 828.3 L1425.2 827.0 L1428.1 825.8 L1431.1 824.5 L1434.1 823.3 L1437.1 822.0 L1440.0 820.9 L1443.0 819.7 L1446.0 818.7 L1448.9 817.7 L1451.9 816.8 L1454.8 816.0 L1457.7 815.2 L1460.6 814.7 L1463.4 814.2 L1466.2 813.9 L1469.0 813.7 L1471.8 813.6 L1474.4 813.8 L1477.1 814.1 L1479.7 814.6 L1482.2 815.4 L1484.7 816.3 L1487.1 817.4 L1489.5 818.8 L1491.8 820.3 L1494.0 822.1 L1496.2 824.0 L1498.4 826.0 L1500.5 828.2 L1502.6 830.5 L1504.6 832.9 L1506.6 835.5 L1508.5 838.1 L1510.5 840.8 L1512.3 843.5 L1514.2 846.3 L1516.0 849.1 L1517.8 852.0 L1519.6 854.9 L1521.4 857.7 L1523.1 860.6 L1524.8 863.4 L1526.6 866.1 L1528.3 868.8 L1530.0 871.5 L1531.7 874.0 L1533.4 876.5 L1535.2 878.9 L1537.1 881.2 L1539.0 883.4 L1541.1 885.5 L1543.3 887.4 L1545.7 889.3 L1548.3 891.0 L1550.9 892.5 L1553.7 893.8 L1556.4 894.9 L1559.1 895.6 L1561.7 895.9 L1564.1 895.9 L1566.3 895.4 L1568.4 894.6 L1570.3 893.4 L1572.1 892.0 L1573.8 890.2 L1575.3 888.2 L1576.8 886.0 L1578.1 883.5 L1579.3 880.9 L1580.5 878.2 L1581.6 875.4 L1582.7 872.4 L1583.7 869.4 L1584.7 866.4 L1585.7 863.4 L1586.7 860.4 L1587.6 857.3 L1588.5 854.3 L1589.5 851.3 L1590.3 848.3 L1591.2 845.3 L1592.1 842.3 L1592.9 839.3 L1593.7 836.3 L1594.6 833.3 L1595.3 830.3 L1596.1 827.3 L1596.9 824.3 L1597.6 821.3 L1598.4 818.3 L1599.1 815.3 L1599.8 812.3 L1600.5 809.3 L1601.2 806.3 L1601.8 803.3 L1602.5 800.3 L1603.1 797.3 L1603.7 794.3 L1604.3 791.4 L1604.9 788.4 L1605.5 785.4 L1606.1 782.4 L1606.6 779.4 L1607.2 776.4 L1607.7 773.5 L1608.3 770.5 L1608.8 767.5 L1609.3 764.5 L1609.8 761.5 L1610.3 758.6 L1610.7 755.6 L1611.2 752.6 L1611.7 749.6 L1612.1 746.7 L1612.5 743.7 L1613.0 740.7 L1613.4 737.8 L1613.8 734.8 L1614.2 731.8 L1614.6 728.8 L1615.0 725.9 L1615.4 722.9 L1615.7 719.9 L1616.1 717.0 L1616.4 714.0 L1616.8 711.0 L1617.1 708.1 L1617.5 705.1 L1617.8 702.1 L1618.1 699.1 L1618.5 696.2 L1618.8 693.2 L1619.1 690.2 L1619.4 687.3 L1619.7 684.3 L1620.0 681.3 L1620.3 678.4 L1620.6 675.4 L1620.9 672.4 L1621.1 669.5 L1621.4 666.5 L1621.7 663.5 L1622.0 660.5 L1622.2 657.6 L1622.5 654.6 L1622.8 651.6 L1623.0 648.6 L1623.3 645.7 L1623.6 642.7 L1623.8 639.7 L1624.1 636.7 L1624.4 633.8 L1624.6 630.8 L1624.9 627.8 L1625.1 624.8 L1625.4 621.9 L1625.6 618.9 L1625.9 615.9 L1626.1 612.9 L1626.4 609.9 L1626.6 606.9 L1626.9 604.0 L1627.1 601.0 L1627.4 598.0 L1627.6 595.0 L1627.9 592.0 L1628.1 589.0 L1628.4 586.0 L1628.6 583.1 L1628.8 580.1 L1629.1 577.1 L1629.3 574.1 L1629.6 571.1 L1629.8 568.1 L1630.1 565.1 L1630.3 562.1 L1630.5 559.1 L1630.8 556.1 L1631.0 553.2 L1631.2 550.2 L1631.5 547.2 L1631.7 544.2 L1631.9 541.2 L1632.2 538.2 L1632.4 535.2 L1632.6 532.2 L1632.9 529.2 L1633.1 526.2 L1633.3 523.2 L1633.5 520.2 L1633.8 517.2 L1634.0 514.2 L1634.2 511.2 L1634.4 508.2 L1634.7 505.2 L1634.9 502.2 L1635.1 499.2 L1635.3 496.2 L1635.5 493.2 L1635.8 490.2 L1636.0 487.2 L1636.2 484.2 L1636.4 481.2 L1636.6 478.2 L1636.9 475.2 L1637.1 472.2 L1637.3 469.2 L1637.5 466.2 L1637.7 463.2 L1637.9 460.2 L1638.1 457.2 L1638.4 454.2 L1638.6 451.2 L1638.8 448.2 L1639.0 445.2 L1639.2 442.2 L1639.4 439.2 L1639.6 436.1 L1639.8 433.1 L1640.0 430.1 L1640.3 427.1 L1640.5 424.1 L1640.7 421.1 L1640.9 418.1 L1641.1 415.1 L1641.3 412.1 L1641.5 409.1 L1641.7 406.1 L1641.9 403.1 L1642.1 400.1 L1642.3 397.1 L1642.5 394.1 L1642.7 391.1 L1642.9 388.0 L1643.1 385.0 L1643.3 382.0 L1643.5 379.0 L1643.7 376.0 L1643.9 373.0 L1644.1 370.0 L1644.3 367.0 L1644.5 364.0 L1644.7 361.0 L1644.9 358.0 L1645.1 355.0 L1645.3 352.0 L1645.5 349.0 L1645.7 345.9 L1645.9 342.9 L1646.1 339.9 L1646.3 336.9 L1646.5 333.9 L1646.7 330.9 L1646.9 327.9 L1647.0 324.9 L1647.2 321.9 L1647.4 318.9 L1647.6 315.9 L1647.8 312.9 L1648.0 309.9 L1648.2 306.9 L1648.4 303.9 L1648.6 300.9 L1648.8 297.9 L1649.0 294.9 L1649.2 291.8 L1649.3 288.8 L1649.5 285.8 L1649.7 282.8 L1649.9 279.8 L1650.1 276.8 L1650.3 273.8 L1650.5 270.8 L1650.7 267.8 L1650.9 264.8 L1651.0 261.8 L1651.2 258.8 L1651.4 255.8 L1651.6 252.8 L1651.8 249.8 L1652.0 246.8 L1652.2 243.8 L1652.3 240.8 L1652.5 237.8 L1652.7 234.8 L1652.9 231.8 L1653.1 228.8 L1653.3 225.8 L1653.5 222.8 L1653.7 219.8 L1653.8 216.8 L1654.0 213.8 L1654.2 210.8 L1654.4 207.8 L1654.6 204.8 L1654.8 201.9 L1654.9 198.9 L1655.1 195.9 L1655.3 192.9 L1655.5 189.9 L1655.7 186.9 L1655.9 183.9 L1656.1 180.9 L1656.2 177.9 L1656.4 174.9 L1656.6 171.9 L1656.8 168.9 L1657.0 166.0 L1657.2 163.0 L1657.3 160.0 L1657.5 157.0 L1657.7 154.0 L1657.9 151.0 L1658.1 148.0 L1658.3 145.1 L1658.5 142.1 L1658.6 139.1 L1658.8 136.1 L1659.0 133.1 L1659.2 130.1 L1659.4 127.2 L1659.6 124.2" stroke="#ff0000"/>
<path d="M1328.7 123.7 L1328.9 126.7 L1329.1 129.8 L1329.3 132.8 L1329.5 135.9 L1329.7 138.9 L1329.9 141.9 L1330.1 145.0 L1330.2 148.0 L1330.4 151.1 L1330.6 154.1 L1330.8 157.1 L1331.0 160.2 L1331.2 163.2 L1331.4 166.2 L1331.6 169.2 L1331.8 172.3 L1331.9 175.3 L1332.1 178.3 L1332.3 181.3 L1332.5 184.4 L1332.7 187.4 L1332.9 190.4 L1333.0 193.4 L1333.2 196.5 L1333.4 199.5 L1333.6 202.5 L1333.8 205.5 L1333.9 208.5 L1334.1 211.5 L1334.3 214.6 L1334.5 217.6 L1334.6 220.6 L1334.8 223.6 L1335.0 226.6 L1335.2 229.6 L1335.3 232.6 L1335.5 235.6 L1335.7 238.6 L1335.9 241.6 L1336.0 244.7 L1336.2 247.7 L1336.4 250.7 L1336.6 253.7 L1336.7 256.7 L1336.9 259.7 L1337.1 262.7 L1337.3 265.7 L1337.4 268.7 L1337.6 271.7 L1337.8 274.7 L1338.0 277.7 L1338.1 280.7 L1338.3 283.7 L1338.5 286.7 L1338.7 289.7 L1338.8 292.7 L1339.0 295.7 L1339.2 298.6 L1339.4 301.6 L1339.5 304.6 L1339.7 307.6 L1339.9 310.6 L1340.1 313.6 L1340.2 316.6 L1340.4 319.6 L1340.6 322.6 L1340.8 325.6 L1340.9 328.6 L1341.1 331.6 L1341.3 334.5 L1341.5 337.5 L1341.6 340.5 L1341.8 343.5 L1342.0 346.5 L1342.2 349.5 L1342.4 352.5 L1342.5 355.5 L1342.7 358.4 L1342.9 361.4 L1343.1 364.4 L1343.3 367.4 L1343.5 370.4 L1343.6 373.4 L1343.8 376.3 L1344.0 379.3 L1344.2 382.3 L1344.4 385.3 L1344.6 388.3 L1344.8 391.3 L1345.0 394.2 L1345.1 397.2 L1345.3 400.2 L1345.5 403.2 L1345.7 406.2 L1345.9 409.2 L1346.1 412.1 L1346.3 415.1 L1346.5 418.1 L1346.7 421.1 L1346.9 424.1 L1347.1 427.1 L1347.3 430.0 L1347.5 433.0 L1347.7 436.0 L1347.9 439.0 L1348.1 442.0 L1348.3 444.9 L1348.5 447.9 L1348.7 450.9 L1348.9 453.9 L1349.2 456.9 L1349.4 459.9 L1349.6 462.8 L1349.8 465.8 L1350.0 468.8 L1350.2 471.8 L1350.5 474.8 L1350.7 477.8 L1350.9 480.7 L1351.1 483.7 L1351.3 486.7 L1351.6 489.7 L1351.8 492.7 L1352.0 495.7 L1352.3 498.6 L1352.5 501.6 L1352.7 504.6 L1353.0 507.6 L1353.2 510.6 L1353.4 513.6 L1353.7 516.6 L1353.9 519.5 L1354.2 522.5 L1354.4 525.5 L1354.6 528.5 L1354.9 531.5 L1355.1 534.5 L1355.4 537.5 L1355.7 540.5 L1355.9 543.5 L1356.2 546.4 L1356.4 549.4 L1356.7 552.4 L1356.9 555.4 L1357.2 558.4 L1357.5 561.4 L1357.7 564.4 L1358.0 567.4 L1358.3 570.4 L1358.6 573.4 L1358.8 576.4 L1359.1 579.4 L1359.4 582.4 L1359.7 585.4 L1360.0 588.4 L1360.3 591.4 L1360.5 594.4 L1360.8 597.4 L1361.1 600.4 L1361.4 603.4 L1361.7 606.4 L1362.0 609.4 L1362.3 612.4 L1362.6 615.4 L1362.9 618.4 L1363.3 621.4 L1363.6 624.4 L1363.9 627.4 L1364.2 630.4 L1364.5 633.4 L1364.8 636.4 L1365.2 639.4 L1365.5 642.4 L1365.8 645.4 L1366.2 648.4 L1366.5 651.5 L1366.8 654.5 L1367.2 657.5 L1367.5 660.5 L1367.8 663.5 L1368.2 666.5 L1368.5 669.6 L1368.9 672.6 L1369.3 675.6 L1369.6 678.6 L1370.0 681.6 L1370.3 684.7 L1370.7 687.7 L1371.1 690.7 L1371.4 693.7 L1371.8 696.8 L1372.2 699.8 L1372.6 702.8 L1373.0 705.8 L1373.4 708.9 L1373.7 711.9 L1374.1 714.9 L1374.5 718.0 L1374.9 721.0 L1375.3 724.0 L1375.7 727.1 L1376.1 730.1 L1376.6 733.2 L1377.0 736.2 L1377.4 739.2 L1377.8 742.3 L1378.2 745.3 L1378.7 748.4 L1379.1 751.4 L1379.5 754.5 L1380.0 757.5 L1380.4 760.6 L1380.8 763.6 L1381.3 766.7 L1381.7 769.7 L1382.2 772.8 L1382.7 775.8 L1383.1 778.9 L1383.7 781.9 L1384.2 784.8 L1384.9 787.8 L1385.5 790.7 L1386.3 793.5 L1387.1 796.3 L1388.0 799.0 L1388.9 801.6 L1390.0 804.2 L1391.2 806.6 L1392.5 809.0 L1393.9 811.2 L1395.5 813.4 L1397.2 815.4 L1399.0 817.3 L1401.0 819.0 L1403.2 820.6 L1405.4 821.8 L1407.6 822.7 L1409.9 823.2 L1412.2 823.1 L1414.3 822.4 L1416.4 821.2 L1418.4 819.4 L1420.3 817.2 L1422.2 814.6 L1423.9 811.7 L1425.5 808.5 L1427.1 805.3 L1428.6 801.9 L1430.0 798.6 L1431.2 795.3 L1432.4 792.0 L1433.6 788.9 L1434.6 785.8 L1435.7 782.7 L1436.6 779.7 L1437.6 776.8 L1438.5 773.9 L1439.5 771.0 L1440.4 768.2 L1441.3 765.4 L1442.3 762.7 L1443.3 760.0 L1444.3 757.3 L1445.4 754.6 L1446.6 751.9 L1447.9 749.3 L1449.2 746.6 L1450.6 744.0 L1452.2 741.4 L1453.8 738.7 L1455.6 736.1 L1457.5 733.5 L1459.5 730.9 L1461.7 728.4 L1463.9 726.0 L1466.1 723.8 L1468.5 721.8 L1470.9 719.9 L1473.3 718.4 L1475.7 717.1 L1478.2 716.1 L1480.7 715.5 L1483.1 715.2 L1485.5 715.4 L1487.9 716.0 L1490.3 716.9 L1492.6 718.2 L1494.9 719.7 L1497.1 721.6 L1499.2 723.7 L1501.3 726.0 L1503.3 728.6 L1505.2 731.3 L1507.1 734.1 L1508.8 737.0 L1510.5 740.0 L1512.1 743.1 L1513.7 746.2 L1515.2 749.3 L1516.7 752.4 L1518.2 755.5 L1519.7 758.5 L1521.3 761.4 L1522.9 764.2 L1524.6 766.8 L1526.4 769.3 L1528.3 771.6 L1530.3 773.7 L1532.4 775.5 L1534.6 777.1 L1536.9 778.3 L1539.2 779.1 L1541.5 779.5 L1543.7 779.4 L1545.8 778.7 L1547.8 777.6 L1549.6 776.1 L1551.4 774.2 L1553.1 772.1 L1554.7 769.6 L1556.2 767.0 L1557.6 764.3 L1558.9 761.4 L1560.2 758.5 L1561.4 755.6 L1562.5 752.8 L1563.6 749.8 L1564.5 746.9 L1565.5 744.0 L1566.3 741.1 L1567.1 738.1 L1567.9 735.2 L1568.6 732.2 L1569.3 729.3 L1569.9 726.3 L1570.5 723.4 L1571.0 720.4 L1571.5 717.4 L1572.0 714.4 L1572.5 711.5 L1572.9 708.5 L1573.3 705.5 L1573.8 702.5 L1574.1 699.5 L1574.5 696.5 L1574.9 693.5 L1575.3 690.5 L1575.6 687.5 L1576.0 684.6 L1576.4 681.6 L1576.7 678.6 L1577.1 675.6 L1577.4 672.6 L1577.8 669.6 L1578.1 666.6 L1578.5 663.6 L1578.8 660.6 L1579.2 657.6 L1579.5 654.6 L1579.9 651.6 L1580.2 648.7 L1580.5 645.7 L1580.9 642.7 L1581.2 639.7 L1581.5 636.7 L1581.9 633.7 L1582.2 630.7 L1582.5 627.7 L1582.8 624.7 L1583.2 621.7 L1583.5 618.7 L1583.8 615.7 L1584.1 612.8 L1584.4 609.8 L1584.7 606.8 L1585.0 603.8 L1585.3 600.8 L1585.6 597.8 L1585.9 594.8 L1586.2 591.8 L1586.5 588.8 L1586.8 585.8 L1587.1 582.8 L1587.4 579.8 L1587.7 576.8 L1588.0 573.8 L1588.3 570.9 L1588.6 567.9 L1588.9 564.9 L1589.1 561.9 L1589.4 558.9 L1589.7 555.9 L1590.0 552.9 L1590.3 549.9 L1590.5 546.9 L1590.8 543.9 L1591.1 540.9 L1591.3 537.9 L1591.6 534.9 L1591.9 531.9 L1592.1 528.9 L1592.4 526.0 L1592.6 523.0 L1592.9 520.0 L1593.2 517.0 L1593.4 514.0 L1593.7 511.0 L1593.9 508.0 L1594.2 505.0 L1594.4 502.0 L1594.7 499.0 L1594.9 496.0 L1595.2 493.0 L1595.4 490.0 L1595.7 487.0 L1595.9 484.0 L1596.1 481.0 L1596.4 478.0 L1596.6 475.1 L1596.8 472.1 L1597.1 469.1 L1597.3 466.1 L1597.5 463.1 L1597.8 460.1 L1598.0 457.1 L1598.2 454.1 L1598.5 451.1 L1598.7 448.1 L1598.9 445.1 L1599.1 442.1 L1599.4 439.1 L1599.6 436.1 L1599.8 433.1 L1600.0 430.1 L1600.2 427.1 L1600.5 424.1 L1600.7 421.1 L1600.9 418.1 L1601.1 415.1 L1601.3 412.1 L1601.5 409.1 L1601.7 406.1 L1601.9 403.1 L1602.1 400.2 L1602.4 397.2 L1602.6 394.2 L1602.8 391.2 L1603.0 388.2 L1603.2 385.2 L1603.4 382.2 L1603.6 379.2 L1603.8 376.2 L1604.0 373.2 L1604.2 370.2 L1604.4 367.2 L1604.6 364.2 L1604.8 361.2 L1605.0 358.2 L1605.2 355.2 L1605.4 352.2 L1605.6 349.2 L1605.8 346.2 L1606.0 343.2 L1606.1 340.2 L1606.3 337.2 L1606.5 334.2 L1606.7 331.2 L1606.9 328.2 L1607.1 325.2 L1607.3 322.2 L1607.5 319.2 L1607.7 316.2 L1607.9 313.2 L1608.0 310.2 L1608.2 307.2 L1608.4 304.2 L1608.6 301.2 L1608.8 298.2 L1609.0 295.2 L1609.2 292.2 L1609.3 289.2 L1609.5 286.2 L1609.7 283.2 L1609.9 280.2 L1610.1 277.2 L1610.3 274.2 L1610.4 271.2 L1610.6 268.2 L1610.8 265.2 L1611.0 262.2 L1611.2 259.2 L1611.3 256.2 L1611.5 253.2 L1611.7 250.2 L1611.9 247.2 L1612.1 244.2 L1612.2 241.2 L1612.4 238.2 L1612.6 235.2 L1612.8 232.2 L1613.0 229.2 L1613.1 226.2 L1613.3 223.2 L1613.5 220.2 L1613.7 217.2 L1613.9 214.2 L1614.0 211.2 L1614.2 208.2 L1614.4 205.1 L1614.6 202.1 L1614.8 199.1 L1614.9 196.1 L1615.1 193.1 L1615.3 190.1 L1615.5 187.1 L1615.6 184.1 L1615.8 181.1 L1616.0 178.1 L1616.2 175.1 L1616.4 172.1 L1616.5 169.1 L1616.7 166.1 L1616.9 163.1 L1617.1 160.1 L1617.3 157.1 L1617.5 154.1 L1617.6 151.1 L1617.8 148.1 L1618.0 145.1 L1618.2 142.0 L1618.4 139.0 L1618.5 136.0 L1618.7 133.0 L1618.9 130.0 L1619.1 127.0 L1619.3 124.0" stroke="#0a84ff"/>
</g>
<g clip-path="url(#cBR)" fill="none" stroke-width="4.5" stroke-linejoin="round" stroke-linecap="round">
<path d="M1068.5 867.8 L1069.8 887.0 L1071.2 905.7 L1072.6 924.0 L1074.0 941.8 L1075.4 959.2 L1076.8 976.3 L1078.2 992.9 L1079.5 1009.1 L1080.9 1025.0 L1082.3 1040.6 L1083.7 1055.8 L1085.1 1070.7 L1086.5 1085.2 L1087.8 1099.5 L1089.2 1113.4 L1090.6 1127.1 L1092.0 1140.5 L1093.4 1153.6 L1094.8 1166.4 L1096.2 1179.0 L1097.5 1191.4 L1098.9 1203.5 L1100.3 1215.4 L1101.7 1227.0 L1103.1 1238.5 L1104.5 1249.7 L1105.9 1260.7 L1107.2 1271.5 L1108.6 1282.1 L1110.0 1292.5 L1111.4 1302.8 L1112.8 1312.8 L1114.2 1322.7 L1115.6 1332.4 L1116.9 1341.9 L1118.3 1351.3 L1119.7 1360.5 L1121.1 1369.5 L1122.5 1378.4 L1123.9 1387.2 L1125.3 1395.7 L1126.6 1404.2 L1128.0 1412.5 L1129.4 1420.6 L1130.8 1428.6 L1132.2 1436.5 L1133.6 1444.2 L1135.0 1451.8 L1136.3 1459.3 L1137.7 1466.6 L1139.1 1473.8 L1140.5 1480.9 L1141.9 1487.9 L1143.3 1494.7 L1144.6 1501.4 L1146.0 1508.0 L1147.4 1514.4 L1148.8 1520.8 L1150.2 1527.0 L1151.6 1533.1 L1153.0 1539.1 L1154.3 1545.0 L1155.7 1550.8 L1157.1 1556.4 L1158.5 1562.0 L1159.9 1567.4 L1161.3 1572.7 L1162.7 1577.9 L1164.0 1583.0 L1165.4 1588.0 L1166.8 1592.8 L1168.2 1597.6 L1169.6 1602.3 L1171.0 1606.8 L1172.4 1611.3 L1173.7 1615.6 L1175.1 1619.8 L1176.5 1623.9 L1177.9 1628.0 L1179.3 1631.9 L1180.7 1635.7 L1182.1 1639.4 L1183.4 1643.0 L1184.8 1646.5 L1186.2 1649.9 L1187.6 1653.2 L1189.0 1656.4 L1190.4 1659.5 L1191.8 1662.4 L1193.1 1665.3 L1194.5 1668.1 L1195.9 1670.8 L1197.3 1673.4 L1198.7 1675.9 L1200.1 1678.3 L1201.4 1680.6 L1202.8 1682.8 L1204.2 1684.9 L1205.6 1686.9 L1207.0 1688.8 L1208.4 1690.6 L1209.8 1692.4 L1211.1 1694.0 L1212.5 1695.5 L1213.9 1697.0 L1215.3 1698.3 L1216.7 1699.6 L1218.1 1700.8 L1219.5 1701.8 L1220.8 1702.8 L1222.2 1703.7 L1223.6 1704.6 L1225.0 1705.3 L1226.4 1705.9 L1227.8 1706.5 L1229.2 1707.0 L1230.5 1707.4 L1231.9 1707.7 L1233.3 1707.9 L1234.7 1708.0 L1236.1 1708.1 L1237.5 1708.1 L1238.9 1708.0 L1240.2 1707.8 L1241.6 1707.6 L1243.0 1707.3 L1244.4 1706.9 L1245.8 1706.4 L1247.2 1705.9 L1248.6 1705.3 L1249.9 1704.6 L1251.3 1703.8 L1252.7 1703.0 L1254.1 1702.1 L1255.5 1701.2 L1256.9 1700.1 L1258.2 1699.1 L1259.6 1697.9 L1261.0 1696.7 L1262.4 1695.4 L1263.8 1694.1 L1265.2 1692.7 L1266.6 1691.2 L1267.9 1689.7 L1269.3 1688.2 L1270.7 1686.6 L1272.1 1684.9 L1273.5 1683.2 L1274.9 1681.4 L1276.3 1679.6 L1277.6 1677.7 L1279.0 1675.8 L1280.4 1673.8 L1281.8 1671.8 L1283.2 1669.7 L1284.6 1667.6 L1286.0 1665.5 L1287.3 1663.3 L1288.7 1661.1 L1290.1 1658.8 L1291.5 1656.5 L1292.9 1654.2 L1294.3 1651.8 L1295.7 1649.4 L1297.0 1646.9 L1298.4 1644.5 L1299.8 1642.0 L1301.2 1639.4 L1302.6 1636.9 L1304.0 1634.3 L1305.4 1631.7 L1306.7 1629.0 L1308.1 1626.4 L1309.5 1623.7 L1310.9 1621.0 L1312.3 1618.2 L1313.7 1615.5 L1315.0 1612.7 L1316.4 1609.9 L1317.8 1607.1 L1319.2 1604.3 L1320.6 1601.5 L1322.0 1598.6 L1323.4 1595.8 L1324.7 1592.9 L1326.1 1590.0 L1327.5 1587.1 L1328.9 1584.2 L1330.3 1581.3 L1331.7 1578.4 L1333.1 1575.5 L1334.4 1572.6 L1335.8 1569.7 L1337.2 1566.8 L1338.6 1563.8 L1340.0 1560.9 L1341.4 1558.0 L1342.8 1555.1 L1344.1 1552.1 L1345.5 1549.2 L1346.9 1546.3 L1348.3 1543.4 L1349.7 1540.5 L1351.1 1537.6 L1352.5 1534.7 L1353.8 1531.8 L1355.2 1528.9 L1356.6 1526.1 L1358.0 1523.2 L1359.4 1520.4 L1360.8 1517.6 L1362.2 1514.7 L1363.5 1511.9 L1364.9 1509.2 L1366.3 1506.4 L1367.7 1503.6 L1369.1 1500.9 L1370.5 1498.2 L1371.8 1495.5 L1373.2 1492.8 L1374.6 1490.1 L1376.0 1487.4 L1377.4 1484.8 L1378.8 1482.2 L1380.2 1479.6 L1381.5 1477.1 L1382.9 1474.5 L1384.3 1472.0 L1385.7 1469.5 L1387.1 1467.0 L1388.5 1464.6 L1389.9 1462.2 L1391.2 1459.8 L1392.6 1457.4 L1394.0 1455.1 L1395.4 1452.8 L1396.8 1450.5 L1398.2 1448.2 L1399.6 1446.0 L1400.9 1443.8 L1402.3 1441.6 L1403.7 1439.5 L1405.1 1437.4 L1406.5 1435.3 L1407.9 1433.2 L1409.3 1431.2 L1410.6 1429.2 L1412.0 1427.3 L1413.4 1425.4 L1414.8 1423.5 L1416.2 1421.6 L1417.6 1419.8 L1419.0 1418.0 L1420.3 1416.3 L1421.7 1414.6 L1423.1 1412.9 L1424.5 1411.2 L1425.9 1409.6 L1427.3 1408.0 L1428.6 1406.5 L1430.0 1405.0 L1431.4 1403.5 L1432.8 1402.1 L1434.2 1400.7 L1435.6 1399.4 L1437.0 1398.0 L1438.3 1396.8 L1439.7 1395.5 L1441.1 1394.3 L1442.5 1393.1 L1443.9 1392.0 L1445.3 1390.9 L1446.7 1389.9 L1448.0 1388.8 L1449.4 1387.9 L1450.8 1386.9 L1452.2 1386.0 L1453.6 1385.2 L1455.0 1384.4 L1456.4 1383.6 L1457.7 1382.8 L1459.1 1382.1 L1460.5 1381.5 L1461.9 1380.8 L1463.3 1380.3 L1464.7 1379.7 L1466.1 1379.2 L1467.4 1378.7 L1468.8 1378.3 L1470.2 1377.9 L1471.6 1377.6 L1473.0 1377.3 L1474.4 1377.0 L1475.8 1376.8 L1477.1 1376.6 L1478.5 1376.5 L1479.9 1376.4 L1481.3 1376.3 L1482.7 1376.3 L1484.1 1376.3 L1485.5 1376.3 L1486.8 1376.4 L1488.2 1376.6 L1489.6 1376.8 L1491.0 1377.0 L1492.4 1377.2 L1493.8 1377.5 L1495.1 1377.8 L1496.5 1378.2 L1497.9 1378.6 L1499.3 1379.1 L1500.7 1379.6 L1502.1 1380.1 L1503.5 1380.7 L1504.8 1381.3 L1506.2 1381.9 L1507.6 1382.6 L1509.0 1383.3 L1510.4 1384.1 L1511.8 1384.9 L1513.2 1385.7 L1514.5 1386.6 L1515.9 1387.5 L1517.3 1388.5 L1518.7 1389.5 L1520.1 1390.5 L1521.5 1391.5 L1522.9 1392.6 L1524.2 1393.8 L1525.6 1395.0 L1527.0 1396.2 L1528.4 1397.4 L1529.8 1398.7 L1531.2 1400.0 L1532.6 1401.4 L1533.9 1402.7 L1535.3 1404.2 L1536.7 1405.6 L1538.1 1407.1 L1539.5 1408.6 L1540.9 1410.2 L1542.3 1411.8 L1543.6 1413.4 L1545.0 1415.0 L1546.4 1416.7 L1547.8 1418.4 L1549.2 1420.2 L1550.6 1422.0 L1551.9 1423.8 L1553.3 1425.6 L1554.7 1427.5 L1556.1 1429.4 L1557.5 1431.3 L1558.9 1433.3 L1560.3 1435.3 L1561.6 1437.3 L1563.0 1439.3 L1564.4 1441.4 L1565.8 1443.5 L1567.2 1445.6 L1568.6 1447.8 L1570.0 1449.9 L1571.3 1452.1 L1572.7 1454.3 L1574.1 1456.6 L1575.5 1458.8 L1576.9 1461.1 L1578.3 1463.4 L1579.7 1465.8 L1581.0 1468.1 L1582.4 1470.5 L1583.8 1472.9 L1585.2 1475.3 L1586.6 1477.7 L1588.0 1480.2 L1589.4 1482.6 L1590.7 1485.1 L1592.1 1487.6 L1593.5 1490.1 L1594.9 1492.6 L1596.3 1495.2 L1597.7 1497.7 L1599.1 1500.3 L1600.4 1502.9 L1601.8 1505.4 L1603.2 1508.0 L1604.6 1510.6 L1606.0 1513.2 L1607.4 1515.9 L1608.7 1518.5 L1610.1 1521.1 L1611.5 1523.7 L1612.9 1526.4 L1614.3 1529.0 L1615.7 1531.7 L1617.1 1534.3 L1618.4 1537.0 L1619.8 1539.6 L1621.2 1542.2 L1622.6 1544.9 L1624.0 1547.5 L1625.4 1550.2 L1626.8 1552.8 L1628.1 1555.4 L1629.5 1558.0 L1630.9 1560.6 L1632.3 1563.2 L1633.7 1565.8 L1635.1 1568.4 L1636.5 1571.0 L1637.8 1573.5 L1639.2 1576.1 L1640.6 1578.6 L1642.0 1581.1 L1643.4 1583.6 L1644.8 1586.1 L1646.2 1588.6 L1647.5 1591.0 L1648.9 1593.4 L1650.3 1595.8 L1651.7 1598.2 L1653.1 1600.5 L1654.5 1602.9 L1655.9 1605.2 L1657.2 1607.4 L1658.6 1609.7 L1660.0 1611.9 L1661.4 1614.0 L1662.8 1616.2 L1664.2 1618.3 L1665.5 1620.4 L1666.9 1622.4 L1668.3 1624.4 L1669.7 1626.4 L1671.1 1628.3 L1672.5 1630.2 L1673.9 1632.1 L1675.2 1633.9 L1676.6 1635.6 L1678.0 1637.3 L1679.4 1639.0 L1680.8 1640.6 L1682.2 1642.2 L1683.6 1643.7 L1684.9 1645.2 L1686.3 1646.6 L1687.7 1648.0 L1689.1 1649.3 L1690.5 1650.5 L1691.9 1651.7 L1693.3 1652.9 L1694.6 1654.0 L1696.0 1655.0 L1697.4 1656.0 L1698.8 1656.9 L1700.2 1657.7 L1701.6 1658.5 L1703.0 1659.2 L1704.3 1659.8 L1705.7 1660.4 L1707.1 1660.9 L1708.5 1661.3 L1709.9 1661.7 L1711.3 1662.0 L1712.7 1662.2 L1714.0 1662.3 L1715.4 1662.4 L1716.8 1662.4 L1718.2 1662.3 L1719.6 1662.1 L1721.0 1661.9 L1722.3 1661.6 L1723.7 1661.2 L1725.1 1660.7 L1726.5 1660.1 L1727.9 1659.4 L1729.3 1658.7 L1730.7 1657.8 L1732.0 1656.9 L1733.4 1655.9 L1734.8 1654.8 L1736.2 1653.6 L1737.6 1652.4 L1739.0 1651.0 L1740.4 1649.5 L1741.7 1648.0 L1743.1 1646.3 L1744.5 1644.6 L1745.9 1642.7 L1747.3 1640.8 L1748.7 1638.7 L1750.1 1636.6 L1751.4 1634.3 L1752.8 1632.0 L1754.2 1629.6 L1755.6 1627.0 L1757.0 1624.4 L1758.4 1621.6 L1759.8 1618.7 L1761.1 1615.8 L1762.5 1612.7 L1763.9 1609.5 L1765.3 1606.2 L1766.7 1602.8 L1768.1 1599.3 L1769.5 1595.7 L1770.8 1592.0 L1772.2 1588.2 L1773.6 1584.2 L1775.0 1580.1 L1776.4 1576.0 L1777.8 1571.7 L1779.1 1567.2 L1780.5 1562.7 L1781.9 1558.1 L1783.3 1553.3 L1784.7 1548.4 L1786.1 1543.4 L1787.5 1538.3 L1788.8 1533.0 L1790.2 1527.7 L1791.6 1522.2 L1793.0 1516.5 L1794.4 1510.8 L1795.8 1504.9 L1797.2 1498.9 L1798.5 1492.8 L1799.9 1486.5 L1801.3 1480.1 L1802.7 1473.6 L1804.1 1466.9 L1805.5 1460.1 L1806.9 1453.1 L1808.2 1446.1 L1809.6 1438.8 L1811.0 1431.5 L1812.4 1424.0 L1813.8 1416.3 L1815.2 1408.5 L1816.6 1400.5 L1817.9 1392.4 L1819.3 1384.1 L1820.7 1375.7 L1822.1 1367.1 L1823.5 1358.4 L1824.9 1349.5 L1826.3 1340.4 L1827.6 1331.2 L1829.0 1321.7 L1830.4 1312.2 L1831.8 1302.4 L1833.2 1292.4 L1834.6 1282.3 L1835.9 1271.9 L1837.3 1261.4 L1838.7 1250.7 L1840.1 1239.8 L1841.5 1228.6 L1842.9 1217.3 L1844.3 1205.7 L1845.6 1193.9 L1847.0 1181.9 L1848.4 1169.7 L1849.8 1157.2 L1851.2 1144.5 L1852.6 1131.5 L1854.0 1118.3 L1855.3 1104.8 L1856.7 1091.0 L1858.1 1077.0 L1859.5 1062.6 L1860.9 1048.0 L1862.3 1033.1 L1863.7 1017.8 L1865.0 1002.3 L1866.4 986.4 L1867.8 970.2 L1869.2 953.6 L1870.6 936.7 L1872.0 919.4" stroke="#008000"/>
<path d="M1215.1 936.6 L1215.5 939.7 L1215.9 942.7 L1216.3 945.8 L1216.6 948.8 L1217.0 951.9 L1217.4 954.9 L1217.8 957.9 L1218.1 961.0 L1218.5 964.0 L1218.9 967.0 L1219.3 970.1 L1219.6 973.1 L1220.0 976.1 L1220.4 979.2 L1220.8 982.2 L1221.1 985.2 L1221.5 988.2 L1221.9 991.3 L1222.3 994.3 L1222.7 997.3 L1223.0 1000.3 L1223.4 1003.3 L1223.8 1006.4 L1224.2 1009.4 L1224.5 1012.4 L1224.9 1015.4 L1225.3 1018.4 L1225.7 1021.4 L1226.1 1024.4 L1226.4 1027.4 L1226.8 1030.4 L1227.2 1033.4 L1227.6 1036.4 L1228.0 1039.4 L1228.3 1042.4 L1228.7 1045.4 L1229.1 1048.4 L1229.5 1051.4 L1229.9 1054.4 L1230.3 1057.4 L1230.7 1060.4 L1231.1 1063.3 L1231.4 1066.3 L1231.8 1069.3 L1232.2 1072.3 L1232.6 1075.3 L1233.0 1078.3 L1233.4 1081.2 L1233.8 1084.2 L1234.2 1087.2 L1234.6 1090.2 L1235.0 1093.1 L1235.4 1096.1 L1235.8 1099.1 L1236.2 1102.1 L1236.6 1105.0 L1237.0 1108.0 L1237.4 1111.0 L1237.8 1113.9 L1238.2 1116.9 L1238.6 1119.9 L1239.0 1122.8 L1239.5 1125.8 L1239.9 1128.8 L1240.3 1131.7 L1240.7 1134.7 L1241.1 1137.7 L1241.5 1140.6 L1242.0 1143.6 L1242.4 1146.5 L1242.8 1149.5 L1243.2 1152.4 L1243.7 1155.4 L1244.1 1158.4 L1244.5 1161.3 L1245.0 1164.3 L1245.4 1167.2 L1245.8 1170.2 L1246.3 1173.1 L1246.7 1176.1 L1247.1 1179.0 L1247.6 1182.0 L1248.0 1184.9 L1248.5 1187.9 L1248.9 1190.8 L1249.4 1193.8 L1249.8 1196.7 L1250.3 1199.6 L1250.7 1202.6 L1251.2 1205.5 L1251.7 1208.5 L1252.1 1211.4 L1252.6 1214.4 L1253.0 1217.3 L1253.5 1220.2 L1254.0 1223.2 L1254.5 1226.1 L1254.9 1229.1 L1255.4 1232.0 L1255.9 1234.9 L1256.4 1237.9 L1256.9 1240.8 L1257.3 1243.8 L1257.8 1246.7 L1258.3 1249.6 L1258.8 1252.6 L1259.3 1255.5 L1259.8 1258.4 L1260.3 1261.4 L1260.8 1264.3 L1261.3 1267.3 L1261.8 1270.2 L1262.3 1273.1 L1262.9 1276.1 L1263.4 1279.0 L1263.9 1281.9 L1264.4 1284.9 L1264.9 1287.8 L1265.5 1290.7 L1266.0 1293.7 L1266.5 1296.6 L1267.1 1299.5 L1267.6 1302.5 L1268.1 1305.4 L1268.7 1308.3 L1269.2 1311.3 L1269.8 1314.2 L1270.3 1317.1 L1270.9 1320.1 L1271.5 1323.0 L1272.0 1325.9 L1272.6 1328.9 L1273.2 1331.8 L1273.7 1334.7 L1274.3 1337.7 L1274.9 1340.6 L1275.5 1343.5 L1276.0 1346.5 L1276.6 1349.4 L1277.2 1352.3 L1277.8 1355.3 L1278.4 1358.2 L1279.0 1361.1 L1279.6 1364.1 L1280.2 1367.0 L1280.8 1370.0 L1281.5 1372.9 L1282.1 1375.8 L1282.7 1378.8 L1283.3 1381.7 L1283.9 1384.6 L1284.6 1387.6 L1285.2 1390.5 L1285.8 1393.5 L1286.5 1396.4 L1287.1 1399.3 L1287.8 1402.3 L1288.4 1405.2 L1289.1 1408.2 L1289.8 1411.1 L1290.4 1414.0 L1291.1 1417.0 L1291.8 1419.9 L1292.4 1422.9 L1293.1 1425.8 L1293.8 1428.8 L1294.5 1431.7 L1295.2 1434.7 L1295.9 1437.6 L1296.6 1440.5 L1297.3 1443.5 L1298.0 1446.4 L1298.7 1449.4 L1299.4 1452.3 L1300.1 1455.3 L1300.9 1458.2 L1301.6 1461.2 L1302.3 1464.2 L1303.1 1467.1 L1303.8 1470.1 L1304.6 1473.0 L1305.3 1476.0 L1306.1 1478.9 L1306.8 1481.9 L1307.6 1484.8 L1308.3 1487.8 L1309.1 1490.8 L1309.9 1493.7 L1310.7 1496.7 L1311.5 1499.6 L1312.3 1502.6 L1313.0 1505.6 L1313.8 1508.5 L1314.7 1511.5 L1315.5 1514.5 L1316.3 1517.4 L1317.1 1520.4 L1317.9 1523.4 L1318.7 1526.4 L1319.6 1529.3 L1320.4 1532.3 L1321.3 1535.3 L1322.1 1538.2 L1323.0 1541.2 L1323.9 1544.2 L1324.7 1547.1 L1325.6 1550.1 L1326.5 1553.0 L1327.5 1556.0 L1328.4 1558.9 L1329.3 1561.8 L1330.3 1564.7 L1331.3 1567.6 L1332.2 1570.6 L1333.2 1573.4 L1334.3 1576.3 L1335.3 1579.2 L1336.3 1582.1 L1337.4 1584.9 L1338.5 1587.8 L1339.6 1590.6 L1340.7 1593.4 L1341.9 1596.2 L1343.0 1599.0 L1344.2 1601.8 L1345.4 1604.5 L1346.7 1607.3 L1347.9 1610.0 L1349.2 1612.7 L1350.5 1615.4 L1351.8 1618.0 L1353.2 1620.7 L1354.6 1623.3 L1356.0 1625.9 L1357.4 1628.5 L1358.9 1631.1 L1360.4 1633.6 L1361.9 1636.2 L1363.4 1638.7 L1365.0 1641.2 L1366.6 1643.6 L1368.3 1646.0 L1369.9 1648.4 L1371.7 1650.8 L1373.4 1653.2 L1375.2 1655.5 L1377.0 1657.8 L1378.8 1660.0 L1380.7 1662.3 L1382.7 1664.5 L1384.6 1666.7 L1386.6 1668.8 L1388.6 1670.9 L1390.7 1673.0 L1392.8 1675.1 L1395.0 1677.1 L1397.2 1679.1 L1399.4 1681.0 L1401.7 1682.9 L1404.0 1684.8 L1406.4 1686.7 L1408.8 1688.5 L1411.3 1690.2 L1413.8 1692.0 L1416.3 1693.7 L1418.9 1695.3 L1421.5 1696.9 L1424.1 1698.4 L1426.8 1699.8 L1429.6 1701.1 L1432.3 1702.4 L1435.1 1703.6 L1437.9 1704.7 L1440.7 1705.6 L1443.6 1706.5 L1446.4 1707.3 L1449.3 1707.9 L1452.2 1708.4 L1455.2 1708.8 L1458.1 1709.0 L1461.1 1709.1 L1464.0 1709.0 L1467.0 1708.8 L1469.9 1708.5 L1472.8 1708.1 L1475.8 1707.6 L1478.7 1706.9 L1481.5 1706.2 L1484.4 1705.4 L1487.2 1704.5 L1490.0 1703.5 L1492.7 1702.4 L1495.4 1701.3 L1498.0 1700.1 L1500.6 1698.9 L1503.2 1697.6 L1505.7 1696.2 L1508.2 1694.8 L1510.6 1693.2 L1513.0 1691.7 L1515.4 1690.1 L1517.7 1688.4 L1520.0 1686.6 L1522.3 1684.8 L1524.5 1683.0 L1526.7 1681.1 L1528.8 1679.1 L1530.9 1677.1 L1533.0 1675.1 L1535.1 1673.0 L1537.1 1670.8 L1539.0 1668.6 L1541.0 1666.4 L1542.9 1664.1 L1544.8 1661.8 L1546.6 1659.5 L1548.4 1657.1 L1550.2 1654.6 L1552.0 1652.2 L1553.7 1649.7 L1555.4 1647.2 L1557.1 1644.6 L1558.8 1642.0 L1560.4 1639.4 L1562.0 1636.7 L1563.5 1634.1 L1565.1 1631.4 L1566.6 1628.6 L1568.1 1625.9 L1569.6 1623.1 L1571.0 1620.3 L1572.4 1617.5 L1573.8 1614.7 L1575.2 1611.9 L1576.6 1609.0 L1577.9 1606.2 L1579.2 1603.3 L1580.5 1600.4 L1581.8 1597.5 L1583.1 1594.6 L1584.3 1591.7 L1585.5 1588.8 L1586.7 1585.9 L1587.9 1583.0 L1589.1 1580.0 L1590.2 1577.1 L1591.4 1574.2 L1592.5 1571.3 L1593.6 1568.4 L1594.7 1565.5 L1595.8 1562.6 L1596.8 1559.7 L1597.9 1556.7 L1598.9 1553.8 L1600.0 1550.9 L1601.0 1548.0 L1602.0 1545.2 L1602.9 1542.3 L1603.9 1539.4 L1604.9 1536.5 L1605.8 1533.6 L1606.7 1530.7 L1607.7 1527.8 L1608.6 1524.9 L1609.5 1522.0 L1610.3 1519.2 L1611.2 1516.3 L1612.1 1513.4 L1612.9 1510.5 L1613.8 1507.6 L1614.6 1504.8 L1615.4 1501.9 L1616.2 1499.0 L1617.0 1496.1 L1617.8 1493.3 L1618.6 1490.4 L1619.3 1487.5 L1620.1 1484.6 L1620.8 1481.8 L1621.6 1478.9 L1622.3 1476.0 L1623.0 1473.1 L1623.7 1470.3 L1624.4 1467.4 L1625.1 1464.5 L1625.8 1461.6 L1626.5 1458.8 L1627.1 1455.9 L1627.8 1453.0 L1628.4 1450.1 L1629.1 1447.3 L1629.7 1444.4 L1630.4 1441.5 L1631.0 1438.6 L1631.6 1435.7 L1632.2 1432.9 L1632.8 1430.0 L1633.4 1427.1 L1634.0 1424.2 L1634.6 1421.3 L1635.2 1418.4 L1635.7 1415.5 L1636.3 1412.6 L1636.9 1409.7 L1637.4 1406.8 L1638.0 1403.9 L1638.5 1401.0 L1639.1 1398.1 L1639.6 1395.2 L1640.2 1392.3 L1640.7 1389.4 L1641.2 1386.5 L1641.8 1383.6 L1642.3 1380.7 L1642.8 1377.8 L1643.3 1374.8 L1643.9 1371.9 L1644.4 1369.0 L1644.9 1366.1 L1645.4 1363.1 L1645.9 1360.2 L1646.4 1357.3 L1646.9 1354.3 L1647.4 1351.4 L1647.9 1348.4 L1648.4 1345.5 L1648.9 1342.5 L1649.3 1339.6 L1649.8 1336.6 L1650.3 1333.7 L1650.8 1330.7 L1651.3 1327.8 L1651.7 1324.8 L1652.2 1321.9 L1652.7 1318.9 L1653.1 1315.9 L1653.6 1313.0 L1654.1 1310.0 L1654.5 1307.0 L1655.0 1304.1 L1655.4 1301.1 L1655.9 1298.1 L1656.3 1295.1 L1656.8 1292.2 L1657.2 1289.2 L1657.7 1286.2 L1658.1 1283.2 L1658.5 1280.3 L1659.0 1277.3 L1659.4 1274.3 L1659.9 1271.3 L1660.3 1268.3 L1660.7 1265.3 L1661.2 1262.3 L1661.6 1259.3 L1662.0 1256.4 L1662.4 1253.4 L1662.9 1250.4 L1663.3 1247.4 L1663.7 1244.4 L1664.1 1241.4 L1664.5 1238.4 L1664.9 1235.4 L1665.4 1232.4 L1665.8 1229.4 L1666.2 1226.4 L1666.6 1223.4 L1667.0 1220.4 L1667.4 1217.4 L1667.8 1214.4 L1668.2 1211.4 L1668.6 1208.4 L1669.0 1205.4 L1669.5 1202.4 L1669.9 1199.4 L1670.3 1196.4 L1670.7 1193.4 L1671.1 1190.4 L1671.5 1187.3 L1671.9 1184.3 L1672.3 1181.3 L1672.7 1178.3 L1673.1 1175.3 L1673.5 1172.3 L1673.9 1169.3 L1674.2 1166.3 L1674.6 1163.3 L1675.0 1160.3 L1675.4 1157.3 L1675.8 1154.3 L1676.2 1151.3 L1676.6 1148.3 L1677.0 1145.3 L1677.4 1142.3 L1677.8 1139.2 L1678.2 1136.2 L1678.6 1133.2 L1679.0 1130.2 L1679.4 1127.2 L1679.8 1124.2 L1680.2 1121.2 L1680.6 1118.2 L1681.0 1115.2 L1681.4 1112.2 L1681.8 1109.2 L1682.2 1106.2 L1682.6 1103.2 L1682.9 1100.2 L1683.3 1097.2 L1683.7 1094.2 L1684.1 1091.2 L1684.5 1088.2 L1684.9 1085.2 L1685.3 1082.3 L1685.7 1079.3 L1686.1 1076.3 L1686.6 1073.3 L1687.0 1070.3 L1687.4 1067.3 L1687.8 1064.3 L1688.2 1061.3 L1688.6 1058.4 L1689.0 1055.4 L1689.4 1052.4 L1689.8 1049.4 L1690.2 1046.4 L1690.6 1043.5 L1691.0 1040.5 L1691.5 1037.5 L1691.9 1034.5 L1692.3 1031.6 L1692.7 1028.6 L1693.1 1025.6 L1693.6 1022.7 L1694.0 1019.7 L1694.4 1016.7 L1694.8 1013.8 L1695.3 1010.8 L1695.7 1007.9 L1696.1 1004.9 L1696.6 1001.9 L1697.0 999.0 L1697.4 996.0 L1697.9 993.1 L1698.3 990.2 L1698.7 987.2 L1699.2 984.3 L1699.6 981.3 L1700.1 978.4 L1700.5 975.5 L1701.0 972.5 L1701.4 969.6 L1701.9 966.7 L1702.4 963.7 L1702.8 960.8 L1703.3 957.9 L1703.7 955.0 L1704.2 952.1 L1704.7 949.2 L1705.2 946.2 L1705.6 943.3 L1706.1 940.4 L1706.6 937.5" stroke="#ff8800"/>
<path d="M1292.6 937.3 L1292.9 940.3 L1293.3 943.3 L1293.6 946.2 L1294.0 949.2 L1294.3 952.2 L1294.7 955.1 L1295.0 958.1 L1295.3 961.1 L1295.7 964.1 L1296.0 967.0 L1296.4 970.0 L1296.7 973.0 L1297.0 976.0 L1297.3 979.0 L1297.7 981.9 L1298.0 984.9 L1298.3 987.9 L1298.6 990.9 L1299.0 993.9 L1299.3 996.9 L1299.6 999.8 L1299.9 1002.8 L1300.2 1005.8 L1300.5 1008.8 L1300.8 1011.8 L1301.1 1014.8 L1301.5 1017.8 L1301.8 1020.7 L1302.1 1023.7 L1302.4 1026.7 L1302.7 1029.7 L1303.0 1032.7 L1303.3 1035.7 L1303.6 1038.7 L1303.8 1041.7 L1304.1 1044.7 L1304.4 1047.7 L1304.7 1050.6 L1305.0 1053.6 L1305.3 1056.6 L1305.6 1059.6 L1305.9 1062.6 L1306.2 1065.6 L1306.4 1068.6 L1306.7 1071.6 L1307.0 1074.6 L1307.3 1077.6 L1307.6 1080.6 L1307.8 1083.6 L1308.1 1086.6 L1308.4 1089.6 L1308.7 1092.6 L1309.0 1095.6 L1309.2 1098.6 L1309.5 1101.6 L1309.8 1104.6 L1310.1 1107.6 L1310.3 1110.6 L1310.6 1113.6 L1310.9 1116.6 L1311.1 1119.6 L1311.4 1122.6 L1311.7 1125.6 L1312.0 1128.6 L1312.2 1131.6 L1312.5 1134.6 L1312.8 1137.6 L1313.0 1140.6 L1313.3 1143.6 L1313.6 1146.6 L1313.8 1149.6 L1314.1 1152.6 L1314.4 1155.6 L1314.6 1158.6 L1314.9 1161.6 L1315.2 1164.6 L1315.5 1167.6 L1315.7 1170.6 L1316.0 1173.6 L1316.3 1176.6 L1316.5 1179.6 L1316.8 1182.6 L1317.1 1185.6 L1317.3 1188.6 L1317.6 1191.6 L1317.9 1194.7 L1318.2 1197.7 L1318.4 1200.7 L1318.7 1203.7 L1319.0 1206.7 L1319.2 1209.7 L1319.5 1212.7 L1319.8 1215.7 L1320.1 1218.7 L1320.3 1221.7 L1320.6 1224.7 L1320.9 1227.7 L1321.2 1230.7 L1321.5 1233.7 L1321.7 1236.7 L1322.0 1239.7 L1322.3 1242.7 L1322.6 1245.7 L1322.9 1248.7 L1323.1 1251.7 L1323.4 1254.7 L1323.7 1257.7 L1324.0 1260.7 L1324.3 1263.7 L1324.6 1266.7 L1324.9 1269.7 L1325.2 1272.7 L1325.5 1275.7 L1325.8 1278.7 L1326.0 1281.7 L1326.3 1284.7 L1326.6 1287.7 L1326.9 1290.7 L1327.2 1293.7 L1327.5 1296.7 L1327.9 1299.7 L1328.2 1302.7 L1328.5 1305.7 L1328.8 1308.7 L1329.1 1311.7 L1329.4 1314.7 L1329.7 1317.7 L1330.0 1320.7 L1330.4 1323.7 L1330.7 1326.7 L1331.0 1329.7 L1331.3 1332.7 L1331.6 1335.7 L1332.0 1338.6 L1332.3 1341.6 L1332.6 1344.6 L1333.0 1347.6 L1333.3 1350.6 L1333.6 1353.6 L1334.0 1356.6 L1334.3 1359.6 L1334.7 1362.6 L1335.0 1365.6 L1335.4 1368.6 L1335.7 1371.5 L1336.1 1374.5 L1336.4 1377.5 L1336.8 1380.5 L1337.1 1383.5 L1337.5 1386.5 L1337.9 1389.5 L1338.2 1392.4 L1338.6 1395.4 L1339.0 1398.4 L1339.4 1401.4 L1339.7 1404.4 L1340.1 1407.3 L1340.5 1410.3 L1340.9 1413.3 L1341.3 1416.3 L1341.7 1419.3 L1342.1 1422.2 L1342.5 1425.2 L1342.9 1428.2 L1343.3 1431.2 L1343.7 1434.1 L1344.1 1437.1 L1344.5 1440.1 L1344.9 1443.0 L1345.4 1446.0 L1345.8 1449.0 L1346.2 1452.0 L1346.6 1454.9 L1347.1 1457.9 L1347.5 1460.9 L1348.0 1463.8 L1348.4 1466.8 L1348.8 1469.8 L1349.3 1472.7 L1349.7 1475.7 L1350.2 1478.6 L1350.7 1481.6 L1351.1 1484.6 L1351.6 1487.5 L1352.1 1490.5 L1352.5 1493.4 L1353.0 1496.4 L1353.5 1499.4 L1354.0 1502.3 L1354.5 1505.3 L1355.0 1508.2 L1355.5 1511.2 L1356.0 1514.1 L1356.5 1517.1 L1357.0 1520.0 L1357.5 1523.0 L1358.0 1525.9 L1358.6 1528.9 L1359.1 1531.8 L1359.6 1534.7 L1360.1 1537.7 L1360.7 1540.6 L1361.2 1543.6 L1361.8 1546.5 L1362.3 1549.4 L1362.9 1552.4 L1363.4 1555.3 L1364.0 1558.2 L1364.6 1561.2 L1365.2 1564.1 L1365.7 1567.0 L1366.3 1570.0 L1366.9 1572.9 L1367.5 1575.8 L1368.1 1578.8 L1368.7 1581.7 L1369.3 1584.6 L1369.9 1587.5 L1370.5 1590.4 L1371.1 1593.4 L1371.8 1596.3 L1372.4 1599.2 L1373.0 1602.1 L1373.7 1605.0 L1374.3 1608.0 L1375.0 1610.9 L1375.6 1613.8 L1376.3 1616.7 L1376.9 1619.6 L1377.6 1622.6 L1378.2 1625.5 L1378.9 1628.4 L1379.6 1631.3 L1380.3 1634.2 L1381.0 1637.1 L1381.7 1640.1 L1382.4 1643.0 L1383.2 1645.9 L1384.0 1648.7 L1384.9 1651.6 L1385.8 1654.5 L1386.8 1657.3 L1387.9 1660.1 L1389.0 1662.9 L1390.2 1665.7 L1391.5 1668.4 L1392.9 1671.1 L1394.3 1673.8 L1395.9 1676.4 L1397.6 1679.0 L1399.4 1681.5 L1401.2 1683.9 L1403.2 1686.1 L1405.2 1688.1 L1407.3 1689.8 L1409.5 1691.2 L1411.7 1692.2 L1414.0 1692.9 L1416.3 1693.1 L1418.6 1693.0 L1421.0 1692.4 L1423.4 1691.5 L1425.8 1690.3 L1428.3 1688.9 L1430.8 1687.2 L1433.3 1685.3 L1435.9 1683.2 L1438.4 1681.0 L1441.0 1678.7 L1443.7 1676.4 L1446.3 1674.1 L1449.0 1671.7 L1451.6 1669.5 L1454.3 1667.3 L1457.0 1665.2 L1459.7 1663.3 L1462.5 1661.6 L1465.2 1660.2 L1467.9 1659.0 L1470.7 1658.1 L1473.4 1657.5 L1476.2 1657.3 L1478.9 1657.5 L1481.6 1658.1 L1484.4 1659.1 L1487.0 1660.3 L1489.7 1661.8 L1492.2 1663.6 L1494.7 1665.5 L1497.1 1667.5 L1499.4 1669.7 L1501.6 1672.0 L1503.7 1674.3 L1505.8 1676.7 L1507.8 1679.1 L1509.8 1681.5 L1511.7 1684.0 L1513.8 1686.4 L1515.8 1688.8 L1518.0 1691.2 L1520.2 1693.6 L1522.5 1695.9 L1525.0 1698.1 L1527.6 1700.2 L1530.2 1702.1 L1532.9 1703.9 L1535.6 1705.4 L1538.2 1706.6 L1540.8 1707.6 L1543.2 1708.1 L1545.5 1708.3 L1547.7 1708.1 L1549.8 1707.5 L1551.7 1706.6 L1553.5 1705.3 L1555.2 1703.8 L1556.8 1702.0 L1558.3 1699.9 L1559.7 1697.7 L1561.0 1695.2 L1562.3 1692.6 L1563.5 1689.9 L1564.6 1687.1 L1565.7 1684.1 L1566.8 1681.1 L1567.9 1678.1 L1568.9 1675.1 L1569.9 1672.0 L1570.9 1669.0 L1571.9 1666.0 L1572.9 1663.0 L1573.8 1659.9 L1574.8 1656.9 L1575.7 1653.9 L1576.6 1650.9 L1577.5 1647.9 L1578.4 1644.9 L1579.3 1641.9 L1580.1 1638.9 L1581.0 1635.9 L1581.8 1632.9 L1582.6 1629.9 L1583.4 1626.9 L1584.2 1623.9 L1585.0 1620.9 L1585.7 1617.9 L1586.5 1614.9 L1587.2 1612.0 L1588.0 1609.0 L1588.7 1606.0 L1589.4 1603.0 L1590.1 1600.1 L1590.8 1597.1 L1591.4 1594.1 L1592.1 1591.1 L1592.8 1588.2 L1593.4 1585.2 L1594.0 1582.2 L1594.6 1579.3 L1595.3 1576.3 L1595.9 1573.3 L1596.4 1570.4 L1597.0 1567.4 L1597.6 1564.5 L1598.2 1561.5 L1598.7 1558.6 L1599.3 1555.6 L1599.8 1552.6 L1600.3 1549.7 L1600.8 1546.7 L1601.3 1543.8 L1601.8 1540.8 L1602.3 1537.9 L1602.8 1534.9 L1603.3 1532.0 L1603.8 1529.0 L1604.2 1526.1 L1604.7 1523.1 L1605.1 1520.2 L1605.6 1517.2 L1606.0 1514.3 L1606.5 1511.3 L1606.9 1508.4 L1607.3 1505.4 L1607.7 1502.5 L1608.1 1499.5 L1608.5 1496.6 L1608.9 1493.6 L1609.3 1490.7 L1609.7 1487.7 L1610.1 1484.8 L1610.5 1481.8 L1610.8 1478.9 L1611.2 1475.9 L1611.6 1473.0 L1611.9 1470.0 L1612.3 1467.0 L1612.6 1464.1 L1613.0 1461.1 L1613.3 1458.2 L1613.7 1455.2 L1614.0 1452.3 L1614.3 1449.3 L1614.7 1446.3 L1615.0 1443.4 L1615.3 1440.4 L1615.6 1437.4 L1616.0 1434.5 L1616.3 1431.5 L1616.6 1428.5 L1616.9 1425.6 L1617.2 1422.6 L1617.5 1419.6 L1617.8 1416.6 L1618.2 1413.7 L1618.5 1410.7 L1618.8 1407.7 L1619.1 1404.7 L1619.3 1401.8 L1619.6 1398.8 L1619.9 1395.8 L1620.2 1392.8 L1620.5 1389.8 L1620.8 1386.9 L1621.1 1383.9 L1621.4 1380.9 L1621.6 1377.9 L1621.9 1374.9 L1622.2 1371.9 L1622.5 1368.9 L1622.7 1366.0 L1623.0 1363.0 L1623.3 1360.0 L1623.5 1357.0 L1623.8 1354.0 L1624.1 1351.0 L1624.3 1348.0 L1624.6 1345.0 L1624.9 1342.0 L1625.1 1339.0 L1625.4 1336.0 L1625.6 1333.0 L1625.9 1330.0 L1626.1 1327.0 L1626.4 1324.0 L1626.6 1321.0 L1626.9 1318.0 L1627.1 1315.0 L1627.4 1312.0 L1627.6 1309.0 L1627.9 1306.0 L1628.1 1303.0 L1628.4 1300.0 L1628.6 1297.0 L1628.8 1294.0 L1629.1 1291.0 L1629.3 1288.0 L1629.6 1285.0 L1629.8 1282.0 L1630.0 1279.0 L1630.3 1276.0 L1630.5 1273.0 L1630.7 1270.0 L1631.0 1267.0 L1631.2 1264.0 L1631.4 1261.0 L1631.7 1258.0 L1631.9 1254.9 L1632.1 1251.9 L1632.4 1248.9 L1632.6 1245.9 L1632.8 1242.9 L1633.0 1239.9 L1633.3 1236.9 L1633.5 1233.9 L1633.7 1230.9 L1634.0 1227.9 L1634.2 1224.9 L1634.4 1221.8 L1634.6 1218.8 L1634.9 1215.8 L1635.1 1212.8 L1635.3 1209.8 L1635.6 1206.8 L1635.8 1203.8 L1636.0 1200.8 L1636.2 1197.8 L1636.5 1194.7 L1636.7 1191.7 L1636.9 1188.7 L1637.2 1185.7 L1637.4 1182.7 L1637.6 1179.7 L1637.9 1176.7 L1638.1 1173.7 L1638.3 1170.7 L1638.6 1167.7 L1638.8 1164.6 L1639.0 1161.6 L1639.3 1158.6 L1639.5 1155.6 L1639.7 1152.6 L1640.0 1149.6 L1640.2 1146.6 L1640.4 1143.6 L1640.7 1140.6 L1640.9 1137.6 L1641.2 1134.6 L1641.4 1131.5 L1641.6 1128.5 L1641.9 1125.5 L1642.1 1122.5 L1642.4 1119.5 L1642.6 1116.5 L1642.9 1113.5 L1643.1 1110.5 L1643.4 1107.5 L1643.6 1104.5 L1643.9 1101.5 L1644.1 1098.5 L1644.4 1095.5 L1644.7 1092.5 L1644.9 1089.5 L1645.2 1086.5 L1645.4 1083.5 L1645.7 1080.5 L1646.0 1077.5 L1646.2 1074.5 L1646.5 1071.5 L1646.8 1068.5 L1647.0 1065.5 L1647.3 1062.5 L1647.6 1059.5 L1647.9 1056.5 L1648.1 1053.5 L1648.4 1050.5 L1648.7 1047.5 L1649.0 1044.5 L1649.3 1041.5 L1649.6 1038.5 L1649.9 1035.5 L1650.2 1032.6 L1650.5 1029.6 L1650.8 1026.6 L1651.1 1023.6 L1651.4 1020.6 L1651.7 1017.6 L1652.0 1014.6 L1652.3 1011.6 L1652.6 1008.7 L1652.9 1005.7 L1653.2 1002.7 L1653.5 999.7 L1653.9 996.7 L1654.2 993.8 L1654.5 990.8 L1654.8 987.8 L1655.2 984.8 L1655.5 981.9 L1655.9 978.9 L1656.2 975.9 L1656.5 972.9 L1656.9 970.0 L1657.2 967.0 L1657.6 964.0 L1657.9 961.1 L1658.3 958.1 L1658.7 955.1 L1659.0 952.2 L1659.4 949.2 L1659.8 946.2 L1660.1 943.3 L1660.5 940.3 L1660.9 937.4" stroke="#9900ff"/>
<path d="M1305.0 937.1 L1305.3 940.1 L1305.5 943.1 L1305.8 946.1 L1306.0 949.1 L1306.3 952.1 L1306.5 955.1 L1306.7 958.1 L1307.0 961.2 L1307.2 964.2 L1307.4 967.2 L1307.7 970.2 L1307.9 973.2 L1308.1 976.2 L1308.3 979.2 L1308.6 982.2 L1308.8 985.2 L1309.0 988.2 L1309.2 991.2 L1309.5 994.2 L1309.7 997.2 L1309.9 1000.2 L1310.1 1003.2 L1310.3 1006.3 L1310.5 1009.3 L1310.7 1012.3 L1310.9 1015.3 L1311.1 1018.3 L1311.3 1021.3 L1311.6 1024.3 L1311.8 1027.3 L1312.0 1030.3 L1312.2 1033.3 L1312.4 1036.3 L1312.6 1039.3 L1312.8 1042.3 L1312.9 1045.3 L1313.1 1048.3 L1313.3 1051.3 L1313.5 1054.3 L1313.7 1057.3 L1313.9 1060.3 L1314.1 1063.3 L1314.3 1066.3 L1314.5 1069.3 L1314.7 1072.3 L1314.9 1075.3 L1315.1 1078.3 L1315.3 1081.3 L1315.4 1084.3 L1315.6 1087.3 L1315.8 1090.3 L1316.0 1093.3 L1316.2 1096.3 L1316.4 1099.3 L1316.6 1102.3 L1316.8 1105.3 L1316.9 1108.3 L1317.1 1111.3 L1317.3 1114.3 L1317.5 1117.3 L1317.7 1120.3 L1317.9 1123.3 L1318.1 1126.3 L1318.2 1129.3 L1318.4 1132.3 L1318.6 1135.3 L1318.8 1138.3 L1319.0 1141.3 L1319.2 1144.3 L1319.4 1147.3 L1319.6 1150.3 L1319.8 1153.3 L1319.9 1156.3 L1320.1 1159.3 L1320.3 1162.3 L1320.5 1165.3 L1320.7 1168.3 L1320.9 1171.3 L1321.1 1174.3 L1321.3 1177.3 L1321.5 1180.3 L1321.7 1183.3 L1321.9 1186.3 L1322.1 1189.3 L1322.3 1192.3 L1322.5 1195.3 L1322.7 1198.3 L1322.9 1201.3 L1323.1 1204.3 L1323.3 1207.2 L1323.5 1210.2 L1323.7 1213.2 L1323.9 1216.2 L1324.1 1219.2 L1324.3 1222.2 L1324.5 1225.2 L1324.7 1228.2 L1325.0 1231.2 L1325.2 1234.2 L1325.4 1237.2 L1325.6 1240.2 L1325.8 1243.2 L1326.0 1246.2 L1326.3 1249.2 L1326.5 1252.1 L1326.7 1255.1 L1326.9 1258.1 L1327.2 1261.1 L1327.4 1264.1 L1327.6 1267.1 L1327.9 1270.1 L1328.1 1273.1 L1328.4 1276.1 L1328.6 1279.1 L1328.8 1282.1 L1329.1 1285.1 L1329.3 1288.0 L1329.6 1291.0 L1329.8 1294.0 L1330.1 1297.0 L1330.4 1300.0 L1330.6 1303.0 L1330.9 1306.0 L1331.1 1309.0 L1331.4 1312.0 L1331.7 1315.0 L1331.9 1317.9 L1332.2 1320.9 L1332.5 1323.9 L1332.8 1326.9 L1333.1 1329.9 L1333.3 1332.9 L1333.6 1335.9 L1333.9 1338.9 L1334.2 1341.8 L1334.5 1344.8 L1334.8 1347.8 L1335.1 1350.8 L1335.4 1353.8 L1335.7 1356.8 L1336.0 1359.8 L1336.3 1362.8 L1336.7 1365.7 L1337.0 1368.7 L1337.3 1371.7 L1337.6 1374.7 L1338.0 1377.7 L1338.3 1380.7 L1338.6 1383.7 L1339.0 1386.6 L1339.3 1389.6 L1339.7 1392.6 L1340.0 1395.6 L1340.4 1398.6 L1340.7 1401.6 L1341.1 1404.6 L1341.5 1407.5 L1341.8 1410.5 L1342.2 1413.5 L1342.6 1416.5 L1342.9 1419.5 L1343.3 1422.5 L1343.7 1425.4 L1344.1 1428.4 L1344.5 1431.4 L1344.9 1434.4 L1345.3 1437.4 L1345.7 1440.4 L1346.1 1443.3 L1346.5 1446.3 L1347.0 1449.3 L1347.4 1452.3 L1347.8 1455.3 L1348.2 1458.3 L1348.7 1461.2 L1349.1 1464.2 L1349.6 1467.2 L1350.0 1470.2 L1350.5 1473.2 L1350.9 1476.1 L1351.4 1479.1 L1351.9 1482.1 L1352.3 1485.1 L1352.8 1488.1 L1353.3 1491.0 L1353.8 1494.0 L1354.3 1497.0 L1354.8 1500.0 L1355.3 1503.0 L1355.8 1505.9 L1356.3 1508.9 L1356.8 1511.9 L1357.3 1514.9 L1357.9 1517.9 L1358.4 1520.8 L1358.9 1523.8 L1359.5 1526.8 L1360.0 1529.8 L1360.6 1532.8 L1361.1 1535.7 L1361.7 1538.7 L1362.2 1541.7 L1362.8 1544.7 L1363.4 1547.6 L1364.0 1550.6 L1364.6 1553.6 L1365.2 1556.6 L1365.8 1559.6 L1366.4 1562.5 L1367.0 1565.5 L1367.6 1568.5 L1368.2 1571.5 L1368.9 1574.4 L1369.5 1577.4 L1370.1 1580.4 L1370.8 1583.3 L1371.5 1586.3 L1372.2 1589.2 L1372.9 1592.2 L1373.7 1595.1 L1374.5 1598.0 L1375.4 1600.8 L1376.3 1603.7 L1377.3 1606.5 L1378.3 1609.3 L1379.4 1612.0 L1380.5 1614.7 L1381.8 1617.4 L1383.1 1620.0 L1384.5 1622.6 L1385.9 1625.1 L1387.5 1627.6 L1389.2 1630.0 L1391.0 1632.4 L1392.8 1634.7 L1394.8 1637.0 L1396.9 1639.1 L1399.1 1641.1 L1401.4 1642.9 L1403.8 1644.4 L1406.2 1645.5 L1408.7 1646.2 L1411.3 1646.5 L1414.0 1646.3 L1416.7 1645.7 L1419.4 1644.7 L1422.2 1643.5 L1425.0 1642.1 L1427.9 1640.7 L1430.8 1639.2 L1433.7 1637.7 L1436.7 1636.4 L1439.6 1635.2 L1442.6 1634.1 L1445.6 1633.1 L1448.6 1632.2 L1451.6 1631.4 L1454.6 1630.8 L1457.5 1630.3 L1460.5 1629.9 L1463.4 1629.7 L1466.3 1629.7 L1469.1 1629.7 L1471.9 1630.0 L1474.7 1630.4 L1477.4 1631.0 L1480.0 1631.7 L1482.6 1632.6 L1485.1 1633.7 L1487.6 1635.0 L1489.9 1636.4 L1492.2 1638.0 L1494.5 1639.7 L1496.7 1641.6 L1498.8 1643.6 L1500.9 1645.8 L1502.9 1648.0 L1504.9 1650.4 L1506.9 1652.8 L1508.8 1655.3 L1510.7 1657.9 L1512.6 1660.5 L1514.5 1663.2 L1516.3 1665.9 L1518.1 1668.7 L1519.9 1671.5 L1521.7 1674.2 L1523.5 1677.0 L1525.4 1679.8 L1527.2 1682.5 L1529.0 1685.2 L1530.8 1687.9 L1532.7 1690.5 L1534.6 1693.0 L1536.6 1695.4 L1538.6 1697.6 L1540.8 1699.7 L1543.1 1701.6 L1545.4 1703.3 L1548.0 1704.7 L1550.6 1705.9 L1553.3 1706.8 L1556.0 1707.4 L1558.6 1707.7 L1561.1 1707.6 L1563.4 1707.2 L1565.6 1706.4 L1567.7 1705.3 L1569.6 1703.9 L1571.3 1702.2 L1573.0 1700.3 L1574.6 1698.2 L1576.0 1695.9 L1577.4 1693.4 L1578.7 1690.7 L1579.9 1688.0 L1581.1 1685.1 L1582.2 1682.2 L1583.3 1679.2 L1584.4 1676.2 L1585.4 1673.2 L1586.4 1670.3 L1587.4 1667.3 L1588.4 1664.3 L1589.4 1661.3 L1590.3 1658.3 L1591.2 1655.3 L1592.1 1652.3 L1593.0 1649.3 L1593.9 1646.3 L1594.7 1643.3 L1595.6 1640.3 L1596.4 1637.4 L1597.2 1634.4 L1597.9 1631.4 L1598.7 1628.4 L1599.5 1625.4 L1600.2 1622.4 L1600.9 1619.5 L1601.6 1616.5 L1602.3 1613.5 L1603.0 1610.5 L1603.6 1607.6 L1604.3 1604.6 L1604.9 1601.6 L1605.5 1598.6 L1606.1 1595.6 L1606.7 1592.7 L1607.3 1589.7 L1607.8 1586.7 L1608.4 1583.8 L1608.9 1580.8 L1609.4 1577.8 L1610.0 1574.8 L1610.5 1571.9 L1611.0 1568.9 L1611.4 1565.9 L1611.9 1563.0 L1612.4 1560.0 L1612.8 1557.0 L1613.2 1554.0 L1613.7 1551.1 L1614.1 1548.1 L1614.5 1545.1 L1614.9 1542.2 L1615.3 1539.2 L1615.7 1536.2 L1616.1 1533.3 L1616.4 1530.3 L1616.8 1527.3 L1617.1 1524.3 L1617.5 1521.4 L1617.8 1518.4 L1618.2 1515.4 L1618.5 1512.5 L1618.8 1509.5 L1619.1 1506.5 L1619.4 1503.6 L1619.7 1500.6 L1620.0 1497.6 L1620.3 1494.6 L1620.6 1491.7 L1620.9 1488.7 L1621.2 1485.7 L1621.5 1482.8 L1621.7 1479.8 L1622.0 1476.8 L1622.3 1473.8 L1622.5 1470.9 L1622.8 1467.9 L1623.1 1464.9 L1623.3 1461.9 L1623.6 1459.0 L1623.8 1456.0 L1624.1 1453.0 L1624.3 1450.0 L1624.6 1447.0 L1624.8 1444.1 L1625.1 1441.1 L1625.3 1438.1 L1625.6 1435.1 L1625.8 1432.1 L1626.0 1429.2 L1626.3 1426.2 L1626.5 1423.2 L1626.8 1420.2 L1627.0 1417.2 L1627.3 1414.2 L1627.5 1411.2 L1627.7 1408.3 L1628.0 1405.3 L1628.2 1402.3 L1628.5 1399.3 L1628.7 1396.3 L1628.9 1393.3 L1629.2 1390.3 L1629.4 1387.3 L1629.6 1384.3 L1629.9 1381.4 L1630.1 1378.4 L1630.3 1375.4 L1630.6 1372.4 L1630.8 1369.4 L1631.0 1366.4 L1631.2 1363.4 L1631.5 1360.4 L1631.7 1357.4 L1631.9 1354.4 L1632.2 1351.4 L1632.4 1348.4 L1632.6 1345.4 L1632.8 1342.4 L1633.0 1339.4 L1633.3 1336.4 L1633.5 1333.4 L1633.7 1330.4 L1633.9 1327.4 L1634.2 1324.4 L1634.4 1321.4 L1634.6 1318.4 L1634.8 1315.4 L1635.0 1312.4 L1635.3 1309.4 L1635.5 1306.4 L1635.7 1303.4 L1635.9 1300.4 L1636.1 1297.4 L1636.3 1294.4 L1636.5 1291.4 L1636.8 1288.4 L1637.0 1285.4 L1637.2 1282.4 L1637.4 1279.4 L1637.6 1276.4 L1637.8 1273.4 L1638.0 1270.4 L1638.2 1267.4 L1638.5 1264.4 L1638.7 1261.4 L1638.9 1258.3 L1639.1 1255.3 L1639.3 1252.3 L1639.5 1249.3 L1639.7 1246.3 L1639.9 1243.3 L1640.1 1240.3 L1640.3 1237.3 L1640.5 1234.3 L1640.7 1231.3 L1640.9 1228.3 L1641.1 1225.3 L1641.3 1222.3 L1641.5 1219.3 L1641.7 1216.3 L1641.9 1213.2 L1642.2 1210.2 L1642.4 1207.2 L1642.6 1204.2 L1642.8 1201.2 L1643.0 1198.2 L1643.2 1195.2 L1643.4 1192.2 L1643.6 1189.2 L1643.8 1186.2 L1644.0 1183.2 L1644.2 1180.2 L1644.3 1177.1 L1644.5 1174.1 L1644.7 1171.1 L1644.9 1168.1 L1645.1 1165.1 L1645.3 1162.1 L1645.5 1159.1 L1645.7 1156.1 L1645.9 1153.1 L1646.1 1150.1 L1646.3 1147.1 L1646.5 1144.1 L1646.7 1141.1 L1646.9 1138.1 L1647.1 1135.0 L1647.3 1132.0 L1647.5 1129.0 L1647.7 1126.0 L1647.9 1123.0 L1648.1 1120.0 L1648.2 1117.0 L1648.4 1114.0 L1648.6 1111.0 L1648.8 1108.0 L1649.0 1105.0 L1649.2 1102.0 L1649.4 1099.0 L1649.6 1096.0 L1649.8 1093.0 L1650.0 1090.0 L1650.2 1087.0 L1650.4 1084.0 L1650.5 1081.0 L1650.7 1078.0 L1650.9 1074.9 L1651.1 1071.9 L1651.3 1068.9 L1651.5 1065.9 L1651.7 1062.9 L1651.9 1059.9 L1652.1 1056.9 L1652.3 1053.9 L1652.4 1050.9 L1652.6 1047.9 L1652.8 1044.9 L1653.0 1041.9 L1653.2 1038.9 L1653.4 1035.9 L1653.6 1032.9 L1653.8 1030.0 L1654.0 1027.0 L1654.1 1024.0 L1654.3 1021.0 L1654.5 1018.0 L1654.7 1015.0 L1654.9 1012.0 L1655.1 1009.0 L1655.3 1006.0 L1655.5 1003.0 L1655.7 1000.0 L1655.8 997.0 L1656.0 994.0 L1656.2 991.0 L1656.4 988.0 L1656.6 985.0 L1656.8 982.1 L1657.0 979.1 L1657.2 976.1 L1657.4 973.1 L1657.5 970.1 L1657.7 967.1 L1657.9 964.1 L1658.1 961.1 L1658.3 958.2 L1658.5 955.2 L1658.7 952.2 L1658.9 949.2 L1659.1 946.2 L1659.2 943.2 L1659.4 940.3 L1659.6 937.3" stroke="#ff0000"/>
<path d="M1325.5 937.4 L1325.6 940.3 L1325.8 943.3 L1325.9 946.3 L1326.0 949.3 L1326.2 952.2 L1326.3 955.2 L1326.4 958.2 L1326.6 961.2 L1326.7 964.2 L1326.8 967.2 L1327.0 970.1 L1327.1 973.1 L1327.3 976.1 L1327.4 979.1 L1327.5 982.1 L1327.7 985.1 L1327.8 988.0 L1328.0 991.0 L1328.1 994.0 L1328.2 997.0 L1328.4 1000.0 L1328.5 1003.0 L1328.7 1006.0 L1328.8 1009.0 L1329.0 1012.0 L1329.1 1015.0 L1329.2 1017.9 L1329.4 1020.9 L1329.5 1023.9 L1329.7 1026.9 L1329.8 1029.9 L1330.0 1032.9 L1330.1 1035.9 L1330.3 1038.9 L1330.4 1041.9 L1330.6 1044.9 L1330.7 1047.9 L1330.9 1050.9 L1331.0 1053.9 L1331.2 1056.9 L1331.3 1059.9 L1331.5 1062.9 L1331.6 1065.9 L1331.8 1068.9 L1331.9 1071.9 L1332.1 1074.9 L1332.2 1077.9 L1332.4 1080.9 L1332.5 1083.9 L1332.7 1086.9 L1332.8 1089.9 L1333.0 1092.9 L1333.2 1096.0 L1333.3 1099.0 L1333.5 1102.0 L1333.6 1105.0 L1333.8 1108.0 L1334.0 1111.0 L1334.1 1114.0 L1334.3 1117.0 L1334.4 1120.0 L1334.6 1123.0 L1334.8 1126.0 L1334.9 1129.0 L1335.1 1132.0 L1335.3 1135.0 L1335.4 1138.1 L1335.6 1141.1 L1335.8 1144.1 L1335.9 1147.1 L1336.1 1150.1 L1336.3 1153.1 L1336.4 1156.1 L1336.6 1159.1 L1336.8 1162.1 L1337.0 1165.1 L1337.1 1168.2 L1337.3 1171.2 L1337.5 1174.2 L1337.7 1177.2 L1337.8 1180.2 L1338.0 1183.2 L1338.2 1186.2 L1338.4 1189.2 L1338.6 1192.3 L1338.7 1195.3 L1338.9 1198.3 L1339.1 1201.3 L1339.3 1204.3 L1339.5 1207.3 L1339.7 1210.3 L1339.8 1213.3 L1340.0 1216.3 L1340.2 1219.4 L1340.4 1222.4 L1340.6 1225.4 L1340.8 1228.4 L1341.0 1231.4 L1341.2 1234.4 L1341.4 1237.4 L1341.6 1240.4 L1341.7 1243.4 L1341.9 1246.5 L1342.1 1249.5 L1342.3 1252.5 L1342.5 1255.5 L1342.7 1258.5 L1342.9 1261.5 L1343.1 1264.5 L1343.3 1267.5 L1343.5 1270.5 L1343.7 1273.5 L1344.0 1276.6 L1344.2 1279.6 L1344.4 1282.6 L1344.6 1285.6 L1344.8 1288.6 L1345.0 1291.6 L1345.2 1294.6 L1345.4 1297.6 L1345.6 1300.6 L1345.8 1303.6 L1346.1 1306.6 L1346.3 1309.6 L1346.5 1312.6 L1346.7 1315.6 L1346.9 1318.6 L1347.1 1321.7 L1347.4 1324.7 L1347.6 1327.7 L1347.8 1330.7 L1348.0 1333.7 L1348.3 1336.7 L1348.5 1339.7 L1348.7 1342.7 L1349.0 1345.7 L1349.2 1348.7 L1349.4 1351.7 L1349.6 1354.7 L1349.9 1357.7 L1350.1 1360.7 L1350.3 1363.7 L1350.6 1366.7 L1350.8 1369.7 L1351.1 1372.7 L1351.3 1375.7 L1351.5 1378.7 L1351.8 1381.7 L1352.0 1384.6 L1352.3 1387.6 L1352.5 1390.6 L1352.8 1393.6 L1353.0 1396.6 L1353.3 1399.6 L1353.5 1402.6 L1353.8 1405.6 L1354.0 1408.6 L1354.3 1411.6 L1354.5 1414.6 L1354.8 1417.5 L1355.1 1420.5 L1355.3 1423.5 L1355.6 1426.5 L1355.8 1429.5 L1356.1 1432.5 L1356.4 1435.5 L1356.6 1438.4 L1356.9 1441.4 L1357.2 1444.4 L1357.5 1447.4 L1357.7 1450.4 L1358.0 1453.3 L1358.3 1456.3 L1358.5 1459.3 L1358.8 1462.3 L1359.1 1465.3 L1359.4 1468.2 L1359.7 1471.2 L1360.0 1474.2 L1360.2 1477.1 L1360.5 1480.1 L1360.8 1483.1 L1361.1 1486.1 L1361.4 1489.0 L1361.7 1492.0 L1362.0 1495.0 L1362.3 1497.9 L1362.6 1500.9 L1362.9 1503.9 L1363.2 1506.8 L1363.5 1509.8 L1363.8 1512.7 L1364.1 1515.7 L1364.4 1518.7 L1364.7 1521.6 L1365.0 1524.6 L1365.3 1527.5 L1365.6 1530.5 L1365.9 1533.4 L1366.2 1536.4 L1366.5 1539.4 L1366.9 1542.3 L1367.2 1545.3 L1367.5 1548.2 L1367.8 1551.1 L1368.1 1554.1 L1368.5 1557.0 L1368.8 1560.0 L1369.1 1562.9 L1369.5 1565.9 L1369.8 1568.8 L1370.1 1571.8 L1370.5 1574.7 L1370.8 1577.6 L1371.1 1580.6 L1371.5 1583.5 L1371.8 1586.4 L1372.1 1589.4 L1372.5 1592.3 L1372.8 1595.2 L1373.2 1598.2 L1373.5 1601.1 L1373.9 1604.1 L1374.2 1607.1 L1374.6 1610.0 L1375.0 1613.0 L1375.3 1616.0 L1375.7 1619.1 L1376.0 1622.1 L1376.4 1625.2 L1376.8 1628.2 L1377.1 1631.3 L1377.5 1634.4 L1377.9 1637.6 L1378.3 1640.8 L1378.7 1644.0 L1379.1 1647.2 L1379.4 1650.4 L1379.8 1653.7 L1380.2 1657.0 L1380.6 1660.4 L1381.0 1663.8 L1381.4 1667.2 L1381.9 1670.6 L1382.4 1674.0 L1382.9 1677.3 L1383.5 1680.6 L1384.2 1683.8 L1385.0 1686.9 L1385.9 1689.9 L1386.9 1692.8 L1388.1 1695.5 L1389.4 1698.0 L1390.8 1700.3 L1392.4 1702.4 L1394.2 1704.3 L1396.3 1706.0 L1398.5 1707.3 L1400.8 1708.4 L1403.3 1709.1 L1405.8 1709.5 L1408.2 1709.4 L1410.6 1709.0 L1412.9 1708.2 L1415.0 1706.9 L1416.9 1705.1 L1418.6 1702.9 L1420.1 1700.5 L1421.4 1697.7 L1422.7 1694.7 L1423.8 1691.6 L1424.8 1688.3 L1425.8 1685.1 L1426.7 1681.8 L1427.6 1678.7 L1428.5 1675.5 L1429.3 1672.4 L1430.1 1669.3 L1430.9 1666.3 L1431.7 1663.2 L1432.4 1660.3 L1433.2 1657.3 L1434.0 1654.4 L1434.8 1651.5 L1435.6 1648.6 L1436.4 1645.8 L1437.3 1643.0 L1438.1 1640.2 L1439.0 1637.4 L1440.0 1634.6 L1441.0 1631.9 L1442.0 1629.1 L1443.2 1626.4 L1444.3 1623.7 L1445.6 1621.0 L1446.9 1618.3 L1448.2 1615.6 L1449.7 1612.9 L1451.3 1610.3 L1452.9 1607.6 L1454.7 1604.9 L1456.5 1602.2 L1458.4 1599.6 L1460.4 1597.1 L1462.5 1594.6 L1464.7 1592.3 L1466.9 1590.1 L1469.1 1588.2 L1471.4 1586.4 L1473.7 1584.9 L1476.1 1583.7 L1478.4 1582.7 L1480.8 1582.2 L1483.1 1581.9 L1485.5 1582.1 L1487.8 1582.6 L1490.2 1583.5 L1492.5 1584.7 L1494.7 1586.2 L1496.9 1588.0 L1499.1 1590.0 L1501.2 1592.3 L1503.3 1594.7 L1505.3 1597.3 L1507.2 1600.0 L1509.0 1602.9 L1510.8 1605.8 L1512.5 1608.8 L1514.0 1611.9 L1515.5 1614.9 L1516.9 1618.0 L1518.1 1621.0 L1519.4 1624.0 L1520.6 1626.9 L1521.8 1629.9 L1523.0 1632.7 L1524.3 1635.6 L1525.7 1638.3 L1527.2 1641.0 L1528.9 1643.7 L1530.7 1646.2 L1532.6 1648.7 L1534.7 1651.0 L1536.9 1653.1 L1539.1 1655.0 L1541.4 1656.5 L1543.6 1657.8 L1545.7 1658.6 L1547.7 1659.0 L1549.5 1658.9 L1551.2 1658.5 L1552.8 1657.6 L1554.3 1656.4 L1555.7 1654.9 L1557.0 1653.0 L1558.2 1650.9 L1559.3 1648.5 L1560.3 1645.9 L1561.3 1643.1 L1562.2 1640.1 L1563.0 1636.9 L1563.8 1633.7 L1564.5 1630.3 L1565.2 1626.9 L1565.9 1623.5 L1566.5 1620.0 L1567.1 1616.5 L1567.7 1613.1 L1568.3 1609.7 L1568.9 1606.4 L1569.5 1603.0 L1570.1 1599.7 L1570.6 1596.5 L1571.2 1593.2 L1571.7 1590.0 L1572.2 1586.8 L1572.7 1583.6 L1573.2 1580.4 L1573.7 1577.3 L1574.2 1574.2 L1574.7 1571.1 L1575.2 1568.0 L1575.6 1564.9 L1576.1 1561.9 L1576.5 1558.8 L1577.0 1555.8 L1577.4 1552.8 L1577.8 1549.8 L1578.2 1546.8 L1578.6 1543.9 L1579.0 1540.9 L1579.4 1538.0 L1579.8 1535.0 L1580.2 1532.1 L1580.6 1529.1 L1581.0 1526.2 L1581.3 1523.3 L1581.7 1520.4 L1582.1 1517.4 L1582.4 1514.5 L1582.8 1511.6 L1583.1 1508.7 L1583.5 1505.8 L1583.8 1502.8 L1584.2 1499.9 L1584.5 1497.0 L1584.9 1494.1 L1585.2 1491.1 L1585.5 1488.2 L1585.9 1485.3 L1586.2 1482.3 L1586.5 1479.4 L1586.8 1476.5 L1587.2 1473.5 L1587.5 1470.6 L1587.8 1467.6 L1588.1 1464.7 L1588.4 1461.7 L1588.7 1458.8 L1589.0 1455.8 L1589.3 1452.9 L1589.6 1449.9 L1589.9 1447.0 L1590.2 1444.0 L1590.5 1441.1 L1590.8 1438.1 L1591.1 1435.1 L1591.4 1432.2 L1591.7 1429.2 L1592.0 1426.3 L1592.2 1423.3 L1592.5 1420.3 L1592.8 1417.4 L1593.1 1414.4 L1593.3 1411.4 L1593.6 1408.4 L1593.9 1405.5 L1594.1 1402.5 L1594.4 1399.5 L1594.7 1396.5 L1594.9 1393.6 L1595.2 1390.6 L1595.4 1387.6 L1595.7 1384.6 L1595.9 1381.6 L1596.2 1378.6 L1596.4 1375.7 L1596.7 1372.7 L1596.9 1369.7 L1597.2 1366.7 L1597.4 1363.7 L1597.6 1360.7 L1597.9 1357.7 L1598.1 1354.7 L1598.3 1351.7 L1598.6 1348.7 L1598.8 1345.8 L1599.0 1342.8 L1599.2 1339.8 L1599.5 1336.8 L1599.7 1333.8 L1599.9 1330.8 L1600.1 1327.8 L1600.3 1324.8 L1600.6 1321.8 L1600.8 1318.8 L1601.0 1315.8 L1601.2 1312.8 L1601.4 1309.7 L1601.6 1306.7 L1601.8 1303.7 L1602.0 1300.7 L1602.2 1297.7 L1602.4 1294.7 L1602.6 1291.7 L1602.8 1288.7 L1603.0 1285.7 L1603.2 1282.7 L1603.4 1279.7 L1603.6 1276.7 L1603.8 1273.6 L1604.0 1270.6 L1604.2 1267.6 L1604.4 1264.6 L1604.6 1261.6 L1604.8 1258.6 L1604.9 1255.6 L1605.1 1252.6 L1605.3 1249.5 L1605.5 1246.5 L1605.7 1243.5 L1605.9 1240.5 L1606.0 1237.5 L1606.2 1234.5 L1606.4 1231.4 L1606.6 1228.4 L1606.8 1225.4 L1606.9 1222.4 L1607.1 1219.4 L1607.3 1216.4 L1607.5 1213.3 L1607.6 1210.3 L1607.8 1207.3 L1608.0 1204.3 L1608.1 1201.3 L1608.3 1198.2 L1608.5 1195.2 L1608.7 1192.2 L1608.8 1189.2 L1609.0 1186.2 L1609.2 1183.2 L1609.3 1180.1 L1609.5 1177.1 L1609.7 1174.1 L1609.8 1171.1 L1610.0 1168.1 L1610.1 1165.1 L1610.3 1162.0 L1610.5 1159.0 L1610.6 1156.0 L1610.8 1153.0 L1611.0 1150.0 L1611.1 1147.0 L1611.3 1143.9 L1611.4 1140.9 L1611.6 1137.9 L1611.8 1134.9 L1611.9 1131.9 L1612.1 1128.9 L1612.2 1125.8 L1612.4 1122.8 L1612.6 1119.8 L1612.7 1116.8 L1612.9 1113.8 L1613.0 1110.8 L1613.2 1107.8 L1613.3 1104.8 L1613.5 1101.8 L1613.7 1098.7 L1613.8 1095.7 L1614.0 1092.7 L1614.1 1089.7 L1614.3 1086.7 L1614.5 1083.7 L1614.6 1080.7 L1614.8 1077.7 L1614.9 1074.7 L1615.1 1071.7 L1615.2 1068.7 L1615.4 1065.7 L1615.6 1062.7 L1615.7 1059.7 L1615.9 1056.7 L1616.0 1053.7 L1616.2 1050.7 L1616.4 1047.7 L1616.5 1044.7 L1616.7 1041.7 L1616.9 1038.7 L1617.0 1035.7 L1617.2 1032.7 L1617.3 1029.7 L1617.5 1026.7 L1617.7 1023.7 L1617.8 1020.7 L1618.0 1017.7 L1618.2 1014.7 L1618.3 1011.8 L1618.5 1008.8 L1618.7 1005.8 L1618.8 1002.8 L1619.0 999.8 L1619.2 996.8 L1619.3 993.9 L1619.5 990.9 L1619.7 987.9 L1619.9 984.9 L1620.0 981.9 L1620.2 979.0 L1620.4 976.0 L1620.6 973.0 L1620.7 970.1 L1620.9 967.1 L1621.1 964.1 L1621.3 961.2 L1621.4 958.2 L1621.6 955.2 L1621.8 952.3 L1622.0 949.3 L1622.2 946.3 L1622.4 943.4 L1622.6 940.4 L1622.7 937.5" stroke="#0a84ff"/>
</g>
<path d="M192.4 125.5v19.5M192.4 898.2v-19.5 M226.2 125.5v39M226.2 898.2v-39 M260.1 125.5v19.5M260.1 898.2v-19.5 M294.0 125.5v19.5M294.0 898.2v-19.5 M327.8 125.5v19.5M327.8 898.2v-19.5 M361.7 125.5v19.5M361.7 898.2v-19.5 M395.6 125.5v39M395.6 898.2v-39 M429.4 125.5v19.5M429.4 898.2v-19.5 M463.3 125.5v19.5M463.3 898.2v-19.5 M497.2 125.5v19.5M497.2 898.2v-19.5 M531.0 125.5v19.5M531.0 898.2v-19.5 M564.9 125.5v39M564.9 898.2v-39 M598.8 125.5v19.5M598.8 898.2v-19.5 M632.6 125.5v19.5M632.6 898.2v-19.5 M666.5 125.5v19.5M666.5 898.2v-19.5 M700.4 125.5v19.5M700.4 898.2v-19.5 M734.2 125.5v39M734.2 898.2v-39 M768.1 125.5v19.5M768.1 898.2v-19.5 M802.0 125.5v19.5M802.0 898.2v-19.5 M835.8 125.5v19.5M835.8 898.2v-19.5 M869.7 125.5v19.5M869.7 898.2v-19.5 M903.6 125.5v39M903.6 898.2v-39 M937.4 125.5v19.5M937.4 898.2v-19.5 M158.5 849.9h19.5M971.3 849.9h-19.5 M158.5 801.6h19.5M971.3 801.6h-19.5 M158.5 753.3h19.5M971.3 753.3h-19.5 M158.5 705.0h19.5M971.3 705.0h-19.5 M158.5 656.7h39.5M971.3 656.7h-39.5 M158.5 608.4h19.5M971.3 608.4h-19.5 M158.5 560.1h19.5M971.3 560.1h-19.5 M158.5 511.9h19.5M971.3 511.9h-19.5 M158.5 463.6h19.5M971.3 463.6h-19.5 M158.5 415.3h39.5M971.3 415.3h-39.5 M158.5 367.0h19.5M971.3 367.0h-19.5 M158.5 318.7h19.5M971.3 318.7h-19.5 M158.5 270.4h19.5M971.3 270.4h-19.5 M158.5 222.1h19.5M971.3 222.1h-19.5 M158.5 173.8h39.5M971.3 173.8h-39.5" stroke="#000" stroke-width="3" fill="none"/>
<rect x="158.5" y="125.5" width="812.8" height="772.7" stroke="#000" stroke-width="3" fill="none"/>
<path d="M192.4 938.6v19.5M192.4 1711.4v-19.5 M226.2 938.6v39M226.2 1711.4v-39 M260.1 938.6v19.5M260.1 1711.4v-19.5 M294.0 938.6v19.5M294.0 1711.4v-19.5 M327.8 938.6v19.5M327.8 1711.4v-19.5 M361.7 938.6v19.5M361.7 1711.4v-19.5 M395.6 938.6v39M395.6 1711.4v-39 M429.4 938.6v19.5M429.4 1711.4v-19.5 M463.3 938.6v19.5M463.3 1711.4v-19.5 M497.2 938.6v19.5M497.2 1711.4v-19.5 M531.0 938.6v19.5M531.0 1711.4v-19.5 M564.9 938.6v39M564.9 1711.4v-39 M598.8 938.6v19.5M598.8 1711.4v-19.5 M632.6 938.6v19.5M632.6 1711.4v-19.5 M666.5 938.6v19.5M666.5 1711.4v-19.5 M700.4 938.6v19.5M700.4 1711.4v-19.5 M734.2 938.6v39M734.2 1711.4v-39 M768.1 938.6v19.5M768.1 1711.4v-19.5 M802.0 938.6v19.5M802.0 1711.4v-19.5 M835.8 938.6v19.5M835.8 1711.4v-19.5 M869.7 938.6v19.5M869.7 1711.4v-19.5 M903.6 938.6v39M903.6 1711.4v-39 M937.4 938.6v19.5M937.4 1711.4v-19.5 M158.5 1663.1h19.5M971.3 1663.1h-19.5 M158.5 1614.8h19.5M971.3 1614.8h-19.5 M158.5 1566.5h19.5M971.3 1566.5h-19.5 M158.5 1518.2h19.5M971.3 1518.2h-19.5 M158.5 1469.9h39.5M971.3 1469.9h-39.5 M158.5 1421.6h19.5M971.3 1421.6h-19.5 M158.5 1373.3h19.5M971.3 1373.3h-19.5 M158.5 1325.0h19.5M971.3 1325.0h-19.5 M158.5 1276.7h19.5M971.3 1276.7h-19.5 M158.5 1228.4h39.5M971.3 1228.4h-39.5 M158.5 1180.1h19.5M971.3 1180.1h-19.5 M158.5 1131.8h19.5M971.3 1131.8h-19.5 M158.5 1083.5h19.5M971.3 1083.5h-19.5 M158.5 1035.2h19.5M971.3 1035.2h-19.5 M158.5 986.9h39.5M971.3 986.9h-39.5" stroke="#000" stroke-width="3" fill="none"/>
<rect x="158.5" y="938.6" width="812.8" height="772.8" stroke="#000" stroke-width="3" fill="none"/>
<path d="M1084.5 125.5v19.5M1084.5 898.2v-19.5 M1118.3 125.5v39M1118.3 898.2v-39 M1152.2 125.5v19.5M1152.2 898.2v-19.5 M1186.1 125.5v19.5M1186.1 898.2v-19.5 M1220.0 125.5v19.5M1220.0 898.2v-19.5 M1253.8 125.5v19.5M1253.8 898.2v-19.5 M1287.7 125.5v39M1287.7 898.2v-39 M1321.6 125.5v19.5M1321.6 898.2v-19.5 M1355.4 125.5v19.5M1355.4 898.2v-19.5 M1389.3 125.5v19.5M1389.3 898.2v-19.5 M1423.2 125.5v19.5M1423.2 898.2v-19.5 M1457.0 125.5v39M1457.0 898.2v-39 M1490.9 125.5v19.5M1490.9 898.2v-19.5 M1524.8 125.5v19.5M1524.8 898.2v-19.5 M1558.7 125.5v19.5M1558.7 898.2v-19.5 M1592.5 125.5v19.5M1592.5 898.2v-19.5 M1626.4 125.5v39M1626.4 898.2v-39 M1660.3 125.5v19.5M1660.3 898.2v-19.5 M1694.1 125.5v19.5M1694.1 898.2v-19.5 M1728.0 125.5v19.5M1728.0 898.2v-19.5 M1761.9 125.5v19.5M1761.9 898.2v-19.5 M1795.8 125.5v39M1795.8 898.2v-39 M1829.6 125.5v19.5M1829.6 898.2v-19.5 M1050.6 849.9h19.5M1863.5 849.9h-19.5 M1050.6 801.6h19.5M1863.5 801.6h-19.5 M1050.6 753.3h19.5M1863.5 753.3h-19.5 M1050.6 705.0h19.5M1863.5 705.0h-19.5 M1050.6 656.7h39.5M1863.5 656.7h-39.5 M1050.6 608.4h19.5M1863.5 608.4h-19.5 M1050.6 560.1h19.5M1863.5 560.1h-19.5 M1050.6 511.9h19.5M1863.5 511.9h-19.5 M1050.6 463.6h19.5M1863.5 463.6h-19.5 M1050.6 415.3h39.5M1863.5 415.3h-39.5 M1050.6 367.0h19.5M1863.5 367.0h-19.5 M1050.6 318.7h19.5M1863.5 318.7h-19.5 M1050.6 270.4h19.5M1863.5 270.4h-19.5 M1050.6 222.1h19.5M1863.5 222.1h-19.5 M1050.6 173.8h39.5M1863.5 173.8h-39.5" stroke="#000" stroke-width="3" fill="none"/>
<rect x="1050.6" y="125.5" width="812.9" height="772.7" stroke="#000" stroke-width="3" fill="none"/>
<path d="M1084.5 938.6v19.5M1084.5 1711.4v-19.5 M1118.3 938.6v39M1118.3 1711.4v-39 M1152.2 938.6v19.5M1152.2 1711.4v-19.5 M1186.1 938.6v19.5M1186.1 1711.4v-19.5 M1220.0 938.6v19.5M1220.0 1711.4v-19.5 M1253.8 938.6v19.5M1253.8 1711.4v-19.5 M1287.7 938.6v39M1287.7 1711.4v-39 M1321.6 938.6v19.5M1321.6 1711.4v-19.5 M1355.4 938.6v19.5M1355.4 1711.4v-19.5 M1389.3 938.6v19.5M1389.3 1711.4v-19.5 M1423.2 938.6v19.5M1423.2 1711.4v-19.5 M1457.0 938.6v39M1457.0 1711.4v-39 M1490.9 938.6v19.5M1490.9 1711.4v-19.5 M1524.8 938.6v19.5M1524.8 1711.4v-19.5 M1558.7 938.6v19.5M1558.7 1711.4v-19.5 M1592.5 938.6v19.5M1592.5 1711.4v-19.5 M1626.4 938.6v39M1626.4 1711.4v-39 M1660.3 938.6v19.5M1660.3 1711.4v-19.5 M1694.1 938.6v19.5M1694.1 1711.4v-19.5 M1728.0 938.6v19.5M1728.0 1711.4v-19.5 M1761.9 938.6v19.5M1761.9 1711.4v-19.5 M1795.8 938.6v39M1795.8 1711.4v-39 M1829.6 938.6v19.5M1829.6 1711.4v-19.5 M1050.6 1663.1h19.5M1863.5 1663.1h-19.5 M1050.6 1614.8h19.5M1863.5 1614.8h-19.5 M1050.6 1566.5h19.5M1863.5 1566.5h-19.5 M1050.6 1518.2h19.5M1863.5 1518.2h-19.5 M1050.6 1469.9h39.5M1863.5 1469.9h-39.5 M1050.6 1421.6h19.5M1863.5 1421.6h-19.5 M1050.6 1373.3h19.5M1863.5 1373.3h-19.5 M1050.6 1325.0h19.5M1863.5 1325.0h-19.5 M1050.6 1276.7h19.5M1863.5 1276.7h-19.5 M1050.6 1228.4h39.5M1863.5 1228.4h-39.5 M1050.6 1180.1h19.5M1863.5 1180.1h-19.5 M1050.6 1131.8h19.5M1863.5 1131.8h-19.5 M1050.6 1083.5h19.5M1863.5 1083.5h-19.5 M1050.6 1035.2h19.5M1863.5 1035.2h-19.5 M1050.6 986.9h39.5M1863.5 986.9h-39.5" stroke="#000" stroke-width="3" fill="none"/>
<rect x="1050.6" y="938.6" width="812.9" height="772.8" stroke="#000" stroke-width="3" fill="none"/>
<rect x="1009" y="46" width="4" height="1666" fill="#000"/>
<rect x="1348.6" y="6.6" width="514.7" height="78.5" fill="#faf7c0" stroke="#000" stroke-width="3"/>
<path d="M1366 196.50H1426" stroke="#008000" stroke-width="4.5"/>
<path d="M1366 251.55H1426" stroke="#9900ff" stroke-width="4.5"/>
<path d="M1366 306.60H1426" stroke="#ff0000" stroke-width="4.5"/>
<path d="M1366 361.65H1426" stroke="#ff8800" stroke-width="4.5"/>
<path d="M1366 416.70H1426" stroke="#0a84ff" stroke-width="4.5"/>
<path d="M1299 1009.10H1358.2" stroke="#008000" stroke-width="4.5"/>
<path d="M1299 1064.70H1358.2" stroke="#9900ff" stroke-width="4.5"/>
<path d="M1299 1120.30H1358.2" stroke="#ff0000" stroke-width="4.5"/>
<path d="M1299 1175.90H1358.2" stroke="#ff8800" stroke-width="4.5"/>
<path d="M1299 1231.50H1358.2" stroke="#0a84ff" stroke-width="4.5"/>
<g transform="translate(0 0.0)"><path d="M36.8 494.7L71.2 512.9L71.0 517.7L36.8 499.8Z" fill="#000"/><path d="M63.2 493.5C66.5 494.2 69.6 496.3 70.1 498.7C70.6 501.2 67.5 503 63.4 503.8C60.8 504.3 58 504.9 55.4 505.4C53.2 505.8 51 506.2 48.7 506.7C46.2 507.3 43.5 508 41.2 509.1C39.2 510.1 37.8 511 37.75 512.3C37.6 513.6 37.9 514.4 38.6 515.2C39.4 516.1 40.3 516.6 41.2 516.9C42.2 517.3 43.4 517.5 44.6 517.6" fill="none" stroke="#000" stroke-width="2.6"/><path d="M66.5 494.6C68.8 495.8 70.3 497.4 70.1 499.2C69.9 500.9 68.2 502.2 65.5 503.1M40.2 509.7C38.6 510.7 37.8 511.6 37.8 512.8C37.8 514.1 38.6 515.4 40.0 516.3" fill="none" stroke="#000" stroke-width="3.6" stroke-linecap="round"/></g>
<g transform="translate(0 812.9)"><path d="M36.8 494.7L71.2 512.9L71.0 517.7L36.8 499.8Z" fill="#000"/><path d="M63.2 493.5C66.5 494.2 69.6 496.3 70.1 498.7C70.6 501.2 67.5 503 63.4 503.8C60.8 504.3 58 504.9 55.4 505.4C53.2 505.8 51 506.2 48.7 506.7C46.2 507.3 43.5 508 41.2 509.1C39.2 510.1 37.8 511 37.75 512.3C37.6 513.6 37.9 514.4 38.6 515.2C39.4 516.1 40.3 516.6 41.2 516.9C42.2 517.3 43.4 517.5 44.6 517.6" fill="none" stroke="#000" stroke-width="2.6"/><path d="M66.5 494.6C68.8 495.8 70.3 497.4 70.1 499.2C69.9 500.9 68.2 502.2 65.5 503.1M40.2 509.7C38.6 510.7 37.8 511.6 37.8 512.8C37.8 514.1 38.6 515.4 40.0 516.3" fill="none" stroke="#000" stroke-width="3.6" stroke-linecap="round"/></g>
<g fill="#000">
<g transform="matrix(0.9606 0 0 0.9653 912.59 -417.81)"><text x="500" y="500" font-family="Liberation Sans, sans-serif" font-size="58">NuFIT 6.1 (2025)</text></g>
<g transform="matrix(0.9487 0 0 1.0317 438.78 -419.56)"><text x="500" y="500" font-family="Liberation Sans, sans-serif" font-size="59">IO</text></g>
<g transform="matrix(0.9581 0 0 1.0244 570.34 -416.80)"><text x="500" y="500" font-family="Liberation Sans, sans-serif" font-size="59">NO</text></g>
<g transform="matrix(0.8350 0 0 1.0259 -326.11 -321.97)"><text x="500" y="500" font-family="Liberation Sans, sans-serif" font-size="50" font-style="italic">15</text></g>
<g transform="matrix(0.8350 0 0 1.0259 -326.11 491.33)"><text x="500" y="500" font-family="Liberation Sans, sans-serif" font-size="50" font-style="italic">15</text></g>
<g transform="matrix(0.8328 0 0 1.0000 -323.77 -68.60)"><text x="500" y="500" font-family="Liberation Sans, sans-serif" font-size="50" font-style="italic">10</text></g>
<g transform="matrix(0.8328 0 0 1.0000 -323.77 744.70)"><text x="500" y="500" font-family="Liberation Sans, sans-serif" font-size="50" font-style="italic">10</text></g>
<g transform="matrix(1.0024 0 0 1.0082 -390.86 169.89)"><text x="500" y="500" font-family="Liberation Sans, sans-serif" font-size="50" font-style="italic">5</text></g>
<g transform="matrix(1.0024 0 0 1.0082 -390.86 983.19)"><text x="500" y="500" font-family="Liberation Sans, sans-serif" font-size="50" font-style="italic">5</text></g>
<g transform="matrix(0.9972 0 0 0.9780 -386.21 427.22)"><text x="500" y="500" font-family="Liberation Sans, sans-serif" font-size="50" font-style="italic">0</text></g>
<g transform="matrix(0.9972 0 0 0.9780 -386.21 1239.52)"><text x="500" y="500" font-family="Liberation Sans, sans-serif" font-size="50" font-style="italic">0</text></g>
<g transform="matrix(0.9646 0 0 1.0000 -288.01 1266.00)"><text x="500" y="500" font-family="Liberation Sans, sans-serif" font-size="50" font-style="italic">0.3</text></g>
<g transform="matrix(0.9646 0 0 1.0000 -118.03 1266.00)"><text x="500" y="500" font-family="Liberation Sans, sans-serif" font-size="50" font-style="italic">0.4</text></g>
<g transform="matrix(0.9646 0 0 1.0000 50.16 1266.00)"><text x="500" y="500" font-family="Liberation Sans, sans-serif" font-size="50" font-style="italic">0.5</text></g>
<g transform="matrix(0.9646 0 0 1.0000 219.78 1266.00)"><text x="500" y="500" font-family="Liberation Sans, sans-serif" font-size="50" font-style="italic">0.6</text></g>
<g transform="matrix(0.9646 0 0 1.0000 388.15 1266.00)"><text x="500" y="500" font-family="Liberation Sans, sans-serif" font-size="50" font-style="italic">0.7</text></g>
<g transform="matrix(0.9646 0 0 1.0000 603.71 1266.00)"><text x="500" y="500" font-family="Liberation Sans, sans-serif" font-size="50" font-style="italic">0.3</text></g>
<g transform="matrix(0.9646 0 0 1.0000 774.08 1266.00)"><text x="500" y="500" font-family="Liberation Sans, sans-serif" font-size="50" font-style="italic">0.4</text></g>
<g transform="matrix(0.9646 0 0 1.0000 942.34 1266.00)"><text x="500" y="500" font-family="Liberation Sans, sans-serif" font-size="50" font-style="italic">0.5</text></g>
<g transform="matrix(0.9646 0 0 1.0000 1111.99 1266.00)"><text x="500" y="500" font-family="Liberation Sans, sans-serif" font-size="50" font-style="italic">0.6</text></g>
<g transform="matrix(0.9646 0 0 1.0000 1280.32 1266.00)"><text x="500" y="500" font-family="Liberation Sans, sans-serif" font-size="50" font-style="italic">0.7</text></g>
<g transform="matrix(0.9984 0 0 1.0153 -437.18 43.91)"><text x="500" y="500" font-family="Liberation Serif, serif" font-size="51" transform="rotate(-90 500 500)">&#916;</text></g>
<g transform="matrix(1.0032 0 0 1.0625 -469.69 -39.42)"><text x="500" y="500" font-family="Liberation Sans, sans-serif" font-size="36" transform="rotate(-90 500 500)">2</text></g>
<g transform="matrix(0.9984 0 0 1.0153 -437.18 856.61)"><text x="500" y="500" font-family="Liberation Serif, serif" font-size="51" transform="rotate(-90 500 500)">&#916;</text></g>
<g transform="matrix(1.0032 0 0 1.0430 -469.69 783.20)"><text x="500" y="500" font-family="Liberation Sans, sans-serif" font-size="36" transform="rotate(-90 500 500)">2</text></g>
<g transform="matrix(0.9509 0 0 0.9744 14.62 1351.72)"><text x="500" y="500" font-family="Liberation Sans, sans-serif" font-size="53">sin</text></g>
<g transform="matrix(1.0721 0 0 1.0223 17.69 1296.83)"><text x="500" y="500" font-family="Liberation Sans, sans-serif" font-size="36">2</text></g>
<g transform="matrix(1.1228 0 0 0.9642 13.25 1356.41)"><text x="500" y="500" font-family="Liberation Serif, serif" font-size="50">&#952;</text></g>
<g transform="matrix(0.9899 0 0 1.0107 105.95 1352.66)"><text x="500" y="500" font-family="Liberation Sans, sans-serif" font-size="36">23</text></g>
<g transform="matrix(0.9621 0 0 0.9744 901.67 1351.72)"><text x="500" y="500" font-family="Liberation Sans, sans-serif" font-size="53">sin</text></g>
<g transform="matrix(1.0508 0 0 1.0236 921.00 1296.19)"><text x="500" y="500" font-family="Liberation Sans, sans-serif" font-size="36">2</text></g>
<g transform="matrix(1.1423 0 0 0.9643 895.23 1356.40)"><text x="500" y="500" font-family="Liberation Serif, serif" font-size="50">&#952;</text></g>
<g transform="matrix(0.9919 0 0 1.0108 997.23 1352.59)"><text x="500" y="500" font-family="Liberation Sans, sans-serif" font-size="36">23</text></g>
<g transform="matrix(0.9663 0 0 1.0223 961.96 -296.20)"><text x="500" y="500" font-family="Liberation Sans, sans-serif" font-size="49">Minos</text></g>
<g transform="matrix(0.9663 0 0 1.0223 961.98 -241.67)"><text x="500" y="500" font-family="Liberation Sans, sans-serif" font-size="49">NOvA</text></g>
<g transform="matrix(0.9663 0 0 1.0223 961.88 -186.57)"><text x="500" y="500" font-family="Liberation Sans, sans-serif" font-size="49">T2K</text></g>
<g transform="matrix(0.9663 0 0 1.0223 962.27 -131.70)"><text x="500" y="500" font-family="Liberation Sans, sans-serif" font-size="49">IC23</text></g>
<g transform="matrix(0.9663 0 0 1.0223 962.13 -75.13)"><text x="500" y="500" font-family="Liberation Sans, sans-serif" font-size="49">LBL/IC</text></g>
<g transform="matrix(0.9653 0 0 1.0373 982.47 508.39)"><text x="500" y="500" font-family="Liberation Sans, sans-serif" font-size="49">Minos</text></g>
<g transform="matrix(0.9720 0 0 1.0293 891.51 511.64)"><text x="500" y="500" font-family="Liberation Sans, sans-serif" font-size="49">R</text></g>
<g transform="matrix(0.9659 0 0 0.9494 942.04 555.40)"><text x="500" y="500" font-family="Liberation Sans, sans-serif" font-size="49">+</text></g>
<g transform="matrix(0.9653 0 0 1.0373 982.45 564.07)"><text x="500" y="500" font-family="Liberation Sans, sans-serif" font-size="49">NOvA</text></g>
<g transform="matrix(0.9720 0 0 1.0293 891.51 567.81)"><text x="500" y="500" font-family="Liberation Sans, sans-serif" font-size="49">R</text></g>
<g transform="matrix(0.9659 0 0 0.9494 942.04 611.60)"><text x="500" y="500" font-family="Liberation Sans, sans-serif" font-size="49">+</text></g>
<g transform="matrix(0.9653 0 0 1.0373 982.95 618.66)"><text x="500" y="500" font-family="Liberation Sans, sans-serif" font-size="49">T2K</text></g>
<g transform="matrix(0.9720 0 0 1.0293 891.51 622.34)"><text x="500" y="500" font-family="Liberation Sans, sans-serif" font-size="49">R</text></g>
<g transform="matrix(0.9659 0 0 0.9494 942.04 666.10)"><text x="500" y="500" font-family="Liberation Sans, sans-serif" font-size="49">+</text></g>
<g transform="matrix(0.9653 0 0 1.0373 983.00 675.17)"><text x="500" y="500" font-family="Liberation Sans, sans-serif" font-size="49">IC23</text></g>
<g transform="matrix(0.9720 0 0 1.0293 891.51 678.94)"><text x="500" y="500" font-family="Liberation Sans, sans-serif" font-size="49">R</text></g>
<g transform="matrix(0.9659 0 0 0.9494 942.04 722.70)"><text x="500" y="500" font-family="Liberation Sans, sans-serif" font-size="49">+</text></g>
<g transform="matrix(0.9653 0 0 1.0373 982.53 731.19)"><text x="500" y="500" font-family="Liberation Sans, sans-serif" font-size="49">LBL/IC</text></g>
<g transform="matrix(0.9720 0 0 1.0293 891.51 734.17)"><text x="500" y="500" font-family="Liberation Sans, sans-serif" font-size="49">R</text></g>
<g transform="matrix(0.9659 0 0 0.9494 942.04 777.90)"><text x="500" y="500" font-family="Liberation Sans, sans-serif" font-size="49">+</text></g>
</g>
</svg></body></html>
